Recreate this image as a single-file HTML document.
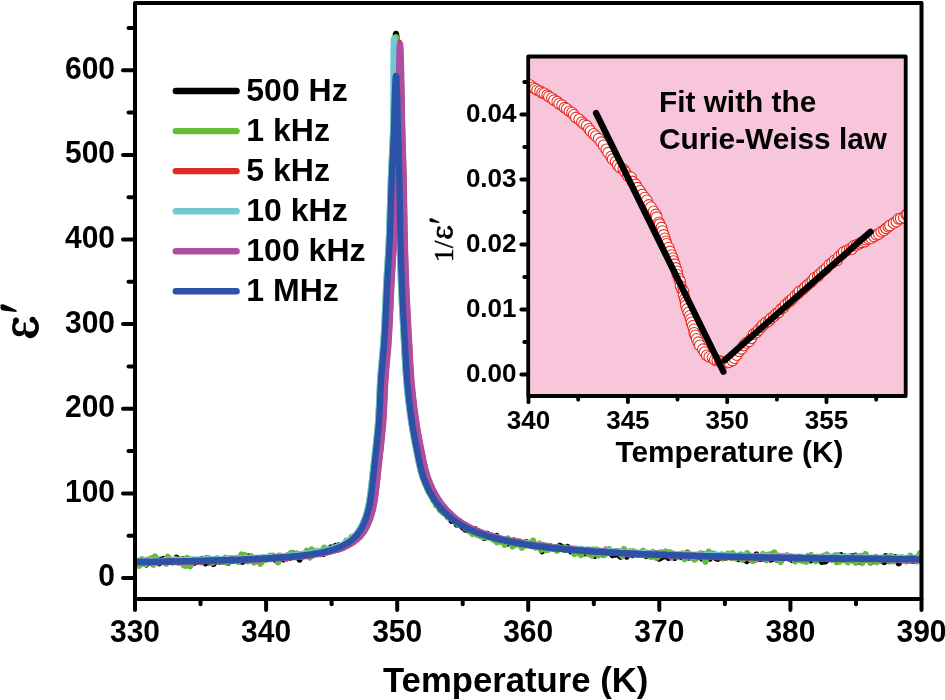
<!DOCTYPE html><html><head><meta charset="utf-8"><style>html,body{margin:0;padding:0;background:#fff;overflow:hidden;width:945px;height:700px}svg{display:block}text{font-family:"Liberation Sans",sans-serif;font-weight:bold}svg{will-change:transform}</style></head><body>
<svg width="945" height="700" viewBox="0 0 945 700">
<rect width="945" height="700" fill="#fff"/>
<g fill="none" stroke-linejoin="round" stroke-linecap="round" stroke-width="6.3" clip-path="url(#mainclip)">
<defs><clipPath id="mainclip"><rect x="135.0" y="3.0" width="786.5" height="596.0"/></clipPath></defs>
<path d="M135.0 562.3 L136.6 562.8 L138.2 561.9 L139.8 560.9 L141.4 561.6 L143.0 560.7 L144.6 562.3 L146.2 564.3 L147.8 561.4 L149.4 561.2 L151.0 562.9 L152.6 562.6 L154.2 562.2 L155.8 560.6 L157.4 562.0 L159.0 563.1 L160.6 559.9 L162.2 561.2 L163.8 559.0 L165.4 559.9 L167.0 559.0 L168.6 561.5 L170.2 559.8 L171.8 562.2 L173.4 562.0 L175.0 561.4 L176.6 557.8 L178.2 560.8 L179.8 561.5 L181.4 561.8 L183.0 559.2 L184.6 560.8 L186.2 560.0 L187.8 560.2 L189.4 563.1 L191.0 560.1 L192.6 561.3 L194.2 562.7 L195.8 560.4 L197.4 561.1 L199.0 561.4 L200.6 561.3 L202.2 559.2 L203.8 561.2 L205.4 563.2 L207.0 558.6 L208.6 562.3 L210.2 561.1 L211.8 559.9 L213.4 563.9 L215.0 562.0 L216.6 558.9 L218.2 560.8 L219.8 561.6 L221.4 560.3 L223.0 561.6 L224.6 560.4 L226.2 561.5 L227.8 562.6 L229.4 559.3 L231.0 560.6 L232.6 559.5 L234.2 560.4 L235.8 558.3 L237.4 559.2 L239.0 559.7 L240.6 561.3 L242.2 561.7 L243.8 557.8 L245.4 558.5 L247.0 560.7 L248.6 556.5 L250.2 558.8 L251.8 559.3 L253.4 561.4 L255.0 560.4 L256.6 558.8 L258.2 558.6 L259.8 558.7 L261.3 561.4 L262.9 558.3 L264.5 558.4 L266.1 559.3 L267.7 558.5 L269.3 558.3 L270.9 556.7 L272.5 558.3 L274.1 557.6 L275.7 560.0 L277.3 559.1 L278.9 557.9 L280.5 558.9 L282.1 557.2 L283.7 559.2 L285.3 557.4 L286.9 558.2 L288.5 555.2 L290.1 557.6 L291.7 554.3 L293.3 553.6 L294.9 556.1 L296.4 555.0 L298.0 556.5 L299.6 559.5 L301.2 554.6 L302.8 554.8 L304.4 555.8 L306.0 556.1 L307.6 554.8 L309.2 554.6 L310.7 555.7 L312.3 555.2 L313.9 552.6 L315.5 553.8 L317.1 553.7 L318.6 551.7 L320.2 553.4 L321.8 551.4 L323.3 553.8 L324.9 552.3 L326.5 551.8 L328.0 550.4 L329.5 550.7 L331.1 547.5 L332.6 548.3 L334.1 550.0 L335.7 545.9 L337.2 549.6 L338.7 545.4 L340.1 548.3 L341.6 545.4 L343.0 546.9 L344.5 545.3 L345.9 542.5 L347.2 545.1 L348.6 544.4 L349.9 541.7 L351.2 540.5 L352.4 539.7 L353.6 537.8 L354.8 538.6 L355.9 536.0 L356.9 535.2 L357.9 533.5 L358.9 532.3 L359.8 530.7 L360.7 530.7 L361.5 528.6 L362.2 527.7 L363.0 525.9 L363.6 524.2 L364.3 522.9 L364.9 521.4 L365.5 520.0 L366.0 518.4 L366.5 516.9 L367.0 515.4 L367.5 513.9 L367.9 512.4 L368.3 510.8 L368.7 509.2 L369.0 507.7 L369.3 506.1 L369.6 504.6 L369.9 503.0 L370.2 501.4 L370.4 499.8 L370.7 498.2 L370.9 496.7 L371.1 495.1 L371.4 493.5 L371.6 491.9 L371.8 490.3 L372.0 488.7 L372.1 487.1 L372.3 485.5 L372.5 483.9 L372.7 482.4 L372.8 480.8 L373.0 479.2 L373.2 477.6 L373.4 476.0 L373.6 474.4 L373.7 472.8 L373.9 471.2 L374.1 469.6 L374.2 468.0 L374.4 466.5 L374.6 464.9 L374.8 463.3 L374.9 461.7 L375.1 460.1 L375.3 458.5 L375.5 456.9 L375.6 455.3 L375.8 453.7 L376.0 452.1 L376.2 450.5 L376.4 449.0 L376.5 447.4 L376.7 445.8 L376.9 444.2 L377.1 442.6 L377.2 441.0 L377.4 439.4 L377.5 437.8 L377.7 436.2 L377.9 434.6 L378.0 433.0 L378.2 431.5 L378.3 429.9 L378.5 428.3 L378.6 426.7 L378.7 425.1 L378.9 423.5 L379.0 421.9 L379.1 420.3 L379.2 418.7 L379.3 417.1 L379.4 415.5 L379.5 413.9 L379.6 412.3 L379.6 410.7 L379.7 409.1 L379.8 407.5 L379.9 405.9 L379.9 404.3 L380.0 402.7 L380.1 401.1 L380.2 399.5 L380.2 397.9 L380.3 396.3 L380.4 394.7 L380.4 393.1 L380.5 391.5 L380.6 389.9 L380.7 388.3 L380.7 386.7 L380.8 385.1 L380.9 383.5 L381.0 381.9 L381.1 380.3 L381.2 378.7 L381.3 377.1 L381.4 375.6 L381.5 374.0 L381.7 372.4 L381.8 370.8 L381.9 369.2 L382.1 367.6 L382.2 366.0 L382.4 364.4 L382.5 362.8 L382.7 361.2 L382.8 359.6 L383.0 358.0 L383.1 356.4 L383.2 354.8 L383.4 353.2 L383.5 351.6 L383.7 350.0 L383.8 348.5 L383.9 346.9 L384.1 345.3 L384.2 343.7 L384.3 342.1 L384.4 340.5 L384.5 338.9 L384.6 337.3 L384.7 335.7 L384.8 334.1 L384.9 332.5 L385.0 330.9 L385.0 329.3 L385.1 327.7 L385.2 326.1 L385.3 324.5 L385.4 322.9 L385.5 321.3 L385.5 319.7 L385.6 318.1 L385.7 316.5 L385.8 314.9 L385.8 313.3 L385.9 311.7 L386.0 310.1 L386.1 308.5 L386.1 306.9 L386.2 305.3 L386.3 303.7 L386.3 302.1 L386.4 300.5 L386.5 298.9 L386.6 297.3 L386.6 295.7 L386.7 294.1 L386.8 292.5 L386.9 290.9 L386.9 289.3 L387.0 287.7 L387.1 286.1 L387.2 284.5 L387.3 282.9 L387.3 281.4 L387.4 279.8 L387.5 278.2 L387.6 276.6 L387.7 275.0 L387.8 273.4 L387.9 271.8 L388.0 270.2 L388.1 268.6 L388.2 267.0 L388.3 265.4 L388.4 263.8 L388.5 262.2 L388.6 260.6 L388.7 259.0 L388.8 257.4 L388.9 255.8 L389.0 254.2 L389.1 252.6 L389.2 251.0 L389.2 249.4 L389.3 247.8 L389.4 246.2 L389.5 244.6 L389.6 243.0 L389.7 241.4 L389.7 239.8 L389.8 238.2 L389.9 236.6 L389.9 235.0 L390.0 233.4 L390.0 231.8 L390.1 230.2 L390.2 228.6 L390.2 227.0 L390.3 225.4 L390.3 223.8 L390.4 222.2 L390.4 220.6 L390.5 219.0 L390.5 217.4 L390.6 215.8 L390.6 214.2 L390.7 212.6 L390.7 211.0 L390.8 209.4 L390.8 207.8 L390.9 206.2 L390.9 204.6 L391.0 203.0 L391.0 201.4 L391.1 199.8 L391.1 198.2 L391.2 196.6 L391.2 195.0 L391.3 193.4 L391.3 191.8 L391.4 190.2 L391.4 188.6 L391.5 187.0 L391.5 185.4 L391.6 183.8 L391.6 182.2 L391.7 180.7 L391.7 179.1 L391.8 177.5 L391.9 175.9 L391.9 174.3 L392.0 172.7 L392.1 171.1 L392.2 169.5 L392.2 167.9 L392.3 166.3 L392.4 164.7 L392.5 163.1 L392.6 161.5 L392.6 159.9 L392.7 158.3 L392.8 156.7 L392.9 155.1 L393.0 153.5 L393.1 151.9 L393.1 150.3 L393.2 148.7 L393.3 147.1 L393.4 145.5 L393.4 143.9 L393.5 142.3 L393.6 140.7 L393.7 139.1 L393.7 137.5 L393.8 135.9 L393.9 134.3 L393.9 132.7 L394.0 131.1 L394.0 129.5 L394.1 127.9 L394.1 126.3 L394.2 124.7 L394.2 123.1 L394.2 121.5 L394.3 119.9 L394.3 118.3 L394.3 116.7 L394.3 115.1 L394.3 113.5 L394.4 111.9 L394.4 110.3 L394.4 108.7 L394.4 107.1 L394.4 105.5 L394.4 103.9 L394.4 102.3 L394.5 100.7 L394.5 99.1 L394.5 97.5 L394.5 95.9 L394.5 94.3 L394.6 92.7 L394.6 91.1 L394.6 89.5 L394.6 87.9 L394.6 86.3 L394.7 84.7 L394.7 83.1 L394.7 81.5 L394.7 79.9 L394.7 78.3 L394.8 76.7 L394.8 75.1 L394.8 73.5 L394.8 71.9 L394.9 70.3 L394.9 68.7 L394.9 67.1 L394.9 65.5 L395.0 63.9 L395.0 62.3 L395.0 60.7 L395.1 59.1 L395.1 57.5 L395.1 55.9 L395.1 54.3 L395.2 52.7 L395.2 51.1 L395.3 49.5 L395.3 47.9 L395.3 46.3 L395.4 44.7 L395.4 43.1 L395.5 41.5 L395.5 39.9 L395.6 38.3 L395.7 36.7 L395.8 35.0 L396.0 33.9 L396.3 35.6 L396.4 37.2 L396.4 38.8 L396.5 40.4 L396.5 42.0 L396.6 43.6 L396.6 45.2 L396.7 46.8 L396.7 48.4 L396.8 50.0 L396.8 51.6 L396.8 53.2 L396.9 54.8 L396.9 56.4 L396.9 58.0 L397.0 59.6 L397.0 61.2 L397.0 62.8 L397.0 64.4 L397.1 66.0 L397.1 67.6 L397.1 69.2 L397.1 70.8 L397.2 72.4 L397.2 74.0 L397.2 75.6 L397.2 77.2 L397.3 78.8 L397.3 80.4 L397.3 82.0 L397.3 83.6 L397.3 85.2 L397.4 86.8 L397.4 88.4 L397.4 90.0 L397.4 91.6 L397.5 93.2 L397.5 94.8 L397.5 96.4 L397.5 98.0 L397.5 99.6 L397.5 101.2 L397.6 102.8 L397.6 104.4 L397.6 106.0 L397.6 107.6 L397.6 109.2 L397.6 110.8 L397.7 112.4 L397.7 114.0 L397.7 115.6 L397.7 117.2 L397.7 118.8 L397.8 120.4 L397.8 122.0 L397.8 123.6 L397.8 125.2 L397.9 126.8 L397.9 128.4 L397.9 130.0 L398.0 131.6 L398.0 133.2 L398.1 134.8 L398.1 136.4 L398.1 138.0 L398.2 139.6 L398.2 141.2 L398.3 142.8 L398.3 144.4 L398.4 146.0 L398.4 147.6 L398.5 149.2 L398.5 150.8 L398.6 152.4 L398.6 154.0 L398.7 155.6 L398.7 157.2 L398.8 158.8 L398.8 160.4 L398.9 162.0 L398.9 163.6 L399.0 165.2 L399.0 166.8 L399.1 168.4 L399.1 170.0 L399.2 171.6 L399.2 173.2 L399.3 174.8 L399.3 176.4 L399.3 178.0 L399.4 179.6 L399.4 181.2 L399.5 182.8 L399.5 184.4 L399.5 186.0 L399.6 187.6 L399.6 189.2 L399.6 190.8 L399.6 192.4 L399.7 194.0 L399.7 195.6 L399.7 197.2 L399.8 198.8 L399.8 200.4 L399.8 202.0 L399.8 203.6 L399.9 205.2 L399.9 206.8 L399.9 208.4 L399.9 210.0 L400.0 211.6 L400.0 213.2 L400.0 214.8 L400.0 216.4 L400.1 218.0 L400.1 219.6 L400.1 221.2 L400.2 222.8 L400.2 224.4 L400.2 226.0 L400.2 227.6 L400.3 229.2 L400.3 230.8 L400.3 232.4 L400.4 234.0 L400.4 235.6 L400.4 237.2 L400.5 238.8 L400.5 240.4 L400.5 242.0 L400.6 243.6 L400.6 245.2 L400.7 246.8 L400.7 248.4 L400.7 250.0 L400.8 251.6 L400.8 253.2 L400.9 254.8 L400.9 256.4 L401.0 258.0 L401.0 259.6 L401.1 261.2 L401.1 262.8 L401.2 264.4 L401.2 266.0 L401.3 267.6 L401.3 269.2 L401.4 270.8 L401.4 272.4 L401.5 274.0 L401.5 275.6 L401.6 277.2 L401.6 278.8 L401.7 280.4 L401.8 282.0 L401.8 283.6 L401.9 285.2 L402.0 286.8 L402.0 288.4 L402.1 290.0 L402.2 291.6 L402.2 293.2 L402.3 294.8 L402.4 296.4 L402.4 298.0 L402.5 299.6 L402.6 301.2 L402.7 302.8 L402.8 304.4 L402.8 305.9 L402.9 307.5 L403.0 309.1 L403.1 310.7 L403.2 312.3 L403.3 313.9 L403.3 315.5 L403.4 317.1 L403.5 318.7 L403.6 320.3 L403.7 321.9 L403.8 323.5 L403.9 325.1 L404.0 326.7 L404.0 328.3 L404.1 329.9 L404.2 331.5 L404.3 333.1 L404.4 334.7 L404.5 336.3 L404.6 337.9 L404.7 339.5 L404.7 341.1 L404.8 342.7 L404.9 344.3 L405.0 345.9 L405.1 347.5 L405.2 349.1 L405.3 350.7 L405.3 352.3 L405.4 353.9 L405.5 355.5 L405.6 357.1 L405.7 358.7 L405.8 360.3 L405.9 361.9 L406.0 363.5 L406.1 365.1 L406.2 366.7 L406.3 368.3 L406.4 369.9 L406.5 371.5 L406.6 373.1 L406.7 374.6 L406.8 376.2 L406.9 377.8 L407.0 379.4 L407.2 381.0 L407.3 382.6 L407.4 384.2 L407.6 385.8 L407.7 387.4 L407.9 389.0 L408.0 390.6 L408.2 392.2 L408.4 393.8 L408.5 395.4 L408.7 397.0 L408.9 398.5 L409.1 400.1 L409.3 401.7 L409.5 403.3 L409.6 404.9 L409.8 406.5 L410.0 408.1 L410.3 409.7 L410.5 411.3 L410.7 412.8 L410.9 414.4 L411.1 416.0 L411.3 417.6 L411.5 419.2 L411.8 420.8 L412.0 422.3 L412.2 423.9 L412.5 425.5 L412.7 427.1 L413.0 428.7 L413.2 430.2 L413.5 431.8 L413.8 433.4 L414.1 435.0 L414.4 436.5 L414.6 438.1 L414.9 439.7 L415.2 441.3 L415.5 442.8 L415.8 444.4 L416.1 446.0 L416.5 447.6 L416.8 449.1 L417.1 450.7 L417.4 452.3 L417.7 453.8 L418.0 455.4 L418.3 457.0 L418.7 458.6 L419.0 460.1 L419.3 461.7 L419.6 463.3 L420.0 464.8 L420.3 466.4 L420.7 468.0 L421.1 469.5 L421.5 471.1 L421.9 472.6 L422.3 474.1 L422.8 475.7 L423.2 477.2 L423.8 478.7 L424.3 480.1 L424.9 481.7 L425.6 483.0 L426.2 484.5 L426.8 485.6 L427.5 487.5 L428.2 489.6 L428.9 491.1 L429.6 492.4 L430.3 493.6 L431.1 494.4 L431.9 496.7 L432.7 497.4 L433.6 498.8 L434.4 500.0 L435.3 501.5 L436.2 502.5 L437.2 504.0 L438.1 504.6 L439.1 506.3 L440.1 509.6 L441.2 509.0 L442.2 510.1 L443.3 511.9 L444.5 513.2 L445.6 512.7 L446.8 514.6 L447.9 516.8 L449.2 517.2 L450.4 518.1 L451.6 520.6 L452.9 519.2 L454.2 521.0 L455.5 521.2 L456.8 524.5 L458.2 521.2 L459.5 523.6 L460.9 524.6 L462.3 526.9 L463.7 527.6 L465.1 529.4 L466.5 526.2 L468.0 530.0 L469.4 529.3 L470.9 529.4 L472.3 531.7 L473.8 530.3 L475.3 529.3 L476.8 532.3 L478.3 531.2 L479.8 533.0 L481.3 535.0 L482.8 535.4 L484.3 537.8 L485.8 535.7 L487.4 534.2 L488.9 535.8 L490.4 536.0 L492.0 536.0 L493.5 538.9 L495.1 537.7 L496.6 536.1 L498.2 540.5 L499.7 539.6 L501.3 540.7 L502.8 540.7 L504.4 541.8 L505.9 541.3 L507.5 543.4 L509.1 542.5 L510.6 542.8 L512.2 543.1 L513.8 540.6 L515.4 542.8 L516.9 543.0 L518.5 544.0 L520.1 541.9 L521.7 546.7 L523.2 544.6 L524.8 542.9 L526.4 542.3 L528.0 544.8 L529.6 545.3 L531.2 544.6 L532.7 546.0 L534.3 545.1 L535.9 547.2 L537.5 545.4 L539.1 546.7 L540.7 548.4 L542.3 551.1 L543.8 545.8 L545.4 546.8 L547.0 546.4 L548.6 549.1 L550.2 546.3 L551.8 547.5 L553.4 548.4 L555.0 547.1 L556.6 547.3 L558.2 548.2 L559.8 545.8 L561.3 547.0 L562.9 548.7 L564.5 549.7 L566.1 549.4 L567.7 547.1 L569.3 549.2 L570.9 551.3 L572.5 551.1 L574.1 550.2 L575.7 549.1 L577.3 551.6 L578.9 549.8 L580.5 549.0 L582.1 549.7 L583.7 553.3 L585.3 551.5 L586.9 553.1 L588.5 550.7 L590.1 553.0 L591.6 550.7 L593.2 551.5 L594.8 555.7 L596.4 553.2 L598.0 551.3 L599.6 552.1 L601.2 552.8 L602.8 554.3 L604.4 551.7 L606.0 549.9 L607.6 552.2 L609.2 552.8 L610.8 553.0 L612.4 555.0 L614.0 553.5 L615.6 554.4 L617.2 551.5 L618.8 554.6 L620.4 556.6 L622.0 554.7 L623.6 553.9 L625.2 553.9 L626.8 556.5 L628.4 552.3 L630.0 553.7 L631.6 554.6 L633.2 555.1 L634.8 553.4 L636.4 554.6 L638.0 553.8 L639.6 554.5 L641.2 554.1 L642.8 552.7 L644.4 554.5 L646.0 555.9 L647.6 553.1 L649.2 554.3 L650.8 555.8 L652.4 553.2 L654.0 555.2 L655.6 553.3 L657.2 556.8 L658.8 558.6 L660.4 558.2 L662.0 554.8 L663.6 556.4 L665.2 555.5 L666.8 555.5 L668.4 557.8 L670.0 553.4 L671.6 557.1 L673.1 555.5 L674.7 557.8 L676.3 556.0 L677.9 554.7 L679.5 556.2 L681.1 557.0 L682.7 555.9 L684.3 556.7 L685.9 555.2 L687.5 552.7 L689.1 557.5 L690.7 557.2 L692.3 556.4 L693.9 556.3 L695.5 557.8 L697.1 555.6 L698.7 555.2 L700.3 556.1 L701.9 558.3 L703.5 554.3 L705.1 558.3 L706.7 555.6 L708.3 554.9 L709.9 558.6 L711.5 556.5 L713.1 554.7 L714.7 556.2 L716.3 558.2 L717.9 558.7 L719.5 556.2 L721.1 557.5 L722.7 558.0 L724.3 556.0 L725.9 557.6 L727.5 557.0 L729.1 556.2 L730.7 556.4 L732.3 557.3 L733.9 557.2 L735.5 556.3 L737.1 556.6 L738.7 559.0 L740.3 557.7 L741.9 558.7 L743.5 559.2 L745.1 558.3 L746.7 561.0 L748.3 556.2 L749.9 558.8 L751.5 557.0 L753.1 560.4 L754.7 560.2 L756.3 554.6 L757.9 556.2 L759.5 558.7 L761.1 558.9 L762.7 558.9 L764.3 557.7 L765.9 558.5 L767.5 558.8 L769.1 557.7 L770.7 559.5 L772.3 554.4 L773.9 558.9 L775.5 556.4 L777.1 559.5 L778.7 557.7 L780.3 556.7 L781.9 558.7 L783.5 556.7 L785.1 556.7 L786.7 555.7 L788.3 558.1 L789.9 559.0 L791.5 559.8 L793.1 558.0 L794.7 559.9 L796.3 558.3 L797.9 558.2 L799.5 559.2 L801.1 560.0 L802.7 557.9 L804.3 558.0 L805.9 558.2 L807.5 558.6 L809.1 557.1 L810.7 560.1 L812.3 557.9 L813.9 559.2 L815.5 557.3 L817.1 559.1 L818.7 559.2 L820.3 558.0 L821.9 561.8 L823.5 559.2 L825.1 561.4 L826.7 560.2 L828.3 557.7 L829.9 558.1 L831.5 559.4 L833.1 558.9 L834.7 558.9 L836.3 558.4 L837.9 556.0 L839.5 558.5 L841.1 555.4 L842.7 559.5 L844.3 557.8 L845.9 557.8 L847.5 558.6 L849.1 559.4 L850.7 556.7 L852.3 556.3 L853.9 557.3 L855.5 555.9 L857.1 557.5 L858.7 561.5 L860.3 557.4 L861.9 560.1 L863.5 557.0 L865.1 559.6 L866.7 558.6 L868.3 559.1 L869.9 560.0 L871.5 561.9 L873.1 559.5 L874.7 559.4 L876.3 557.7 L877.9 560.1 L879.5 558.9 L881.1 560.6 L882.7 559.2 L884.3 562.0 L885.9 556.2 L887.5 558.9 L889.1 560.7 L890.7 558.8 L892.3 558.1 L893.9 559.0 L895.5 557.3 L897.1 559.6 L898.7 563.2 L900.3 561.2 L901.9 557.7 L903.5 558.1 L905.1 558.8 L906.7 561.0 L908.3 558.2 L909.9 558.4 L911.5 560.9 L913.1 560.9 L914.7 559.0 L916.3 557.8 L917.9 557.2 L919.5 558.5 L921.1 556.1" stroke="#000000"/>
<path d="M134.2 563.4 L135.8 560.5 L137.4 562.8 L139.0 565.7 L140.6 564.2 L142.2 559.3 L143.8 563.5 L145.4 564.1 L147.0 560.1 L148.6 559.6 L150.2 561.4 L151.8 558.2 L153.4 564.7 L155.0 556.5 L156.6 559.2 L158.2 560.9 L159.8 561.0 L161.4 561.8 L163.0 562.0 L164.6 560.9 L166.2 563.7 L167.8 556.8 L169.4 561.3 L171.0 559.8 L172.6 561.5 L174.2 561.7 L175.8 559.3 L177.4 559.8 L179.0 562.8 L180.6 561.8 L182.2 559.6 L183.8 565.3 L185.4 565.8 L187.0 557.9 L188.6 561.6 L190.2 566.2 L191.8 562.5 L193.4 561.3 L195.0 560.3 L196.6 559.6 L198.2 560.3 L199.8 559.5 L201.4 562.2 L203.0 559.8 L204.6 559.6 L206.2 558.0 L207.8 560.4 L209.4 558.6 L211.0 560.0 L212.6 562.5 L214.2 561.1 L215.8 561.3 L217.4 561.0 L219.0 560.3 L220.6 559.8 L222.2 559.4 L223.8 561.6 L225.4 557.7 L227.0 562.7 L228.6 559.9 L230.2 558.2 L231.8 558.7 L233.4 558.3 L235.0 560.0 L236.6 558.1 L238.2 561.9 L239.8 557.8 L241.4 554.6 L243.0 557.8 L244.6 555.0 L246.2 559.1 L247.8 561.3 L249.4 560.4 L251.0 556.2 L252.6 557.3 L254.2 562.6 L255.8 559.4 L257.4 558.7 L259.0 560.8 L260.5 563.7 L262.1 561.1 L263.7 558.6 L265.3 559.0 L266.9 559.5 L268.5 556.8 L270.1 555.8 L271.7 558.0 L273.3 555.8 L274.9 557.5 L276.5 557.7 L278.1 562.3 L279.7 555.5 L281.3 556.9 L282.9 556.7 L284.5 557.9 L286.1 559.0 L287.7 555.7 L289.3 554.8 L290.9 553.0 L292.5 554.3 L294.1 557.2 L295.6 556.0 L297.2 553.6 L298.8 554.8 L300.4 555.5 L302.0 556.3 L303.6 553.8 L305.2 554.3 L306.8 550.8 L308.4 552.0 L309.9 557.5 L311.5 549.4 L313.1 553.0 L314.7 553.8 L316.3 552.4 L317.8 551.2 L319.4 552.4 L321.0 552.2 L322.5 551.7 L324.1 547.7 L325.7 550.9 L327.2 549.1 L328.7 549.3 L330.3 550.4 L331.8 550.7 L333.3 550.7 L334.9 547.5 L336.4 549.7 L337.9 549.6 L339.3 548.9 L340.8 548.6 L342.2 545.1 L343.7 544.4 L345.1 545.3 L346.4 540.8 L347.8 542.5 L349.1 540.5 L350.4 539.8 L351.6 536.9 L352.8 537.1 L354.0 537.1 L355.1 537.0 L356.1 535.8 L357.1 533.5 L358.1 532.1 L359.0 530.3 L359.9 529.9 L360.7 528.1 L361.4 527.1 L362.2 526.1 L362.8 523.9 L363.5 522.0 L364.1 520.8 L364.7 519.2 L365.2 517.9 L365.7 516.5 L366.2 514.9 L366.7 513.4 L367.1 511.9 L367.5 510.3 L367.9 508.7 L368.2 507.2 L368.5 505.6 L368.8 504.1 L369.1 502.5 L369.4 500.9 L369.6 499.3 L369.9 497.7 L370.1 496.2 L370.3 494.6 L370.6 493.0 L370.8 491.4 L371.0 489.8 L371.2 488.2 L371.3 486.6 L371.5 485.0 L371.7 483.4 L371.9 481.9 L372.0 480.3 L372.2 478.7 L372.4 477.1 L372.6 475.5 L372.8 473.9 L372.9 472.3 L373.1 470.7 L373.3 469.1 L373.4 467.5 L373.6 466.0 L373.8 464.4 L374.0 462.8 L374.1 461.2 L374.3 459.6 L374.5 458.0 L374.7 456.4 L374.8 454.8 L375.0 453.2 L375.2 451.6 L375.4 450.0 L375.6 448.5 L375.7 446.9 L375.9 445.3 L376.1 443.7 L376.3 442.1 L376.4 440.5 L376.6 438.9 L376.7 437.3 L376.9 435.7 L377.1 434.1 L377.2 432.5 L377.4 431.0 L377.5 429.4 L377.7 427.8 L377.8 426.2 L377.9 424.6 L378.1 423.0 L378.2 421.4 L378.3 419.8 L378.4 418.2 L378.5 416.6 L378.6 415.0 L378.7 413.4 L378.8 411.8 L378.8 410.2 L378.9 408.6 L379.0 407.0 L379.1 405.4 L379.1 403.8 L379.2 402.2 L379.3 400.6 L379.4 399.0 L379.4 397.4 L379.5 395.8 L379.6 394.2 L379.6 392.6 L379.7 391.0 L379.8 389.4 L379.9 387.8 L379.9 386.2 L380.0 384.6 L380.1 383.0 L380.2 381.4 L380.3 379.8 L380.4 378.2 L380.5 376.6 L380.6 375.1 L380.7 373.5 L380.9 371.9 L381.0 370.3 L381.1 368.7 L381.3 367.1 L381.4 365.5 L381.6 363.9 L381.7 362.3 L381.9 360.7 L382.0 359.1 L382.2 357.5 L382.3 355.9 L382.4 354.3 L382.6 352.7 L382.7 351.1 L382.9 349.5 L383.0 348.0 L383.1 346.4 L383.3 344.8 L383.4 343.2 L383.5 341.6 L383.6 340.0 L383.7 338.4 L383.8 336.8 L383.9 335.2 L384.0 333.6 L384.1 332.0 L384.2 330.4 L384.2 328.8 L384.3 327.2 L384.4 325.6 L384.5 324.0 L384.6 322.4 L384.7 320.8 L384.7 319.2 L384.8 317.6 L384.9 316.0 L385.0 314.4 L385.0 312.8 L385.1 311.2 L385.2 309.6 L385.3 308.0 L385.3 306.4 L385.4 304.8 L385.5 303.2 L385.5 301.6 L385.6 300.0 L385.7 298.4 L385.8 296.8 L385.8 295.2 L385.9 293.6 L386.0 292.0 L386.1 290.4 L386.1 288.8 L386.2 287.2 L386.3 285.6 L386.4 284.0 L386.5 282.4 L386.5 280.9 L386.6 279.3 L386.7 277.7 L386.8 276.1 L386.9 274.5 L387.0 272.9 L387.1 271.3 L387.2 269.7 L387.3 268.1 L387.4 266.5 L387.5 264.9 L387.6 263.3 L387.7 261.7 L387.8 260.1 L387.9 258.5 L388.0 256.9 L388.1 255.3 L388.2 253.7 L388.3 252.1 L388.4 250.5 L388.4 248.9 L388.5 247.3 L388.6 245.7 L388.7 244.1 L388.8 242.5 L388.9 240.9 L388.9 239.3 L389.0 237.7 L389.1 236.1 L389.1 234.5 L389.2 232.9 L389.2 231.3 L389.3 229.7 L389.4 228.1 L389.4 226.5 L389.5 224.9 L389.5 223.3 L389.6 221.7 L389.6 220.1 L389.7 218.5 L389.7 216.9 L389.8 215.3 L389.8 213.7 L389.9 212.1 L389.9 210.5 L390.0 208.9 L390.0 207.3 L390.1 205.7 L390.1 204.1 L390.2 202.5 L390.2 200.9 L390.3 199.3 L390.3 197.7 L390.4 196.1 L390.4 194.5 L390.5 192.9 L390.5 191.3 L390.6 189.7 L390.6 188.1 L390.7 186.5 L390.7 184.9 L390.8 183.3 L390.8 181.7 L390.9 180.2 L390.9 178.6 L391.0 177.0 L391.1 175.4 L391.1 173.8 L391.2 172.2 L391.3 170.6 L391.3 169.0 L391.4 167.4 L391.5 165.8 L391.6 164.2 L391.6 162.6 L391.7 161.0 L391.8 159.4 L391.9 157.8 L391.9 156.2 L392.0 154.6 L392.1 153.0 L392.2 151.4 L392.3 149.8 L392.3 148.2 L392.4 146.6 L392.5 145.0 L392.6 143.4 L392.6 141.8 L392.7 140.2 L392.8 138.6 L392.8 137.0 L392.9 135.4 L393.0 133.8 L393.0 132.2 L393.1 130.6 L393.2 129.0 L393.2 127.4 L393.3 125.8 L393.3 124.2 L393.4 122.6 L393.4 121.0 L393.5 119.4 L393.5 117.8 L393.5 116.2 L393.6 114.6 L393.6 113.0 L393.6 111.4 L393.7 109.8 L393.7 108.2 L393.7 106.6 L393.8 105.0 L393.8 103.4 L393.8 101.8 L393.9 100.2 L393.9 98.6 L393.9 97.0 L394.0 95.4 L394.0 93.8 L394.0 92.2 L394.1 90.6 L394.1 89.0 L394.1 87.4 L394.2 85.8 L394.2 84.2 L394.3 82.6 L394.3 81.0 L394.3 79.4 L394.4 77.8 L394.4 76.2 L394.4 74.6 L394.5 73.0 L394.5 71.4 L394.6 69.8 L394.6 68.2 L394.7 66.6 L394.7 65.0 L394.7 63.4 L394.8 61.8 L394.8 60.2 L394.9 58.6 L394.9 57.0 L395.0 55.4 L395.0 53.8 L395.1 52.2 L395.1 50.6 L395.2 49.0 L395.3 47.4 L395.3 45.8 L395.4 44.2 L395.5 42.6 L395.5 41.0 L395.6 39.4 L395.8 37.8 L396.0 37.1 L396.2 37.9 L396.3 39.5 L396.4 41.1 L396.4 42.7 L396.5 44.3 L396.5 45.9 L396.5 47.5 L396.6 49.1 L396.6 50.7 L396.6 52.3 L396.6 53.9 L396.7 55.5 L396.7 57.1 L396.7 58.7 L396.7 60.3 L396.7 61.9 L396.7 63.5 L396.8 65.1 L396.8 66.7 L396.8 68.3 L396.8 69.9 L396.8 71.5 L396.8 73.1 L396.8 74.7 L396.8 76.3 L396.8 77.9 L396.8 79.5 L396.9 81.1 L396.9 82.7 L396.9 84.3 L396.9 85.9 L396.9 87.5 L396.9 89.1 L396.9 90.7 L396.9 92.3 L396.9 93.9 L396.9 95.5 L396.9 97.1 L396.9 98.7 L396.9 100.3 L396.9 101.9 L396.9 103.5 L396.9 105.1 L396.9 106.7 L396.9 108.3 L396.9 109.9 L396.9 111.5 L396.9 113.1 L396.9 114.7 L396.9 116.3 L396.9 117.9 L396.9 119.5 L397.0 121.1 L397.0 122.7 L397.0 124.3 L397.0 125.9 L397.0 127.5 L397.0 129.1 L397.1 130.7 L397.1 132.3 L397.1 133.9 L397.2 135.5 L397.2 137.1 L397.3 138.7 L397.3 140.3 L397.4 141.9 L397.4 143.5 L397.5 145.1 L397.5 146.7 L397.6 148.3 L397.6 149.9 L397.7 151.5 L397.7 153.1 L397.8 154.7 L397.9 156.3 L397.9 157.9 L398.0 159.5 L398.0 161.1 L398.1 162.7 L398.1 164.3 L398.2 165.9 L398.3 167.5 L398.3 169.1 L398.4 170.7 L398.4 172.3 L398.5 173.9 L398.5 175.5 L398.5 177.1 L398.6 178.7 L398.6 180.3 L398.6 181.9 L398.7 183.5 L398.7 185.1 L398.7 186.7 L398.8 188.3 L398.8 189.9 L398.8 191.5 L398.9 193.1 L398.9 194.7 L398.9 196.3 L398.9 197.9 L399.0 199.5 L399.0 201.1 L399.0 202.7 L399.1 204.3 L399.1 205.9 L399.1 207.5 L399.1 209.1 L399.2 210.7 L399.2 212.3 L399.2 213.9 L399.2 215.5 L399.3 217.1 L399.3 218.7 L399.3 220.3 L399.3 221.9 L399.4 223.5 L399.4 225.1 L399.4 226.7 L399.5 228.3 L399.5 229.9 L399.5 231.5 L399.6 233.1 L399.6 234.7 L399.6 236.3 L399.7 237.9 L399.7 239.5 L399.7 241.1 L399.8 242.7 L399.8 244.3 L399.8 245.9 L399.9 247.5 L399.9 249.1 L400.0 250.7 L400.0 252.3 L400.1 253.9 L400.1 255.5 L400.2 257.1 L400.2 258.7 L400.2 260.3 L400.3 261.9 L400.3 263.5 L400.4 265.1 L400.4 266.7 L400.5 268.3 L400.6 269.9 L400.6 271.5 L400.7 273.1 L400.7 274.7 L400.8 276.3 L400.8 277.9 L400.9 279.5 L400.9 281.1 L401.0 282.7 L401.1 284.3 L401.1 285.9 L401.2 287.5 L401.3 289.1 L401.3 290.7 L401.4 292.3 L401.5 293.9 L401.6 295.4 L401.6 297.0 L401.7 298.6 L401.8 300.2 L401.9 301.8 L401.9 303.4 L402.0 305.0 L402.1 306.6 L402.2 308.2 L402.3 309.8 L402.4 311.4 L402.4 313.0 L402.5 314.6 L402.6 316.2 L402.7 317.8 L402.8 319.4 L402.9 321.0 L403.0 322.6 L403.0 324.2 L403.1 325.8 L403.2 327.4 L403.3 329.0 L403.4 330.6 L403.5 332.2 L403.6 333.8 L403.7 335.4 L403.7 337.0 L403.8 338.6 L403.9 340.2 L404.0 341.8 L404.1 343.4 L404.2 345.0 L404.3 346.6 L404.3 348.2 L404.4 349.8 L404.5 351.4 L404.6 353.0 L404.7 354.6 L404.8 356.2 L404.9 357.8 L405.0 359.4 L405.0 361.0 L405.1 362.6 L405.2 364.2 L405.3 365.8 L405.4 367.4 L405.5 369.0 L405.6 370.5 L405.7 372.1 L405.9 373.7 L406.0 375.3 L406.1 376.9 L406.2 378.5 L406.3 380.1 L406.5 381.7 L406.6 383.3 L406.7 384.9 L406.9 386.5 L407.0 388.1 L407.2 389.7 L407.3 391.3 L407.5 392.9 L407.7 394.5 L407.9 396.0 L408.0 397.6 L408.2 399.2 L408.4 400.8 L408.6 402.4 L408.8 404.0 L409.0 405.6 L409.2 407.2 L409.4 408.8 L409.6 410.3 L409.8 411.9 L410.0 413.5 L410.2 415.1 L410.5 416.7 L410.7 418.3 L410.9 419.9 L411.1 421.4 L411.4 423.0 L411.6 424.6 L411.9 426.2 L412.1 427.8 L412.4 429.3 L412.6 430.9 L412.9 432.5 L413.2 434.1 L413.5 435.6 L413.8 437.2 L414.1 438.8 L414.4 440.4 L414.7 441.9 L415.0 443.5 L415.3 445.1 L415.6 446.7 L415.9 448.2 L416.2 449.8 L416.5 451.4 L416.8 452.9 L417.1 454.5 L417.5 456.1 L417.8 457.6 L418.1 459.2 L418.4 460.8 L418.8 462.4 L419.1 463.9 L419.5 465.5 L419.8 467.1 L420.2 468.6 L420.6 470.2 L421.0 471.7 L421.4 473.2 L421.8 474.8 L422.3 476.2 L422.8 477.6 L423.4 479.5 L424.0 480.8 L424.6 481.8 L425.2 484.3 L425.9 484.9 L426.5 486.8 L427.2 488.2 L427.9 490.2 L428.6 490.8 L429.3 493.0 L430.1 493.4 L430.9 495.9 L431.7 496.1 L432.5 497.7 L433.4 500.7 L434.3 500.9 L435.2 502.1 L436.1 505.3 L437.1 504.9 L438.1 505.0 L439.1 507.8 L440.1 507.0 L441.2 510.7 L442.3 512.1 L443.4 511.1 L444.5 512.1 L445.7 514.3 L446.8 515.1 L448.0 514.8 L449.3 518.0 L450.5 515.2 L451.8 518.5 L453.1 519.5 L454.4 520.6 L455.7 522.4 L457.0 520.8 L458.4 524.7 L459.8 524.2 L461.1 524.2 L462.5 523.7 L463.9 524.8 L465.4 528.2 L466.8 526.6 L468.2 529.1 L469.7 531.6 L471.2 532.2 L472.6 533.9 L474.1 531.0 L475.6 530.1 L477.1 534.7 L478.6 533.9 L480.1 536.0 L481.6 534.4 L483.1 537.2 L484.6 537.0 L486.2 537.2 L487.7 537.3 L489.2 537.5 L490.8 537.7 L492.3 538.1 L493.9 540.0 L495.4 537.4 L497.0 542.3 L498.5 539.0 L500.1 541.6 L501.6 539.8 L503.2 539.8 L504.7 544.8 L506.3 540.3 L507.9 538.7 L509.4 540.2 L511.0 541.3 L512.6 546.6 L514.2 542.9 L515.7 544.7 L517.3 541.0 L518.9 544.1 L520.5 545.0 L522.0 547.6 L523.6 542.7 L525.2 545.6 L526.8 545.3 L528.4 542.7 L530.0 545.1 L531.5 544.8 L533.1 540.7 L534.7 547.0 L536.3 547.1 L537.9 545.3 L539.5 543.6 L541.1 549.7 L542.6 547.3 L544.2 549.1 L545.8 550.1 L547.4 546.2 L549.0 549.2 L550.6 547.2 L552.2 547.7 L553.8 547.8 L555.4 548.2 L557.0 550.7 L558.5 548.8 L560.1 548.3 L561.7 548.2 L563.3 549.7 L564.9 547.2 L566.5 548.2 L568.1 549.3 L569.7 548.4 L571.3 549.4 L572.9 548.5 L574.5 554.1 L576.1 552.8 L577.7 551.1 L579.3 550.2 L580.9 555.0 L582.5 551.2 L584.1 550.5 L585.6 551.4 L587.2 551.6 L588.8 554.0 L590.4 551.1 L592.0 555.6 L593.6 549.5 L595.2 552.9 L596.8 549.5 L598.4 555.5 L600.0 551.1 L601.6 551.7 L603.2 553.9 L604.8 554.7 L606.4 549.8 L608.0 551.5 L609.6 549.4 L611.2 552.7 L612.8 552.3 L614.4 551.9 L616.0 551.2 L617.6 552.0 L619.2 551.3 L620.8 554.0 L622.4 556.2 L624.0 549.0 L625.6 552.9 L627.2 552.4 L628.8 554.4 L630.4 551.4 L632.0 553.2 L633.6 551.4 L635.2 555.1 L636.8 553.9 L638.4 553.4 L640.0 554.6 L641.6 553.4 L643.2 550.7 L644.8 555.3 L646.4 554.7 L648.0 553.8 L649.6 556.3 L651.2 556.9 L652.8 552.1 L654.4 552.8 L655.9 557.7 L657.5 557.5 L659.1 553.0 L660.7 552.2 L662.3 553.4 L663.9 553.7 L665.5 551.5 L667.1 554.9 L668.7 552.3 L670.3 552.5 L671.9 557.0 L673.5 553.7 L675.1 555.0 L676.7 556.5 L678.3 557.0 L679.9 554.6 L681.5 555.4 L683.1 553.7 L684.7 559.1 L686.3 556.9 L687.9 553.2 L689.5 555.6 L691.1 557.1 L692.7 556.7 L694.3 559.6 L695.9 558.7 L697.5 554.7 L699.1 555.7 L700.7 553.2 L702.3 556.5 L703.9 556.3 L705.5 561.7 L707.1 556.3 L708.7 551.7 L710.3 554.7 L711.9 556.4 L713.5 553.6 L715.1 554.5 L716.7 555.5 L718.3 557.1 L719.9 556.0 L721.5 554.6 L723.1 558.1 L724.7 555.4 L726.3 555.5 L727.9 553.7 L729.5 555.0 L731.1 558.0 L732.7 553.3 L734.3 556.6 L735.9 558.3 L737.5 556.0 L739.1 557.3 L740.7 554.5 L742.3 559.6 L743.9 559.2 L745.5 557.4 L747.1 553.3 L748.7 554.8 L750.3 559.1 L751.9 560.7 L753.5 557.7 L755.1 559.7 L756.7 555.9 L758.3 556.8 L759.9 557.2 L761.5 558.1 L763.1 554.1 L764.7 559.3 L766.3 560.1 L767.9 554.9 L769.5 554.5 L771.1 558.1 L772.7 556.1 L774.3 552.5 L775.9 559.2 L777.5 557.8 L779.1 556.5 L780.7 562.0 L782.3 557.9 L783.9 556.0 L785.5 557.9 L787.1 555.5 L788.7 556.1 L790.3 558.5 L791.9 556.6 L793.5 556.8 L795.1 561.3 L796.7 559.6 L798.3 559.5 L799.9 559.0 L801.5 558.9 L803.1 561.0 L804.7 557.9 L806.3 561.8 L807.9 556.0 L809.5 557.4 L811.1 555.1 L812.7 557.3 L814.3 559.1 L815.9 561.1 L817.5 556.7 L819.1 558.1 L820.7 557.4 L822.3 556.6 L823.9 555.7 L825.5 558.3 L827.1 554.6 L828.7 558.5 L830.3 558.3 L831.9 556.9 L833.5 556.2 L835.1 555.4 L836.7 562.3 L838.3 555.5 L839.9 561.6 L841.5 559.6 L843.1 557.6 L844.7 556.0 L846.3 560.6 L847.9 562.1 L849.5 556.5 L851.1 557.9 L852.7 560.7 L854.3 559.2 L855.9 562.7 L857.5 557.3 L859.1 559.7 L860.7 556.0 L862.3 563.0 L863.9 557.1 L865.5 554.0 L867.1 558.4 L868.7 558.4 L870.3 562.7 L871.9 558.0 L873.5 558.7 L875.1 560.0 L876.7 562.1 L878.3 558.6 L879.9 560.9 L881.5 559.9 L883.1 558.2 L884.7 559.0 L886.3 558.9 L887.9 556.9 L889.5 561.4 L891.1 555.9 L892.7 561.3 L894.3 560.9 L895.9 558.7 L897.5 557.3 L899.1 558.5 L900.7 559.9 L902.3 560.5 L903.9 559.6 L905.5 561.1 L907.1 557.8 L908.7 559.5 L910.3 555.7 L911.9 560.6 L913.5 559.4 L915.1 558.2 L916.7 561.5 L918.3 560.5 L919.9 553.2" stroke="#66bb3a"/>
<path d="M139.0 562.0 L140.0 562.0 L141.0 562.0 L142.0 562.0 L143.0 562.0 L144.0 562.0 L145.0 562.0 L146.0 561.9 L147.0 561.9 L148.0 561.9 L149.0 561.9 L150.0 561.9 L151.0 561.9 L152.0 561.9 L153.0 561.8 L154.0 561.8 L155.0 561.8 L156.0 561.8 L157.0 561.8 L158.0 561.8 L159.0 561.8 L160.0 561.7 L161.0 561.7 L162.0 561.7 L163.0 561.7 L164.0 561.7 L165.0 561.7 L166.0 561.6 L167.0 561.6 L168.0 561.6 L169.0 561.6 L170.0 561.6 L171.0 561.6 L172.0 561.5 L173.0 561.5 L174.0 561.5 L175.0 561.5 L176.0 561.5 L177.0 561.4 L178.0 561.4 L179.0 561.4 L180.0 561.4 L181.0 561.4 L182.0 561.4 L183.0 561.3 L184.0 561.3 L185.0 561.3 L186.0 561.3 L187.0 561.3 L188.0 561.2 L189.0 561.2 L190.0 561.2 L191.0 561.2 L192.0 561.2 L193.0 561.1 L194.0 561.1 L195.0 561.1 L196.0 561.1 L197.0 561.0 L198.0 561.0 L199.0 561.0 L200.0 561.0 L201.0 561.0 L202.0 560.9 L203.0 560.9 L204.0 560.9 L205.0 560.9 L206.0 560.8 L207.0 560.8 L208.0 560.8 L209.0 560.8 L210.0 560.7 L211.0 560.7 L212.0 560.7 L213.0 560.7 L214.0 560.6 L215.0 560.6 L216.0 560.6 L217.0 560.6 L218.0 560.5 L219.0 560.5 L220.0 560.5 L221.0 560.4 L222.0 560.4 L223.0 560.4 L224.0 560.4 L225.0 560.3 L226.0 560.3 L227.0 560.3 L228.0 560.2 L229.0 560.2 L230.0 560.2 L231.0 560.1 L232.0 560.1 L233.0 560.1 L234.0 560.0 L235.0 560.0 L236.0 560.0 L237.0 559.9 L238.0 559.9 L239.0 559.9 L240.0 559.8 L241.0 559.8 L242.0 559.8 L243.0 559.7 L244.0 559.7 L245.0 559.6 L246.0 559.6 L247.0 559.6 L248.0 559.5 L249.0 559.5 L250.0 559.4 L251.0 559.4 L252.0 559.4 L253.0 559.3 L254.0 559.3 L255.0 559.2 L256.0 559.2 L257.0 559.1 L258.0 559.1 L259.0 559.0 L260.0 559.0 L261.0 558.9 L262.0 558.9 L263.0 558.8 L264.0 558.8 L264.9 558.7 L265.9 558.7 L266.9 558.6 L267.9 558.6 L268.9 558.5 L269.9 558.5 L270.9 558.4 L271.9 558.3 L272.9 558.3 L273.9 558.2 L274.9 558.2 L275.9 558.1 L276.9 558.0 L277.9 558.0 L278.9 557.9 L279.9 557.8 L280.9 557.8 L281.9 557.7 L282.9 557.6 L283.9 557.6 L284.9 557.5 L285.9 557.4 L286.9 557.3 L287.9 557.3 L288.9 557.2 L289.9 557.1 L290.9 557.0 L291.9 556.9 L292.9 556.8 L293.9 556.8 L294.9 556.7 L295.9 556.6 L296.9 556.5 L297.9 556.4 L298.9 556.3 L299.9 556.2 L300.8 556.1 L301.8 556.0 L302.8 555.9 L303.8 555.8 L304.8 555.6 L305.8 555.5 L306.8 555.4 L307.8 555.3 L308.8 555.2 L309.8 555.0 L310.8 554.9 L311.8 554.8 L312.8 554.6 L313.7 554.5 L314.7 554.3 L315.7 554.2 L316.7 554.0 L317.7 553.9 L318.7 553.7 L319.7 553.6 L320.7 553.4 L321.6 553.2 L322.6 553.0 L323.6 552.8 L324.6 552.7 L325.6 552.5 L326.6 552.2 L327.5 552.0 L328.5 551.8 L329.5 551.6 L330.5 551.4 L331.4 551.1 L332.4 550.9 L333.4 550.6 L334.3 550.3 L335.3 550.1 L336.2 549.8 L337.2 549.5 L338.1 549.2 L339.1 548.9 L340.0 548.5 L341.0 548.2 L341.9 547.8 L342.8 547.5 L343.8 547.1 L344.7 546.7 L345.6 546.3 L346.5 545.9 L347.4 545.4 L348.3 545.0 L349.2 544.5 L350.0 544.0 L350.9 543.5 L351.8 543.0 L352.6 542.4 L353.4 541.8 L354.2 541.3 L355.0 540.7 L355.8 540.0 L356.6 539.4 L357.3 538.7 L358.1 538.0 L358.8 537.3 L359.5 536.6 L360.1 535.9 L360.8 535.1 L361.4 534.4 L362.1 533.6 L362.7 532.8 L363.2 532.0 L363.8 531.1 L364.3 530.3 L364.9 529.4 L365.4 528.6 L365.9 527.7 L366.3 526.8 L366.8 525.9 L367.2 525.0 L367.6 524.1 L368.0 523.2 L368.4 522.3 L368.8 521.4 L369.2 520.4 L369.5 519.5 L369.9 518.5 L370.2 517.6 L370.5 516.7 L370.8 515.7 L371.1 514.7 L371.4 513.8 L371.7 512.8 L371.9 511.9 L372.2 510.9 L372.5 509.9 L372.7 508.9 L372.9 508.0 L373.1 507.0 L373.3 506.0 L373.5 505.0 L373.7 504.1 L373.9 503.1 L374.0 502.1 L374.2 501.1 L374.4 500.1 L374.5 499.1 L374.7 498.1 L374.8 497.1 L374.9 496.2 L375.1 495.2 L375.2 494.2 L375.4 493.2 L375.5 492.2 L375.6 491.2 L375.7 490.2 L375.9 489.2 L376.0 488.2 L376.1 487.2 L376.2 486.2 L376.3 485.2 L376.4 484.2 L376.5 483.2 L376.6 482.3 L376.8 481.3 L376.9 480.3 L377.0 479.3 L377.1 478.3 L377.2 477.3 L377.3 476.3 L377.4 475.3 L377.5 474.3 L377.6 473.3 L377.7 472.3 L377.9 471.3 L378.0 470.3 L378.1 469.3 L378.2 468.3 L378.3 467.3 L378.4 466.4 L378.5 465.4 L378.6 464.4 L378.7 463.4 L378.8 462.4 L378.9 461.4 L379.0 460.4 L379.1 459.4 L379.3 458.4 L379.4 457.4 L379.5 456.4 L379.6 455.4 L379.7 454.4 L379.8 453.4 L379.9 452.4 L380.0 451.4 L380.2 450.4 L380.3 449.5 L380.4 448.5 L380.5 447.5 L380.6 446.5 L380.7 445.5 L380.8 444.5 L380.9 443.5 L381.0 442.5 L381.1 441.5 L381.2 440.5 L381.3 439.5 L381.4 438.5 L381.5 437.5 L381.6 436.5 L381.7 435.5 L381.8 434.5 L381.9 433.5 L382.0 432.5 L382.1 431.5 L382.2 430.6 L382.3 429.6 L382.4 428.6 L382.5 427.6 L382.6 426.6 L382.7 425.6 L382.8 424.6 L382.8 423.6 L382.9 422.6 L383.0 421.6 L383.1 420.6 L383.1 419.6 L383.2 418.6 L383.3 417.6 L383.3 416.6 L383.4 415.6 L383.4 414.6 L383.5 413.6 L383.5 412.6 L383.6 411.6 L383.6 410.6 L383.7 409.6 L383.7 408.6 L383.8 407.6 L383.8 406.6 L383.9 405.6 L383.9 404.6 L384.0 403.6 L384.0 402.6 L384.1 401.6 L384.1 400.6 L384.1 399.6 L384.2 398.6 L384.2 397.6 L384.3 396.6 L384.3 395.6 L384.4 394.6 L384.4 393.6 L384.4 392.6 L384.5 391.6 L384.5 390.6 L384.6 389.6 L384.6 388.6 L384.7 387.6 L384.7 386.6 L384.8 385.6 L384.8 384.6 L384.9 383.6 L384.9 382.6 L385.0 381.6 L385.1 380.6 L385.1 379.6 L385.2 378.6 L385.3 377.6 L385.3 376.6 L385.4 375.7 L385.5 374.7 L385.5 373.7 L385.6 372.7 L385.7 371.7 L385.8 370.7 L385.9 369.7 L386.0 368.7 L386.0 367.7 L386.1 366.7 L386.2 365.7 L386.3 364.7 L386.4 363.7 L386.5 362.7 L386.6 361.7 L386.7 360.7 L386.8 359.7 L386.9 358.7 L387.0 357.7 L387.0 356.7 L387.1 355.7 L387.2 354.7 L387.3 353.7 L387.4 352.7 L387.5 351.7 L387.6 350.7 L387.7 349.7 L387.8 348.8 L387.8 347.8 L387.9 346.8 L388.0 345.8 L388.1 344.8 L388.1 343.8 L388.2 342.8 L388.3 341.8 L388.4 340.8 L388.4 339.8 L388.5 338.8 L388.5 337.8 L388.6 336.8 L388.7 335.8 L388.7 334.8 L388.8 333.8 L388.8 332.8 L388.9 331.8 L388.9 330.8 L389.0 329.8 L389.1 328.8 L389.1 327.8 L389.2 326.8 L389.2 325.8 L389.3 324.8 L389.3 323.8 L389.4 322.8 L389.4 321.8 L389.5 320.8 L389.5 319.8 L389.6 318.8 L389.6 317.8 L389.7 316.8 L389.7 315.8 L389.7 314.8 L389.8 313.8 L389.8 312.8 L389.9 311.8 L389.9 310.8 L390.0 309.8 L390.0 308.8 L390.1 307.8 L390.1 306.8 L390.2 305.8 L390.2 304.8 L390.3 303.8 L390.3 302.8 L390.3 301.8 L390.4 300.8 L390.4 299.8 L390.5 298.8 L390.5 297.8 L390.6 296.8 L390.6 295.8 L390.7 294.8 L390.7 293.8 L390.8 292.8 L390.8 291.8 L390.9 290.8 L390.9 289.8 L390.9 288.8 L391.0 287.8 L391.0 286.8 L391.1 285.8 L391.1 284.8 L391.2 283.8 L391.2 282.8 L391.3 281.8 L391.4 280.9 L391.4 279.9 L391.5 278.9 L391.5 277.9 L391.6 276.9 L391.6 275.9 L391.7 274.9 L391.7 273.9 L391.8 272.9 L391.9 271.9 L391.9 270.9 L392.0 269.9 L392.1 268.9 L392.1 267.9 L392.2 266.9 L392.2 265.9 L392.3 264.9 L392.4 263.9 L392.4 262.9 L392.5 261.9 L392.5 260.9 L392.6 259.9 L392.7 258.9 L392.7 257.9 L392.8 256.9 L392.9 255.9 L392.9 254.9 L393.0 253.9 L393.0 252.9 L393.1 251.9 L393.1 250.9 L393.2 249.9 L393.3 248.9 L393.3 247.9 L393.4 246.9 L393.4 245.9 L393.5 244.9 L393.5 243.9 L393.6 242.9 L393.6 241.9 L393.7 240.9 L393.7 239.9 L393.7 238.9 L393.8 237.9 L393.8 236.9 L393.9 235.9 L393.9 234.9 L393.9 233.9 L394.0 232.9 L394.0 231.9 L394.1 230.9 L394.1 229.9 L394.1 228.9 L394.2 227.9 L394.2 226.9 L394.2 225.9 L394.3 224.9 L394.3 223.9 L394.3 222.9 L394.4 221.9 L394.4 220.9 L394.4 219.9 L394.5 218.9 L394.5 217.9 L394.5 216.9 L394.6 215.9 L394.6 214.9 L394.6 213.9 L394.7 212.9 L394.7 211.9 L394.7 210.9 L394.7 209.9 L394.8 208.9 L394.8 207.9 L394.8 206.9 L394.9 205.9 L394.9 204.9 L394.9 203.9 L395.0 202.9 L395.0 201.9 L395.0 200.9 L395.0 199.9 L395.1 198.9 L395.1 197.9 L395.1 196.9 L395.2 195.9 L395.2 194.9 L395.2 193.9 L395.3 192.9 L395.3 191.9 L395.3 190.9 L395.4 189.9 L395.4 188.9 L395.4 187.9 L395.5 186.9 L395.5 185.9 L395.5 184.9 L395.6 183.9 L395.6 182.9 L395.6 181.9 L395.7 181.0 L395.7 180.0 L395.7 179.0 L395.8 178.0 L395.8 177.0 L395.9 176.0 L395.9 175.0 L396.0 174.0 L396.0 173.0 L396.0 172.0 L396.1 171.0 L396.1 170.0 L396.2 169.0 L396.2 168.0 L396.3 167.0 L396.3 166.0 L396.4 165.0 L396.5 164.0 L396.5 163.0 L396.6 162.0 L396.6 161.0 L396.7 160.0 L396.7 159.0 L396.8 158.0 L396.8 157.0 L396.9 156.0 L396.9 155.0 L397.0 154.0 L397.1 153.0 L397.1 152.0 L397.2 151.0 L397.2 150.0 L397.3 149.0 L397.3 148.0 L397.4 147.0 L397.4 146.0 L397.5 145.0 L397.5 144.0 L397.6 143.0 L397.6 142.0 L397.7 141.0 L397.7 140.0 L397.8 139.0 L397.8 138.0 L397.8 137.0 L397.9 136.0 L397.9 135.0 L398.0 134.0 L398.0 133.0 L398.0 132.0 L398.0 131.0 L398.1 130.0 L398.1 129.0 L398.1 128.0 L398.2 127.0 L398.2 126.0 L398.2 125.0 L398.2 124.0 L398.2 123.0 L398.2 122.0 L398.2 121.0 L398.2 120.0 L398.3 119.0 L398.3 118.0 L398.3 117.0 L398.3 116.0 L398.3 115.0 L398.3 114.0 L398.3 113.0 L398.3 112.0 L398.3 111.0 L398.3 110.0 L398.3 109.0 L398.3 108.0 L398.3 107.0 L398.3 106.0 L398.3 105.0 L398.3 104.0 L398.3 103.0 L398.3 102.0 L398.3 101.0 L398.3 100.0 L398.3 99.0 L398.3 98.0 L398.3 97.0 L398.3 96.0 L398.3 95.0 L398.3 94.0 L398.3 93.0 L398.3 92.0 L398.4 91.0 L398.4 90.0 L398.4 89.0 L398.4 88.0 L398.4 87.0 L398.4 86.0 L398.4 85.0 L398.4 84.0 L398.4 83.0 L398.4 82.0 L398.4 81.0 L398.4 80.0 L398.4 79.0 L398.4 78.0 L398.4 77.0 L398.5 76.0 L398.5 75.0 L398.5 74.0 L398.5 73.0 L398.5 72.0 L398.5 71.0 L398.5 70.0 L398.5 69.0 L398.5 68.0 L398.5 67.0 L398.5 66.0 L398.6 65.0 L398.6 64.0 L398.6 63.0 L398.6 62.0 L398.6 61.0 L398.6 60.0 L398.6 59.0 L398.7 58.0 L398.7 57.0 L398.7 56.0 L398.7 55.0 L398.7 54.0 L398.7 53.0 L398.8 52.0 L398.8 51.0 L398.8 50.0 L398.9 49.0 L398.9 48.0 L398.9 47.0 L399.0 46.0 L399.0 45.0 L399.1 44.0 L399.2 42.8 L399.4 42.7 L399.5 43.9 L399.6 44.9 L399.7 45.9 L399.8 46.9 L399.8 47.9 L399.9 48.9 L399.9 49.9 L400.0 50.9 L400.0 51.9 L400.0 52.9 L400.1 53.9 L400.1 54.9 L400.1 55.9 L400.2 56.9 L400.2 57.9 L400.3 58.9 L400.3 59.9 L400.3 60.9 L400.4 61.9 L400.4 62.9 L400.4 63.9 L400.4 64.9 L400.5 65.9 L400.5 66.9 L400.5 67.9 L400.6 68.9 L400.6 69.9 L400.6 70.9 L400.6 71.9 L400.7 72.9 L400.7 73.9 L400.7 74.9 L400.8 75.9 L400.8 76.9 L400.8 77.9 L400.8 78.9 L400.9 79.9 L400.9 80.9 L400.9 81.9 L400.9 82.9 L401.0 83.9 L401.0 84.9 L401.0 85.9 L401.0 86.9 L401.1 87.9 L401.1 88.9 L401.1 89.9 L401.1 90.9 L401.1 91.9 L401.2 92.9 L401.2 93.9 L401.2 94.9 L401.2 95.9 L401.3 96.9 L401.3 97.9 L401.3 98.9 L401.3 99.9 L401.3 100.9 L401.4 101.9 L401.4 102.9 L401.4 103.9 L401.4 104.9 L401.5 105.9 L401.5 106.9 L401.5 107.9 L401.5 108.9 L401.5 109.9 L401.6 110.9 L401.6 111.9 L401.6 112.9 L401.6 113.9 L401.6 114.9 L401.7 115.9 L401.7 116.9 L401.7 117.9 L401.7 118.9 L401.7 119.9 L401.8 120.9 L401.8 121.9 L401.8 122.9 L401.8 123.9 L401.9 124.9 L401.9 125.9 L401.9 126.9 L401.9 127.9 L402.0 128.9 L402.0 129.9 L402.0 130.9 L402.1 131.9 L402.1 132.9 L402.1 133.9 L402.1 134.9 L402.2 135.9 L402.2 136.9 L402.2 137.9 L402.3 138.9 L402.3 139.9 L402.3 140.9 L402.3 141.9 L402.4 142.9 L402.4 143.9 L402.4 144.9 L402.5 145.9 L402.5 146.9 L402.5 147.9 L402.6 148.9 L402.6 149.9 L402.6 150.9 L402.6 151.9 L402.7 152.9 L402.7 153.9 L402.7 154.9 L402.8 155.9 L402.8 156.9 L402.8 157.9 L402.8 158.9 L402.9 159.9 L402.9 160.9 L402.9 161.9 L403.0 162.9 L403.0 163.9 L403.0 164.9 L403.0 165.9 L403.1 166.9 L403.1 167.9 L403.1 168.9 L403.2 169.9 L403.2 170.9 L403.2 171.9 L403.2 172.9 L403.3 173.9 L403.3 174.9 L403.3 175.9 L403.3 176.9 L403.4 177.9 L403.4 178.9 L403.4 179.9 L403.4 180.9 L403.4 181.9 L403.5 182.9 L403.5 183.9 L403.5 184.9 L403.5 185.9 L403.5 186.9 L403.6 187.9 L403.6 188.9 L403.6 189.9 L403.6 190.9 L403.6 191.9 L403.7 192.9 L403.7 193.9 L403.7 194.9 L403.7 195.9 L403.7 196.9 L403.7 197.9 L403.8 198.9 L403.8 199.9 L403.8 200.9 L403.8 201.9 L403.8 202.9 L403.8 203.9 L403.9 204.9 L403.9 205.9 L403.9 206.9 L403.9 207.9 L403.9 208.9 L403.9 209.9 L404.0 210.9 L404.0 211.9 L404.0 212.9 L404.0 213.9 L404.0 214.9 L404.0 215.9 L404.1 216.9 L404.1 217.9 L404.1 218.9 L404.1 219.9 L404.1 220.9 L404.1 221.9 L404.2 222.9 L404.2 223.9 L404.2 224.9 L404.2 225.9 L404.2 226.9 L404.2 227.9 L404.3 228.9 L404.3 229.9 L404.3 230.9 L404.3 231.9 L404.3 232.9 L404.4 233.9 L404.4 234.9 L404.4 235.9 L404.4 236.9 L404.5 237.9 L404.5 238.9 L404.5 239.9 L404.5 240.9 L404.5 241.9 L404.6 242.9 L404.6 243.9 L404.6 244.9 L404.6 245.9 L404.7 246.9 L404.7 247.9 L404.7 248.9 L404.7 249.9 L404.8 250.9 L404.8 251.9 L404.8 252.9 L404.9 253.9 L404.9 254.9 L404.9 255.9 L404.9 256.9 L405.0 257.9 L405.0 258.9 L405.0 259.9 L405.1 260.9 L405.1 261.9 L405.1 262.9 L405.1 263.9 L405.2 264.9 L405.2 265.9 L405.2 266.9 L405.3 267.9 L405.3 268.9 L405.3 269.9 L405.4 270.9 L405.4 271.9 L405.4 272.9 L405.5 273.9 L405.5 274.9 L405.6 275.9 L405.6 276.9 L405.6 277.9 L405.7 278.9 L405.7 279.9 L405.7 280.9 L405.8 281.9 L405.8 282.9 L405.8 283.9 L405.9 284.9 L405.9 285.9 L406.0 286.9 L406.0 287.9 L406.1 288.9 L406.1 289.9 L406.1 290.9 L406.2 291.8 L406.2 292.8 L406.3 293.8 L406.3 294.8 L406.4 295.8 L406.4 296.8 L406.5 297.8 L406.5 298.8 L406.6 299.8 L406.6 300.8 L406.7 301.8 L406.7 302.8 L406.8 303.8 L406.8 304.8 L406.9 305.8 L406.9 306.8 L407.0 307.8 L407.0 308.8 L407.1 309.8 L407.1 310.8 L407.2 311.8 L407.2 312.8 L407.3 313.8 L407.3 314.8 L407.4 315.8 L407.4 316.8 L407.5 317.8 L407.5 318.8 L407.6 319.8 L407.6 320.8 L407.7 321.8 L407.8 322.8 L407.8 323.8 L407.9 324.8 L407.9 325.8 L408.0 326.8 L408.0 327.8 L408.1 328.8 L408.1 329.8 L408.2 330.8 L408.2 331.8 L408.3 332.8 L408.4 333.8 L408.4 334.8 L408.5 335.8 L408.5 336.8 L408.6 337.8 L408.6 338.8 L408.7 339.8 L408.7 340.8 L408.8 341.8 L408.9 342.8 L408.9 343.8 L409.0 344.8 L409.0 345.8 L409.1 346.8 L409.1 347.8 L409.2 348.8 L409.2 349.8 L409.3 350.8 L409.3 351.8 L409.4 352.8 L409.4 353.8 L409.5 354.8 L409.5 355.8 L409.6 356.8 L409.7 357.8 L409.7 358.8 L409.8 359.8 L409.8 360.8 L409.9 361.8 L409.9 362.8 L410.0 363.8 L410.1 364.8 L410.1 365.8 L410.2 366.8 L410.2 367.8 L410.3 368.7 L410.4 369.7 L410.4 370.7 L410.5 371.7 L410.6 372.7 L410.6 373.7 L410.7 374.7 L410.8 375.7 L410.9 376.7 L410.9 377.7 L411.0 378.7 L411.1 379.7 L411.2 380.7 L411.2 381.7 L411.3 382.7 L411.4 383.7 L411.5 384.7 L411.6 385.7 L411.7 386.7 L411.8 387.7 L411.9 388.7 L412.0 389.7 L412.1 390.7 L412.2 391.7 L412.3 392.7 L412.4 393.7 L412.5 394.6 L412.6 395.6 L412.7 396.6 L412.8 397.6 L412.9 398.6 L413.0 399.6 L413.2 400.6 L413.3 401.6 L413.4 402.6 L413.5 403.6 L413.6 404.6 L413.8 405.6 L413.9 406.6 L414.0 407.6 L414.1 408.6 L414.3 409.6 L414.4 410.5 L414.5 411.5 L414.7 412.5 L414.8 413.5 L414.9 414.5 L415.1 415.5 L415.2 416.5 L415.3 417.5 L415.5 418.5 L415.6 419.5 L415.8 420.4 L415.9 421.4 L416.1 422.4 L416.2 423.4 L416.3 424.4 L416.5 425.4 L416.7 426.4 L416.8 427.4 L417.0 428.3 L417.1 429.3 L417.3 430.3 L417.5 431.3 L417.6 432.3 L417.8 433.3 L418.0 434.3 L418.2 435.2 L418.4 436.2 L418.5 437.2 L418.7 438.2 L418.9 439.2 L419.1 440.2 L419.3 441.2 L419.5 442.1 L419.6 443.1 L419.8 444.1 L420.0 445.1 L420.2 446.1 L420.4 447.0 L420.6 448.0 L420.8 449.0 L421.0 450.0 L421.2 451.0 L421.4 451.9 L421.6 452.9 L421.8 453.9 L422.0 454.9 L422.2 455.9 L422.4 456.9 L422.6 457.8 L422.8 458.8 L423.0 459.8 L423.2 460.8 L423.4 461.8 L423.6 462.8 L423.8 463.7 L424.0 464.7 L424.3 465.7 L424.5 466.7 L424.7 467.6 L424.9 468.6 L425.2 469.6 L425.4 470.6 L425.7 471.5 L425.9 472.5 L426.2 473.4 L426.5 474.4 L426.8 475.3 L427.0 476.3 L427.3 477.2 L427.7 478.2 L428.0 479.1 L428.4 480.1 L428.8 481.0 L429.2 481.9 L429.6 482.8 L429.9 483.8 L430.3 484.7 L430.7 485.6 L431.1 486.5 L431.6 487.4 L432.0 488.3 L432.4 489.2 L432.9 490.1 L433.3 491.0 L433.8 491.9 L434.2 492.8 L434.7 493.7 L435.2 494.5 L435.7 495.4 L436.2 496.3 L436.7 497.1 L437.2 498.0 L437.8 498.8 L438.3 499.7 L438.9 500.5 L439.4 501.3 L440.0 502.2 L440.6 503.0 L441.2 503.8 L441.8 504.6 L442.4 505.4 L443.0 506.2 L443.6 506.9 L444.3 507.7 L444.9 508.5 L445.6 509.2 L446.2 510.0 L446.9 510.7 L447.6 511.4 L448.3 512.1 L449.0 512.8 L449.7 513.5 L450.5 514.2 L451.2 514.9 L451.9 515.6 L452.7 516.2 L453.5 516.9 L454.2 517.5 L455.0 518.1 L455.8 518.8 L456.6 519.4 L457.4 520.0 L458.2 520.6 L459.0 521.1 L459.8 521.7 L460.7 522.3 L461.5 522.8 L462.3 523.4 L463.2 523.9 L464.0 524.4 L464.9 524.9 L465.8 525.4 L466.6 525.9 L467.5 526.4 L468.4 526.9 L469.3 527.3 L470.2 527.8 L471.1 528.2 L472.0 528.7 L472.9 529.1 L473.8 529.5 L474.7 529.9 L475.6 530.3 L476.5 530.7 L477.4 531.1 L478.3 531.5 L479.3 531.9 L480.2 532.3 L481.1 532.6 L482.1 533.0 L483.0 533.3 L483.9 533.7 L484.9 534.0 L485.8 534.3 L486.8 534.7 L487.7 535.0 L488.7 535.3 L489.6 535.6 L490.6 535.9 L491.5 536.2 L492.5 536.5 L493.5 536.8 L494.4 537.1 L495.4 537.3 L496.3 537.6 L497.3 537.9 L498.3 538.1 L499.2 538.4 L500.2 538.6 L501.2 538.9 L502.1 539.1 L503.1 539.4 L504.1 539.6 L505.1 539.8 L506.0 540.1 L507.0 540.3 L508.0 540.5 L509.0 540.7 L509.9 540.9 L510.9 541.1 L511.9 541.3 L512.9 541.5 L513.9 541.7 L514.8 541.9 L515.8 542.1 L516.8 542.3 L517.8 542.5 L518.8 542.7 L519.7 542.9 L520.7 543.0 L521.7 543.2 L522.7 543.4 L523.7 543.6 L524.7 543.7 L525.7 543.9 L526.6 544.1 L527.6 544.2 L528.6 544.4 L529.6 544.5 L530.6 544.7 L531.6 544.8 L532.6 545.0 L533.6 545.1 L534.5 545.3 L535.5 545.4 L536.5 545.5 L537.5 545.7 L538.5 545.8 L539.5 546.0 L540.5 546.1 L541.5 546.2 L542.5 546.3 L543.5 546.5 L544.5 546.6 L545.5 546.7 L546.4 546.8 L547.4 547.0 L548.4 547.1 L549.4 547.2 L550.4 547.3 L551.4 547.4 L552.4 547.6 L553.4 547.7 L554.4 547.8 L555.4 547.9 L556.4 548.0 L557.4 548.1 L558.4 548.2 L559.4 548.3 L560.4 548.4 L561.4 548.5 L562.3 548.6 L563.3 548.7 L564.3 548.8 L565.3 548.9 L566.3 549.0 L567.3 549.1 L568.3 549.2 L569.3 549.3 L570.3 549.4 L571.3 549.5 L572.3 549.5 L573.3 549.6 L574.3 549.7 L575.3 549.8 L576.3 549.9 L577.3 550.0 L578.3 550.1 L579.3 550.1 L580.3 550.2 L581.3 550.3 L582.3 550.4 L583.3 550.5 L584.3 550.5 L585.3 550.6 L586.3 550.7 L587.3 550.8 L588.3 550.8 L589.2 550.9 L590.2 551.0 L591.2 551.1 L592.2 551.1 L593.2 551.2 L594.2 551.3 L595.2 551.3 L596.2 551.4 L597.2 551.5 L598.2 551.5 L599.2 551.6 L600.2 551.7 L601.2 551.7 L602.2 551.8 L603.2 551.9 L604.2 551.9 L605.2 552.0 L606.2 552.0 L607.2 552.1 L608.2 552.2 L609.2 552.2 L610.2 552.3 L611.2 552.3 L612.2 552.4 L613.2 552.5 L614.2 552.5 L615.2 552.6 L616.2 552.6 L617.2 552.7 L618.2 552.7 L619.2 552.8 L620.2 552.9 L621.2 552.9 L622.2 553.0 L623.2 553.0 L624.2 553.1 L625.2 553.1 L626.2 553.2 L627.2 553.2 L628.2 553.3 L629.2 553.3 L630.2 553.4 L631.2 553.4 L632.2 553.5 L633.2 553.5 L634.2 553.6 L635.2 553.6 L636.2 553.6 L637.2 553.7 L638.2 553.7 L639.2 553.8 L640.2 553.8 L641.2 553.9 L642.2 553.9 L643.2 554.0 L644.2 554.0 L645.2 554.1 L646.2 554.1 L647.2 554.1 L648.2 554.2 L649.2 554.2 L650.2 554.3 L651.2 554.3 L652.2 554.3 L653.2 554.4 L654.2 554.4 L655.1 554.5 L656.1 554.5 L657.1 554.5 L658.1 554.6 L659.1 554.6 L660.1 554.7 L661.1 554.7 L662.1 554.7 L663.1 554.8 L664.1 554.8 L665.1 554.8 L666.1 554.9 L667.1 554.9 L668.1 555.0 L669.1 555.0 L670.1 555.0 L671.1 555.1 L672.1 555.1 L673.1 555.1 L674.1 555.2 L675.1 555.2 L676.1 555.2 L677.1 555.3 L678.1 555.3 L679.1 555.3 L680.1 555.4 L681.1 555.4 L682.1 555.4 L683.1 555.5 L684.1 555.5 L685.1 555.5 L686.1 555.5 L687.1 555.6 L688.1 555.6 L689.1 555.6 L690.1 555.7 L691.1 555.7 L692.1 555.7 L693.1 555.8 L694.1 555.8 L695.1 555.8 L696.1 555.8 L697.1 555.9 L698.1 555.9 L699.1 555.9 L700.1 556.0 L701.1 556.0 L702.1 556.0 L703.1 556.0 L704.1 556.1 L705.1 556.1 L706.1 556.1 L707.1 556.1 L708.1 556.2 L709.1 556.2 L710.1 556.2 L711.1 556.3 L712.1 556.3 L713.1 556.3 L714.1 556.3 L715.1 556.4 L716.1 556.4 L717.1 556.4 L718.1 556.4 L719.1 556.5 L720.1 556.5 L721.1 556.5 L722.1 556.5 L723.1 556.6 L724.1 556.6 L725.1 556.6 L726.1 556.6 L727.1 556.6 L728.1 556.7 L729.1 556.7 L730.1 556.7 L731.1 556.7 L732.1 556.8 L733.1 556.8 L734.1 556.8 L735.1 556.8 L736.1 556.8 L737.1 556.9 L738.1 556.9 L739.1 556.9 L740.1 556.9 L741.1 557.0 L742.1 557.0 L743.1 557.0 L744.1 557.0 L745.1 557.0 L746.1 557.1 L747.1 557.1 L748.1 557.1 L749.1 557.1 L750.1 557.1 L751.1 557.2 L752.1 557.2 L753.1 557.2 L754.1 557.2 L755.1 557.2 L756.1 557.3 L757.1 557.3 L758.1 557.3 L759.1 557.3 L760.1 557.3 L761.1 557.3 L762.1 557.4 L763.1 557.4 L764.1 557.4 L765.1 557.4 L766.1 557.4 L767.1 557.5 L768.1 557.5 L769.1 557.5 L770.1 557.5 L771.1 557.5 L772.1 557.5 L773.1 557.6 L774.1 557.6 L775.1 557.6 L776.1 557.6 L777.1 557.6 L778.1 557.6 L779.1 557.7 L780.1 557.7 L781.1 557.7 L782.1 557.7 L783.1 557.7 L784.1 557.7 L785.1 557.8 L786.1 557.8 L787.1 557.8 L788.1 557.8 L789.1 557.8 L790.1 557.8 L791.1 557.9 L792.1 557.9 L793.1 557.9 L794.1 557.9 L795.1 557.9 L796.1 557.9 L797.1 557.9 L798.1 558.0 L799.1 558.0 L800.1 558.0 L801.1 558.0 L802.1 558.0 L803.1 558.0 L804.1 558.0 L805.1 558.1 L806.1 558.1 L807.1 558.1 L808.1 558.1 L809.1 558.1 L810.1 558.1 L811.1 558.1 L812.1 558.2 L813.1 558.2 L814.1 558.2 L815.1 558.2 L816.1 558.2 L817.1 558.2 L818.1 558.2 L819.1 558.2 L820.1 558.3 L821.1 558.3 L822.1 558.3 L823.1 558.3 L824.1 558.3 L825.1 558.3 L826.1 558.3 L827.1 558.4 L828.1 558.4 L829.1 558.4 L830.1 558.4 L831.1 558.4 L832.1 558.4 L833.1 558.4 L834.1 558.4 L835.1 558.4 L836.1 558.5 L837.1 558.5 L838.1 558.5 L839.1 558.5 L840.1 558.5 L841.1 558.5 L842.1 558.5 L843.1 558.5 L844.1 558.6 L845.1 558.6 L846.1 558.6 L847.1 558.6 L848.1 558.6 L849.1 558.6 L850.1 558.6 L851.1 558.6 L852.1 558.6 L853.1 558.7 L854.1 558.7 L855.1 558.7 L856.1 558.7 L857.1 558.7 L858.1 558.7 L859.1 558.7 L860.1 558.7 L861.1 558.7 L862.1 558.7 L863.1 558.8 L864.1 558.8 L865.1 558.8 L866.1 558.8 L867.1 558.8 L868.1 558.8 L869.1 558.8 L870.1 558.8 L871.1 558.8 L872.1 558.8 L873.1 558.9 L874.1 558.9 L875.1 558.9 L876.1 558.9 L877.1 558.9 L878.1 558.9 L879.1 558.9 L880.1 558.9 L881.1 558.9 L882.1 558.9 L883.1 558.9 L884.1 559.0 L885.1 559.0 L886.1 559.0 L887.1 559.0 L888.1 559.0 L889.1 559.0 L890.1 559.0 L891.1 559.0 L892.1 559.0 L893.1 559.0 L894.1 559.0 L895.1 559.1 L896.1 559.1 L897.1 559.1 L898.1 559.1 L899.1 559.1 L900.1 559.1 L901.1 559.1 L902.1 559.1 L903.1 559.1 L904.1 559.1 L905.1 559.1 L906.1 559.1 L907.1 559.2 L908.1 559.2 L909.1 559.2 L910.1 559.2 L911.1 559.2 L912.1 559.2 L913.1 559.2 L914.1 559.2 L915.1 559.2 L916.1 559.2 L917.1 559.2 L918.1 559.2 L919.1 559.2 L920.1 559.3 L921.1 559.3 L922.1 559.3 L923.1 559.3 L924.1 559.3 L925.1 559.3" stroke="#dd2a22"/>
<path d="M134.2 561.1 L135.2 560.5 L136.2 561.4 L137.2 562.0 L138.2 560.8 L139.2 561.0 L140.2 560.9 L141.2 561.1 L142.2 561.2 L143.2 561.4 L144.2 560.5 L145.2 561.5 L146.2 560.5 L147.2 561.0 L148.2 561.3 L149.2 561.1 L150.2 560.4 L151.2 560.5 L152.2 560.6 L153.2 560.8 L154.2 561.2 L155.2 560.2 L156.2 560.9 L157.2 561.0 L158.2 560.9 L159.2 560.9 L160.2 561.3 L161.2 560.8 L162.2 561.0 L163.2 560.8 L164.2 561.3 L165.2 559.8 L166.2 561.1 L167.2 560.4 L168.2 560.4 L169.2 560.1 L170.2 559.7 L171.2 560.3 L172.2 560.2 L173.2 560.6 L174.2 559.8 L175.2 561.0 L176.2 560.5 L177.2 560.3 L178.2 560.1 L179.2 560.0 L180.2 559.8 L181.2 560.1 L182.2 560.3 L183.2 560.2 L184.2 559.7 L185.2 560.1 L186.2 559.8 L187.2 560.2 L188.2 560.9 L189.2 560.4 L190.2 560.0 L191.2 559.4 L192.2 559.5 L193.2 559.3 L194.2 560.3 L195.2 559.7 L196.2 560.0 L197.2 559.7 L198.2 559.9 L199.2 560.4 L200.2 559.6 L201.2 559.7 L202.2 559.5 L203.2 560.1 L204.2 559.4 L205.2 559.3 L206.2 559.2 L207.2 559.1 L208.2 559.8 L209.2 560.7 L210.2 559.2 L211.2 560.0 L212.2 559.7 L213.2 559.1 L214.2 559.4 L215.2 559.4 L216.2 559.2 L217.2 560.2 L218.2 558.6 L219.2 559.5 L220.2 559.5 L221.2 559.1 L222.2 559.3 L223.2 559.6 L224.2 559.3 L225.2 559.3 L226.2 559.4 L227.2 558.3 L228.2 559.7 L229.2 559.9 L230.2 559.4 L231.2 559.4 L232.2 558.4 L233.2 558.9 L234.2 558.5 L235.2 558.6 L236.2 559.2 L237.2 558.4 L238.2 558.7 L239.2 557.9 L240.2 558.6 L241.2 558.6 L242.2 558.3 L243.2 558.2 L244.2 559.2 L245.2 558.0 L246.2 558.0 L247.2 558.0 L248.2 558.8 L249.2 559.1 L250.2 558.4 L251.2 557.9 L252.2 558.0 L253.2 558.5 L254.2 557.7 L255.2 558.6 L256.2 558.5 L257.2 557.9 L258.2 558.1 L259.2 558.1 L260.1 558.4 L261.1 557.3 L262.1 558.1 L263.1 557.4 L264.1 557.2 L265.1 557.5 L266.1 557.3 L267.1 557.0 L268.1 556.7 L269.1 556.9 L270.1 557.7 L271.1 557.9 L272.1 557.3 L273.1 557.5 L274.1 556.7 L275.1 556.8 L276.1 556.9 L277.1 556.3 L278.1 556.2 L279.1 556.6 L280.1 556.4 L281.1 556.0 L282.1 556.5 L283.1 556.2 L284.1 556.6 L285.1 556.1 L286.1 555.9 L287.1 556.0 L288.1 555.8 L289.1 555.5 L290.1 555.5 L291.1 555.9 L292.1 555.7 L293.1 555.9 L294.1 554.6 L295.1 555.0 L296.0 554.9 L297.0 555.0 L298.0 554.7 L299.0 554.6 L300.0 555.0 L301.0 554.6 L302.0 554.0 L303.0 554.8 L304.0 554.6 L305.0 553.8 L306.0 554.2 L307.0 553.5 L308.0 554.1 L308.9 553.4 L309.9 553.0 L310.9 553.1 L311.9 552.7 L312.9 553.0 L313.9 552.8 L314.9 552.6 L315.9 552.2 L316.8 550.8 L317.8 552.1 L318.8 551.1 L319.8 551.7 L320.8 551.9 L321.8 551.4 L322.7 550.9 L323.7 550.7 L324.7 550.5 L325.7 550.1 L326.6 549.9 L327.6 549.5 L328.6 550.1 L329.5 549.3 L330.5 549.4 L331.4 548.7 L332.4 548.5 L333.3 548.1 L334.3 548.0 L335.2 547.8 L336.2 547.3 L337.1 546.6 L338.0 546.2 L339.0 546.7 L339.9 545.6 L340.8 545.2 L341.7 545.4 L342.6 544.8 L343.5 544.1 L344.4 543.4 L345.2 543.8 L346.1 542.6 L347.0 542.1 L347.8 541.4 L348.6 540.4 L349.4 539.9 L350.2 539.8 L351.0 539.1 L351.8 538.3 L352.5 537.4 L353.3 536.7 L354.0 536.3 L354.7 535.3 L355.3 535.1 L356.0 534.4 L356.6 533.9 L357.3 532.7 L357.9 531.7 L358.4 530.8 L359.0 529.6 L359.5 529.2 L360.1 528.4 L360.6 527.7 L361.1 526.8 L361.5 525.9 L362.0 524.9 L362.4 524.1 L362.8 523.2 L363.2 522.1 L363.6 521.3 L364.0 520.3 L364.4 519.5 L364.7 518.5 L365.1 517.6 L365.4 516.6 L365.7 515.7 L366.0 514.7 L366.3 513.7 L366.6 512.8 L366.9 511.8 L367.1 510.9 L367.4 509.9 L367.7 508.9 L367.9 507.9 L368.1 507.0 L368.3 506.0 L368.5 505.0 L368.7 504.0 L368.9 503.1 L369.1 502.1 L369.2 501.1 L369.4 500.1 L369.6 499.1 L369.7 498.1 L369.9 497.1 L370.0 496.1 L370.1 495.2 L370.3 494.2 L370.4 493.2 L370.6 492.2 L370.7 491.2 L370.8 490.2 L370.9 489.2 L371.1 488.2 L371.2 487.2 L371.3 486.2 L371.4 485.2 L371.5 484.2 L371.6 483.2 L371.7 482.2 L371.8 481.3 L372.0 480.3 L372.1 479.3 L372.2 478.3 L372.3 477.3 L372.4 476.3 L372.5 475.3 L372.6 474.3 L372.7 473.3 L372.8 472.3 L372.9 471.3 L373.1 470.3 L373.2 469.3 L373.3 468.3 L373.4 467.3 L373.5 466.3 L373.6 465.4 L373.7 464.4 L373.8 463.4 L373.9 462.4 L374.0 461.4 L374.1 460.4 L374.2 459.4 L374.3 458.4 L374.5 457.4 L374.6 456.4 L374.7 455.4 L374.8 454.4 L374.9 453.4 L375.0 452.4 L375.1 451.4 L375.2 450.4 L375.4 449.4 L375.5 448.5 L375.6 447.5 L375.7 446.5 L375.8 445.5 L375.9 444.5 L376.0 443.5 L376.1 442.5 L376.2 441.5 L376.3 440.5 L376.4 439.5 L376.5 438.5 L376.6 437.5 L376.7 436.5 L376.8 435.5 L376.9 434.5 L377.0 433.5 L377.1 432.5 L377.2 431.5 L377.3 430.5 L377.4 429.6 L377.5 428.6 L377.6 427.6 L377.7 426.6 L377.8 425.6 L377.9 424.6 L378.0 423.6 L378.0 422.6 L378.1 421.6 L378.2 420.6 L378.3 419.6 L378.3 418.6 L378.4 417.6 L378.5 416.6 L378.5 415.6 L378.6 414.6 L378.6 413.6 L378.7 412.6 L378.7 411.6 L378.8 410.6 L378.8 409.6 L378.9 408.6 L378.9 407.6 L379.0 406.6 L379.0 405.6 L379.1 404.6 L379.1 403.6 L379.2 402.6 L379.2 401.6 L379.3 400.6 L379.3 399.6 L379.3 398.6 L379.4 397.6 L379.4 396.6 L379.5 395.6 L379.5 394.6 L379.6 393.6 L379.6 392.6 L379.6 391.6 L379.7 390.6 L379.7 389.6 L379.8 388.6 L379.8 387.6 L379.9 386.6 L379.9 385.6 L380.0 384.6 L380.0 383.6 L380.1 382.6 L380.1 381.6 L380.2 380.6 L380.3 379.6 L380.3 378.6 L380.4 377.6 L380.5 376.6 L380.5 375.6 L380.6 374.7 L380.7 373.7 L380.7 372.7 L380.8 371.7 L380.9 370.7 L381.0 369.7 L381.1 368.7 L381.2 367.7 L381.2 366.7 L381.3 365.7 L381.4 364.7 L381.5 363.7 L381.6 362.7 L381.7 361.7 L381.8 360.7 L381.9 359.7 L382.0 358.7 L382.1 357.7 L382.2 356.7 L382.2 355.7 L382.3 354.7 L382.4 353.7 L382.5 352.7 L382.6 351.7 L382.7 350.7 L382.8 349.7 L382.9 348.7 L383.0 347.8 L383.0 346.8 L383.1 345.8 L383.2 344.8 L383.3 343.8 L383.3 342.8 L383.4 341.8 L383.5 340.8 L383.6 339.8 L383.6 338.8 L383.7 337.8 L383.7 336.8 L383.8 335.8 L383.9 334.8 L383.9 333.8 L384.0 332.8 L384.0 331.8 L384.1 330.8 L384.1 329.8 L384.2 328.8 L384.3 327.8 L384.3 326.8 L384.4 325.8 L384.4 324.8 L384.5 323.8 L384.5 322.8 L384.6 321.8 L384.6 320.8 L384.7 319.8 L384.7 318.8 L384.8 317.8 L384.8 316.8 L384.9 315.8 L384.9 314.8 L384.9 313.8 L385.0 312.8 L385.0 311.8 L385.1 310.8 L385.1 309.8 L385.2 308.8 L385.2 307.8 L385.3 306.8 L385.3 305.8 L385.4 304.8 L385.4 303.8 L385.5 302.8 L385.5 301.8 L385.5 300.8 L385.6 299.8 L385.6 298.8 L385.7 297.8 L385.7 296.8 L385.8 295.8 L385.8 294.8 L385.9 293.8 L385.9 292.8 L386.0 291.8 L386.0 290.8 L386.1 289.8 L386.1 288.8 L386.1 287.8 L386.2 286.8 L386.2 285.8 L386.3 284.8 L386.3 283.8 L386.4 282.8 L386.4 281.8 L386.5 280.8 L386.6 279.9 L386.6 278.9 L386.7 277.9 L386.7 276.9 L386.8 275.9 L386.8 274.9 L386.9 273.9 L386.9 272.9 L387.0 271.9 L387.1 270.9 L387.1 269.9 L387.2 268.9 L387.3 267.9 L387.3 266.9 L387.4 265.9 L387.4 264.9 L387.5 263.9 L387.6 262.9 L387.6 261.9 L387.7 260.9 L387.7 259.9 L387.8 258.9 L387.9 257.9 L387.9 256.9 L388.0 255.9 L388.1 254.9 L388.1 253.9 L388.2 252.9 L388.2 251.9 L388.3 250.9 L388.3 249.9 L388.4 248.9 L388.5 247.9 L388.5 246.9 L388.6 245.9 L388.6 244.9 L388.7 243.9 L388.7 242.9 L388.8 241.9 L388.8 240.9 L388.9 239.9 L388.9 238.9 L388.9 237.9 L389.0 236.9 L389.0 235.9 L389.1 234.9 L389.1 233.9 L389.1 232.9 L389.2 231.9 L389.2 230.9 L389.3 229.9 L389.3 228.9 L389.3 227.9 L389.4 226.9 L389.4 225.9 L389.4 224.9 L389.5 223.9 L389.5 222.9 L389.5 221.9 L389.6 220.9 L389.6 219.9 L389.6 218.9 L389.7 217.9 L389.7 216.9 L389.7 215.9 L389.8 214.9 L389.8 213.9 L389.8 212.9 L389.9 211.9 L389.9 210.9 L389.9 209.9 L389.9 208.9 L390.0 207.9 L390.0 206.9 L390.0 205.9 L390.1 204.9 L390.1 203.9 L390.1 202.9 L390.2 201.9 L390.2 200.9 L390.2 199.9 L390.2 198.9 L390.3 197.9 L390.3 196.9 L390.3 195.9 L390.4 194.9 L390.4 193.9 L390.4 192.9 L390.5 191.9 L390.5 190.9 L390.5 189.9 L390.6 188.9 L390.6 187.9 L390.6 186.9 L390.7 185.9 L390.7 184.9 L390.7 183.9 L390.8 182.9 L390.8 181.9 L390.8 180.9 L390.9 180.0 L390.9 179.0 L390.9 178.0 L391.0 177.0 L391.0 176.0 L391.1 175.0 L391.1 174.0 L391.2 173.0 L391.2 172.0 L391.3 171.0 L391.3 170.0 L391.4 169.0 L391.4 168.0 L391.5 167.0 L391.5 166.0 L391.6 165.0 L391.6 164.0 L391.7 163.0 L391.7 162.0 L391.8 161.0 L391.8 160.0 L391.9 159.0 L392.0 158.0 L392.0 157.0 L392.1 156.0 L392.1 155.0 L392.2 154.0 L392.2 153.0 L392.3 152.0 L392.3 151.0 L392.4 150.0 L392.5 149.0 L392.5 148.0 L392.6 147.0 L392.6 146.0 L392.7 145.0 L392.7 144.0 L392.8 143.0 L392.8 142.0 L392.9 141.0 L392.9 140.0 L393.0 139.0 L393.0 138.0 L393.0 137.0 L393.1 136.0 L393.1 135.0 L393.2 134.0 L393.2 133.0 L393.2 132.0 L393.3 131.0 L393.3 130.0 L393.3 129.0 L393.3 128.0 L393.4 127.0 L393.4 126.0 L393.4 125.0 L393.4 124.0 L393.4 123.0 L393.4 122.0 L393.4 121.0 L393.4 120.0 L393.4 119.0 L393.4 118.0 L393.4 117.0 L393.4 116.0 L393.4 115.0 L393.4 114.0 L393.4 113.0 L393.4 112.0 L393.4 111.0 L393.4 110.0 L393.4 109.0 L393.4 108.0 L393.4 107.0 L393.4 106.0 L393.4 105.0 L393.4 104.0 L393.4 103.0 L393.4 102.0 L393.4 101.0 L393.4 100.0 L393.4 99.0 L393.4 98.0 L393.4 97.0 L393.4 96.0 L393.4 95.0 L393.4 94.0 L393.4 93.0 L393.4 92.0 L393.4 91.0 L393.4 90.0 L393.4 89.0 L393.4 88.0 L393.4 87.0 L393.4 86.0 L393.4 85.0 L393.4 84.0 L393.4 83.0 L393.4 82.0 L393.4 81.0 L393.4 80.0 L393.4 79.0 L393.4 78.0 L393.4 77.0 L393.4 76.0 L393.4 75.0 L393.4 74.0 L393.4 73.0 L393.4 72.0 L393.4 71.0 L393.4 70.0 L393.4 69.0 L393.4 68.0 L393.4 67.0 L393.5 66.0 L393.5 65.0 L393.5 64.0 L393.5 63.0 L393.5 62.0 L393.5 61.0 L393.5 60.0 L393.5 59.0 L393.5 58.0 L393.5 57.0 L393.5 56.0 L393.5 55.0 L393.5 54.0 L393.6 53.0 L393.6 52.0 L393.6 51.0 L393.6 50.0 L393.6 49.0 L393.6 48.0 L393.6 47.0 L393.7 46.0 L393.7 45.0 L393.7 44.0 L393.7 43.0 L393.8 42.0 L393.8 41.0 L393.9 40.0 L394.0 38.8 L394.1 38.4 L394.3 39.5 L394.4 40.5 L394.5 41.5 L394.6 42.5 L394.6 43.5 L394.7 44.5 L394.7 45.5 L394.8 46.5 L394.8 47.5 L394.9 48.5 L394.9 49.5 L394.9 50.5 L395.0 51.5 L395.0 52.5 L395.1 53.5 L395.1 54.5 L395.1 55.5 L395.2 56.5 L395.2 57.5 L395.3 58.5 L395.3 59.5 L395.3 60.5 L395.4 61.5 L395.4 62.5 L395.4 63.5 L395.5 64.5 L395.5 65.5 L395.5 66.5 L395.6 67.5 L395.6 68.5 L395.6 69.5 L395.6 70.5 L395.7 71.5 L395.7 72.5 L395.7 73.5 L395.8 74.5 L395.8 75.5 L395.8 76.5 L395.9 77.5 L395.9 78.5 L395.9 79.5 L395.9 80.5 L396.0 81.5 L396.0 82.5 L396.0 83.5 L396.1 84.5 L396.1 85.5 L396.1 86.5 L396.1 87.5 L396.2 88.5 L396.2 89.5 L396.2 90.5 L396.2 91.5 L396.3 92.5 L396.3 93.5 L396.3 94.5 L396.4 95.5 L396.4 96.5 L396.4 97.5 L396.4 98.5 L396.5 99.5 L396.5 100.5 L396.5 101.5 L396.5 102.5 L396.6 103.5 L396.6 104.5 L396.6 105.5 L396.6 106.5 L396.7 107.5 L396.7 108.5 L396.7 109.5 L396.7 110.5 L396.8 111.5 L396.8 112.5 L396.8 113.5 L396.8 114.5 L396.9 115.5 L396.9 116.5 L396.9 117.5 L396.9 118.5 L397.0 119.5 L397.0 120.5 L397.0 121.5 L397.0 122.5 L397.1 123.5 L397.1 124.5 L397.1 125.5 L397.2 126.5 L397.2 127.5 L397.2 128.5 L397.2 129.5 L397.3 130.5 L397.3 131.5 L397.3 132.5 L397.4 133.5 L397.4 134.5 L397.4 135.5 L397.4 136.5 L397.5 137.5 L397.5 138.5 L397.5 139.5 L397.6 140.5 L397.6 141.5 L397.6 142.5 L397.6 143.5 L397.7 144.5 L397.7 145.5 L397.7 146.5 L397.8 147.5 L397.8 148.5 L397.8 149.5 L397.8 150.5 L397.9 151.5 L397.9 152.5 L397.9 153.5 L398.0 154.5 L398.0 155.5 L398.0 156.5 L398.1 157.5 L398.1 158.5 L398.1 159.5 L398.1 160.5 L398.2 161.5 L398.2 162.5 L398.2 163.5 L398.2 164.5 L398.3 165.5 L398.3 166.5 L398.3 167.5 L398.3 168.5 L398.4 169.5 L398.4 170.5 L398.4 171.5 L398.4 172.5 L398.5 173.5 L398.5 174.5 L398.5 175.5 L398.5 176.5 L398.6 177.5 L398.6 178.5 L398.6 179.5 L398.6 180.5 L398.7 181.5 L398.7 182.5 L398.7 183.5 L398.7 184.5 L398.7 185.5 L398.8 186.5 L398.8 187.5 L398.8 188.5 L398.8 189.5 L398.8 190.5 L398.8 191.5 L398.9 192.5 L398.9 193.5 L398.9 194.5 L398.9 195.5 L398.9 196.5 L399.0 197.5 L399.0 198.5 L399.0 199.5 L399.0 200.5 L399.0 201.5 L399.0 202.5 L399.1 203.5 L399.1 204.5 L399.1 205.5 L399.1 206.5 L399.1 207.5 L399.1 208.5 L399.1 209.5 L399.2 210.5 L399.2 211.5 L399.2 212.5 L399.2 213.5 L399.2 214.5 L399.2 215.5 L399.3 216.5 L399.3 217.5 L399.3 218.5 L399.3 219.5 L399.3 220.5 L399.3 221.5 L399.4 222.5 L399.4 223.5 L399.4 224.5 L399.4 225.5 L399.4 226.5 L399.5 227.5 L399.5 228.5 L399.5 229.5 L399.5 230.5 L399.5 231.5 L399.6 232.5 L399.6 233.5 L399.6 234.5 L399.6 235.5 L399.6 236.5 L399.7 237.5 L399.7 238.5 L399.7 239.5 L399.7 240.5 L399.8 241.5 L399.8 242.5 L399.8 243.5 L399.8 244.5 L399.9 245.5 L399.9 246.5 L399.9 247.5 L399.9 248.5 L400.0 249.5 L400.0 250.5 L400.0 251.5 L400.0 252.5 L400.1 253.5 L400.1 254.5 L400.1 255.5 L400.2 256.5 L400.2 257.5 L400.2 258.5 L400.2 259.5 L400.3 260.5 L400.3 261.5 L400.3 262.5 L400.4 263.5 L400.4 264.5 L400.4 265.5 L400.5 266.5 L400.5 267.5 L400.5 268.5 L400.6 269.5 L400.6 270.5 L400.6 271.5 L400.7 272.5 L400.7 273.5 L400.7 274.5 L400.8 275.5 L400.8 276.5 L400.8 277.5 L400.9 278.5 L400.9 279.5 L401.0 280.5 L401.0 281.5 L401.0 282.5 L401.1 283.5 L401.1 284.5 L401.2 285.4 L401.2 286.4 L401.2 287.4 L401.3 288.4 L401.3 289.4 L401.4 290.4 L401.4 291.4 L401.5 292.4 L401.5 293.4 L401.5 294.4 L401.6 295.4 L401.6 296.4 L401.7 297.4 L401.7 298.4 L401.8 299.4 L401.8 300.4 L401.9 301.4 L401.9 302.4 L402.0 303.4 L402.0 304.4 L402.1 305.4 L402.1 306.4 L402.2 307.4 L402.2 308.4 L402.3 309.4 L402.3 310.4 L402.4 311.4 L402.4 312.4 L402.5 313.4 L402.6 314.4 L402.6 315.4 L402.7 316.4 L402.7 317.4 L402.8 318.4 L402.8 319.4 L402.9 320.4 L402.9 321.4 L403.0 322.4 L403.0 323.4 L403.1 324.4 L403.1 325.4 L403.2 326.4 L403.3 327.4 L403.3 328.4 L403.4 329.4 L403.4 330.4 L403.5 331.4 L403.5 332.4 L403.6 333.4 L403.6 334.4 L403.7 335.4 L403.8 336.4 L403.8 337.4 L403.9 338.4 L403.9 339.4 L404.0 340.4 L404.0 341.4 L404.1 342.4 L404.1 343.4 L404.2 344.4 L404.2 345.4 L404.3 346.4 L404.3 347.4 L404.4 348.4 L404.5 349.4 L404.5 350.4 L404.6 351.4 L404.6 352.4 L404.7 353.4 L404.7 354.4 L404.8 355.4 L404.8 356.4 L404.9 357.4 L404.9 358.4 L405.0 359.4 L405.1 360.4 L405.1 361.4 L405.2 362.4 L405.2 363.4 L405.3 364.3 L405.4 365.3 L405.4 366.3 L405.5 367.3 L405.5 368.3 L405.6 369.3 L405.7 370.3 L405.7 371.3 L405.8 372.3 L405.9 373.3 L405.9 374.3 L406.0 375.3 L406.1 376.3 L406.2 377.3 L406.2 378.3 L406.3 379.3 L406.4 380.3 L406.5 381.3 L406.6 382.3 L406.7 383.3 L406.7 384.3 L406.8 385.3 L406.9 386.3 L407.0 387.3 L407.1 388.3 L407.2 389.3 L407.3 390.3 L407.4 391.3 L407.5 392.2 L407.6 393.2 L407.7 394.2 L407.9 395.2 L408.0 396.2 L408.1 397.2 L408.2 398.2 L408.3 399.2 L408.4 400.2 L408.6 401.2 L408.7 402.2 L408.8 403.2 L408.9 404.2 L409.0 405.2 L409.2 406.2 L409.3 407.2 L409.4 408.1 L409.6 409.1 L409.7 410.1 L409.8 411.1 L410.0 412.1 L410.1 413.1 L410.2 414.1 L410.4 415.1 L410.5 416.1 L410.6 417.1 L410.8 418.1 L410.9 419.0 L411.0 420.0 L411.2 421.0 L411.3 422.0 L411.5 423.0 L411.6 424.0 L411.8 425.0 L412.0 426.0 L412.1 426.9 L412.3 427.9 L412.4 428.9 L412.6 429.9 L412.8 430.9 L413.0 431.9 L413.1 432.9 L413.3 433.9 L413.5 434.8 L413.7 435.8 L413.8 436.8 L414.0 437.8 L414.2 438.8 L414.4 439.8 L414.6 440.7 L414.8 441.7 L415.0 442.7 L415.1 443.7 L415.3 444.7 L415.5 445.6 L415.7 446.6 L415.9 447.6 L416.1 448.6 L416.3 449.6 L416.5 450.5 L416.7 451.5 L416.9 452.5 L417.1 453.5 L417.3 454.5 L417.5 455.5 L417.7 456.4 L417.9 457.4 L418.1 458.4 L418.3 459.4 L418.5 460.4 L418.7 461.4 L418.9 462.3 L419.1 463.3 L419.4 464.3 L419.6 465.3 L419.8 466.2 L420.0 467.2 L420.3 468.2 L420.5 469.2 L420.8 470.1 L421.0 471.1 L421.3 472.0 L421.6 473.0 L421.8 474.0 L422.1 474.9 L422.4 475.9 L422.7 476.8 L423.1 477.8 L423.4 478.7 L423.8 479.5 L424.2 480.5 L424.6 481.4 L425.0 482.4 L425.4 483.3 L425.8 484.2 L426.2 485.1 L426.6 486.2 L427.0 486.9 L427.4 487.8 L427.9 488.7 L428.3 489.6 L428.8 490.5 L429.3 491.5 L429.7 492.5 L430.2 493.0 L430.7 494.1 L431.2 494.9 L431.7 495.8 L432.2 496.6 L432.7 497.4 L433.3 498.5 L433.8 499.1 L434.4 500.0 L435.0 500.8 L435.5 501.7 L436.1 502.4 L436.7 503.4 L437.3 504.0 L437.9 504.9 L438.6 505.6 L439.2 506.2 L439.8 507.0 L440.5 507.7 L441.2 508.7 L441.8 509.2 L442.5 509.9 L443.2 510.9 L443.9 511.7 L444.6 511.8 L445.4 513.4 L446.1 513.6 L446.8 514.3 L447.6 515.2 L448.3 515.6 L449.1 516.1 L449.9 517.5 L450.7 517.2 L451.5 518.1 L452.3 519.0 L453.1 519.0 L453.9 519.9 L454.7 520.6 L455.5 521.8 L456.4 521.3 L457.2 522.1 L458.0 522.9 L458.9 523.2 L459.7 523.3 L460.6 524.3 L461.5 524.7 L462.4 525.3 L463.2 526.0 L464.1 526.5 L465.0 526.7 L465.9 527.2 L466.8 527.1 L467.7 527.9 L468.6 528.4 L469.5 528.6 L470.4 529.2 L471.3 529.3 L472.2 530.5 L473.2 531.1 L474.1 530.6 L475.0 531.3 L476.0 531.4 L476.9 532.3 L477.8 532.4 L478.8 532.6 L479.7 532.8 L480.6 533.3 L481.6 533.2 L482.5 534.1 L483.5 533.9 L484.4 534.7 L485.4 534.8 L486.3 535.5 L487.3 535.4 L488.3 536.0 L489.2 535.6 L490.2 536.5 L491.1 536.4 L492.1 536.8 L493.1 537.0 L494.0 537.6 L495.0 536.8 L496.0 537.9 L496.9 537.5 L497.9 538.7 L498.9 537.7 L499.9 538.3 L500.8 538.3 L501.8 539.8 L502.8 538.9 L503.8 539.7 L504.7 539.6 L505.7 539.3 L506.7 540.1 L507.7 540.7 L508.7 540.6 L509.6 541.2 L510.6 540.9 L511.6 541.2 L512.6 541.3 L513.6 541.7 L514.5 542.5 L515.5 542.1 L516.5 542.2 L517.5 542.1 L518.5 542.2 L519.5 543.2 L520.5 542.4 L521.4 542.6 L522.4 543.1 L523.4 543.1 L524.4 544.2 L525.4 542.7 L526.4 543.9 L527.4 544.2 L528.4 543.6 L529.3 544.0 L530.3 544.5 L531.3 545.1 L532.3 544.3 L533.3 544.1 L534.3 545.3 L535.3 545.6 L536.3 545.0 L537.3 544.4 L538.3 546.0 L539.3 545.5 L540.2 546.1 L541.2 545.8 L542.2 545.8 L543.2 545.9 L544.2 546.7 L545.2 546.8 L546.2 545.5 L547.2 546.1 L548.2 547.3 L549.2 546.6 L550.2 546.3 L551.2 546.9 L552.2 547.0 L553.2 547.1 L554.2 547.1 L555.2 547.2 L556.1 547.3 L557.1 547.7 L558.1 547.3 L559.1 547.6 L560.1 547.8 L561.1 548.5 L562.1 548.2 L563.1 548.1 L564.1 548.4 L565.1 548.5 L566.1 548.9 L567.1 548.7 L568.1 549.3 L569.1 549.2 L570.1 548.8 L571.1 548.7 L572.1 549.3 L573.1 549.2 L574.1 549.1 L575.1 548.6 L576.1 548.5 L577.1 549.5 L578.1 549.7 L579.1 549.8 L580.1 549.1 L581.1 550.1 L582.0 549.5 L583.0 550.0 L584.0 550.0 L585.0 549.6 L586.0 549.8 L587.0 549.3 L588.0 549.8 L589.0 549.5 L590.0 550.5 L591.0 550.4 L592.0 550.8 L593.0 550.7 L594.0 550.3 L595.0 550.8 L596.0 550.6 L597.0 551.0 L598.0 551.0 L599.0 550.5 L600.0 551.0 L601.0 551.0 L602.0 551.0 L603.0 551.5 L604.0 551.9 L605.0 551.1 L606.0 551.2 L607.0 550.5 L608.0 551.4 L609.0 551.3 L610.0 550.7 L611.0 551.7 L612.0 551.9 L613.0 551.4 L614.0 551.6 L615.0 551.4 L616.0 552.2 L617.0 551.3 L618.0 551.9 L619.0 552.8 L620.0 552.1 L621.0 552.3 L622.0 552.1 L623.0 551.8 L624.0 552.3 L625.0 552.5 L626.0 552.0 L627.0 552.6 L628.0 553.0 L629.0 553.0 L630.0 552.0 L631.0 552.2 L632.0 552.0 L633.0 553.2 L634.0 553.0 L635.0 553.1 L636.0 552.5 L637.0 552.4 L638.0 553.0 L639.0 553.0 L640.0 552.7 L641.0 553.1 L642.0 553.4 L643.0 553.3 L643.9 552.8 L644.9 552.4 L645.9 553.2 L646.9 553.4 L647.9 553.3 L648.9 553.2 L649.9 553.2 L650.9 553.8 L651.9 553.5 L652.9 553.6 L653.9 553.2 L654.9 553.4 L655.9 553.7 L656.9 553.3 L657.9 553.3 L658.9 553.7 L659.9 554.3 L660.9 553.9 L661.9 554.5 L662.9 553.9 L663.9 553.8 L664.9 553.5 L665.9 553.8 L666.9 554.6 L667.9 554.2 L668.9 554.4 L669.9 554.5 L670.9 554.2 L671.9 554.2 L672.9 554.3 L673.9 554.6 L674.9 554.5 L675.9 554.6 L676.9 554.5 L677.9 554.1 L678.9 554.4 L679.9 554.1 L680.9 554.9 L681.9 553.7 L682.9 554.5 L683.9 555.6 L684.9 554.5 L685.9 554.2 L686.9 554.7 L687.9 555.3 L688.9 554.7 L689.9 555.1 L690.9 554.9 L691.9 554.7 L692.9 556.2 L693.9 554.9 L694.9 554.7 L695.9 554.8 L696.9 555.2 L697.9 555.2 L698.9 555.4 L699.9 555.1 L700.9 554.5 L701.9 555.4 L702.9 555.0 L703.9 555.1 L704.9 554.6 L705.9 555.0 L706.9 555.0 L707.9 555.3 L708.9 554.7 L709.9 555.4 L710.9 555.4 L711.9 554.9 L712.9 555.2 L713.9 555.1 L714.9 555.8 L715.9 554.5 L716.9 555.4 L717.9 554.9 L718.9 555.4 L719.9 555.9 L720.9 555.4 L721.9 555.7 L722.9 555.3 L723.9 556.5 L724.9 556.1 L725.9 556.2 L726.9 555.2 L727.9 555.3 L728.9 556.2 L729.9 555.7 L730.9 555.7 L731.9 556.0 L732.9 555.4 L733.9 556.2 L734.9 555.9 L735.9 556.1 L736.9 555.7 L737.9 556.2 L738.9 555.7 L739.9 556.4 L740.9 556.5 L741.9 556.4 L742.9 556.3 L743.9 556.4 L744.9 555.0 L745.9 556.5 L746.9 556.1 L747.9 556.2 L748.9 556.1 L749.9 555.7 L750.9 556.0 L751.9 556.5 L752.9 556.9 L753.9 556.1 L754.9 556.0 L755.9 556.9 L756.9 556.0 L757.9 557.2 L758.9 556.4 L759.9 556.1 L760.9 556.8 L761.9 557.1 L762.9 555.9 L763.9 557.1 L764.9 556.4 L765.9 557.1 L766.9 556.4 L767.9 555.9 L768.9 556.8 L769.9 557.0 L770.9 557.4 L771.9 557.3 L772.9 556.9 L773.9 556.6 L774.9 556.5 L775.9 556.6 L776.9 556.4 L777.9 556.6 L778.9 555.7 L779.9 556.8 L780.9 556.8 L781.9 557.8 L782.9 557.1 L783.9 556.6 L784.9 557.1 L785.9 556.4 L786.9 556.6 L787.9 556.1 L788.9 557.5 L789.9 557.1 L790.9 556.5 L791.9 556.9 L792.9 557.3 L793.9 557.2 L794.9 557.1 L795.9 556.7 L796.9 556.8 L797.9 557.1 L798.9 557.4 L799.9 556.7 L800.9 556.6 L801.9 557.5 L802.9 556.7 L803.9 557.5 L804.9 557.2 L805.9 557.5 L806.9 557.8 L807.9 557.4 L808.9 557.5 L809.9 556.8 L810.9 556.9 L811.9 557.5 L812.9 557.8 L813.9 557.8 L814.9 558.2 L815.9 557.4 L816.9 557.4 L817.9 557.7 L818.9 557.3 L819.9 557.3 L820.9 556.9 L821.9 557.7 L822.9 556.9 L823.9 557.6 L824.9 556.8 L825.9 557.8 L826.9 557.0 L827.9 557.8 L828.9 556.8 L829.9 557.3 L830.9 557.9 L831.9 557.1 L832.9 557.5 L833.9 557.3 L834.9 556.6 L835.9 557.6 L836.9 557.7 L837.9 557.1 L838.9 557.8 L839.9 557.2 L840.9 557.2 L841.9 557.6 L842.9 557.3 L843.9 558.5 L844.9 557.0 L845.9 557.9 L846.9 558.0 L847.9 556.9 L848.9 557.0 L849.9 557.9 L850.9 557.5 L851.9 557.8 L852.9 558.2 L853.9 557.6 L854.9 557.3 L855.9 556.6 L856.9 557.8 L857.9 557.4 L858.9 557.9 L859.9 557.9 L860.9 557.2 L861.9 558.5 L862.9 558.2 L863.9 558.1 L864.9 557.3 L865.9 557.7 L866.9 557.6 L867.9 557.7 L868.9 557.4 L869.9 558.0 L870.9 558.0 L871.9 558.0 L872.9 557.7 L873.9 558.4 L874.9 558.0 L875.9 556.8 L876.9 557.7 L877.9 557.9 L878.9 558.3 L879.9 557.8 L880.9 557.9 L881.9 557.7 L882.9 558.3 L883.9 557.8 L884.9 557.8 L885.9 557.7 L886.9 558.2 L887.9 557.8 L888.9 557.4 L889.9 558.3 L890.9 557.8 L891.9 558.2 L892.9 558.2 L893.9 558.6 L894.9 558.5 L895.9 557.9 L896.9 558.0 L897.9 557.6 L898.9 558.8 L899.9 558.3 L900.9 558.7 L901.9 558.0 L902.9 557.3 L903.9 558.8 L904.9 558.2 L905.9 558.2 L906.9 558.2 L907.9 558.5 L908.9 558.4 L909.9 557.6 L910.9 558.7 L911.9 558.0 L912.9 558.0 L913.9 558.9 L914.9 558.6 L915.9 558.1 L916.9 557.5 L917.9 558.3 L918.9 558.5 L919.9 558.3" stroke="#70c8d4"/>
<path d="M139.3 561.5 L140.3 561.7 L141.3 561.5 L142.3 562.1 L143.3 562.3 L144.3 562.4 L145.3 561.7 L146.3 562.0 L147.3 562.2 L148.3 561.7 L149.3 561.8 L150.3 562.7 L151.3 562.0 L152.3 562.2 L153.3 561.7 L154.3 561.8 L155.3 561.1 L156.3 561.8 L157.3 562.3 L158.3 562.6 L159.3 562.2 L160.3 562.0 L161.3 561.7 L162.3 561.5 L163.3 561.6 L164.3 561.9 L165.3 561.3 L166.3 562.0 L167.3 561.2 L168.3 560.9 L169.3 561.2 L170.3 560.9 L171.3 561.0 L172.3 562.0 L173.3 561.4 L174.3 561.6 L175.3 561.9 L176.3 562.0 L177.3 561.2 L178.3 562.0 L179.3 561.6 L180.3 561.4 L181.3 561.6 L182.3 560.8 L183.3 561.0 L184.3 561.3 L185.3 561.5 L186.3 561.1 L187.3 561.2 L188.3 561.6 L189.3 561.8 L190.3 561.5 L191.3 561.7 L192.3 561.0 L193.3 561.0 L194.3 561.2 L195.3 561.0 L196.3 560.9 L197.3 561.7 L198.3 560.9 L199.3 560.6 L200.3 561.2 L201.3 561.7 L202.3 561.0 L203.3 561.4 L204.3 560.7 L205.3 560.7 L206.3 560.6 L207.3 560.8 L208.3 561.5 L209.3 560.3 L210.3 561.4 L211.3 560.3 L212.3 560.6 L213.3 561.0 L214.3 560.9 L215.3 560.7 L216.3 559.9 L217.3 560.7 L218.3 560.1 L219.3 561.5 L220.3 560.4 L221.3 560.5 L222.3 560.0 L223.3 560.2 L224.3 559.8 L225.3 560.7 L226.3 560.2 L227.3 560.5 L228.3 560.0 L229.3 560.0 L230.3 560.7 L231.3 559.7 L232.3 559.4 L233.3 560.2 L234.3 559.6 L235.3 559.8 L236.3 560.3 L237.3 559.6 L238.3 560.2 L239.3 559.6 L240.3 560.4 L241.3 560.3 L242.3 559.6 L243.3 559.6 L244.3 559.3 L245.3 559.7 L246.3 560.1 L247.3 559.0 L248.3 559.9 L249.3 558.9 L250.3 559.1 L251.3 558.7 L252.3 560.2 L253.3 559.3 L254.3 559.4 L255.3 559.0 L256.3 559.6 L257.3 558.3 L258.3 559.1 L259.3 559.9 L260.3 558.8 L261.3 558.9 L262.3 559.2 L263.3 558.5 L264.3 558.8 L265.2 559.1 L266.2 558.8 L267.2 558.8 L268.2 558.4 L269.2 558.6 L270.2 558.5 L271.2 559.0 L272.2 558.6 L273.2 558.2 L274.2 557.3 L275.2 558.5 L276.2 558.4 L277.2 557.7 L278.2 557.2 L279.2 557.5 L280.2 558.2 L281.2 557.4 L282.2 557.5 L283.2 557.7 L284.2 558.1 L285.2 557.5 L286.2 557.4 L287.2 557.1 L288.2 557.9 L289.2 557.6 L290.2 557.1 L291.2 556.5 L292.2 556.6 L293.2 557.1 L294.2 556.5 L295.2 557.0 L296.2 556.7 L297.2 556.6 L298.2 556.6 L299.2 556.5 L300.2 555.8 L301.1 556.0 L302.1 556.9 L303.1 555.4 L304.1 555.6 L305.1 556.1 L306.1 555.5 L307.1 555.1 L308.1 554.8 L309.1 555.4 L310.1 555.4 L311.1 555.5 L312.1 554.8 L313.1 555.0 L314.0 554.1 L315.0 554.4 L316.0 553.9 L317.0 554.1 L318.0 554.2 L319.0 554.1 L320.0 553.2 L321.0 553.9 L321.9 553.0 L322.9 552.6 L323.9 552.8 L324.9 552.1 L325.9 552.5 L326.9 552.4 L327.8 552.0 L328.8 552.0 L329.8 551.5 L330.8 551.4 L331.7 550.6 L332.7 550.9 L333.7 550.3 L334.6 550.2 L335.6 550.0 L336.5 549.9 L337.5 548.9 L338.4 548.6 L339.4 548.8 L340.3 548.7 L341.3 548.3 L342.2 548.2 L343.1 547.9 L344.1 547.3 L345.0 546.7 L345.9 545.9 L346.8 545.5 L347.7 545.3 L348.6 545.1 L349.5 544.6 L350.3 544.0 L351.2 543.4 L352.1 543.2 L352.9 542.5 L353.7 541.9 L354.5 541.3 L355.3 540.5 L356.1 539.8 L356.9 539.5 L357.6 538.8 L358.4 538.0 L359.1 537.2 L359.8 537.1 L360.4 535.7 L361.1 535.1 L361.7 534.4 L362.4 533.4 L363.0 532.8 L363.5 532.3 L364.1 531.3 L364.6 530.4 L365.2 529.5 L365.7 528.6 L366.2 527.8 L366.6 526.8 L367.1 525.9 L367.5 525.0 L367.9 524.2 L368.3 523.2 L368.7 522.3 L369.1 521.3 L369.5 520.5 L369.8 519.6 L370.2 518.6 L370.5 517.6 L370.8 516.6 L371.1 515.7 L371.4 514.7 L371.7 513.8 L372.0 512.8 L372.2 511.9 L372.5 510.9 L372.8 509.9 L373.0 508.9 L373.2 508.0 L373.4 507.0 L373.6 506.0 L373.8 505.0 L374.0 504.1 L374.2 503.1 L374.3 502.1 L374.5 501.1 L374.7 500.1 L374.8 499.1 L375.0 498.1 L375.1 497.1 L375.2 496.2 L375.4 495.2 L375.5 494.2 L375.7 493.2 L375.8 492.2 L375.9 491.2 L376.0 490.2 L376.2 489.2 L376.3 488.2 L376.4 487.2 L376.5 486.2 L376.6 485.2 L376.7 484.2 L376.8 483.2 L376.9 482.3 L377.1 481.3 L377.2 480.3 L377.3 479.3 L377.4 478.3 L377.5 477.3 L377.6 476.3 L377.7 475.3 L377.8 474.3 L377.9 473.3 L378.0 472.3 L378.2 471.3 L378.3 470.3 L378.4 469.3 L378.5 468.3 L378.6 467.3 L378.7 466.4 L378.8 465.4 L378.9 464.4 L379.0 463.4 L379.1 462.4 L379.2 461.4 L379.3 460.4 L379.4 459.4 L379.6 458.4 L379.7 457.4 L379.8 456.4 L379.9 455.4 L380.0 454.4 L380.1 453.4 L380.2 452.4 L380.3 451.4 L380.5 450.4 L380.6 449.5 L380.7 448.5 L380.8 447.5 L380.9 446.5 L381.0 445.5 L381.1 444.5 L381.2 443.5 L381.3 442.5 L381.4 441.5 L381.5 440.5 L381.6 439.5 L381.7 438.5 L381.8 437.5 L381.9 436.5 L382.0 435.5 L382.1 434.5 L382.2 433.5 L382.3 432.5 L382.4 431.5 L382.5 430.6 L382.6 429.6 L382.7 428.6 L382.8 427.6 L382.9 426.6 L383.0 425.6 L383.1 424.6 L383.1 423.6 L383.2 422.6 L383.3 421.6 L383.4 420.6 L383.4 419.6 L383.5 418.6 L383.6 417.6 L383.6 416.6 L383.7 415.6 L383.7 414.6 L383.8 413.6 L383.8 412.6 L383.9 411.6 L383.9 410.6 L384.0 409.6 L384.0 408.6 L384.1 407.6 L384.1 406.6 L384.2 405.6 L384.2 404.6 L384.3 403.6 L384.3 402.6 L384.4 401.6 L384.4 400.6 L384.4 399.6 L384.5 398.6 L384.5 397.6 L384.6 396.6 L384.6 395.6 L384.7 394.6 L384.7 393.6 L384.7 392.6 L384.8 391.6 L384.8 390.6 L384.9 389.6 L384.9 388.6 L385.0 387.6 L385.0 386.6 L385.1 385.6 L385.1 384.6 L385.2 383.6 L385.2 382.6 L385.3 381.6 L385.4 380.6 L385.4 379.6 L385.5 378.6 L385.6 377.6 L385.6 376.6 L385.7 375.7 L385.8 374.7 L385.8 373.7 L385.9 372.7 L386.0 371.7 L386.1 370.7 L386.2 369.7 L386.3 368.7 L386.3 367.7 L386.4 366.7 L386.5 365.7 L386.6 364.7 L386.7 363.7 L386.8 362.7 L386.9 361.7 L387.0 360.7 L387.1 359.7 L387.2 358.7 L387.3 357.7 L387.3 356.7 L387.4 355.7 L387.5 354.7 L387.6 353.7 L387.7 352.7 L387.8 351.7 L387.9 350.7 L388.0 349.7 L388.1 348.8 L388.1 347.8 L388.2 346.8 L388.3 345.8 L388.4 344.8 L388.4 343.8 L388.5 342.8 L388.6 341.8 L388.7 340.8 L388.7 339.8 L388.8 338.8 L388.8 337.8 L388.9 336.8 L389.0 335.8 L389.0 334.8 L389.1 333.8 L389.1 332.8 L389.2 331.8 L389.2 330.8 L389.3 329.8 L389.4 328.8 L389.4 327.8 L389.5 326.8 L389.5 325.8 L389.6 324.8 L389.6 323.8 L389.7 322.8 L389.7 321.8 L389.8 320.8 L389.8 319.8 L389.9 318.8 L389.9 317.8 L390.0 316.8 L390.0 315.8 L390.0 314.8 L390.1 313.8 L390.1 312.8 L390.2 311.8 L390.2 310.8 L390.3 309.8 L390.3 308.8 L390.4 307.8 L390.4 306.8 L390.5 305.8 L390.5 304.8 L390.6 303.8 L390.6 302.8 L390.6 301.8 L390.7 300.8 L390.7 299.8 L390.8 298.8 L390.8 297.8 L390.9 296.8 L390.9 295.8 L391.0 294.8 L391.0 293.8 L391.1 292.8 L391.1 291.8 L391.2 290.8 L391.2 289.8 L391.2 288.8 L391.3 287.8 L391.3 286.8 L391.4 285.8 L391.4 284.8 L391.5 283.8 L391.5 282.8 L391.6 281.8 L391.7 280.9 L391.7 279.9 L391.8 278.9 L391.8 277.9 L391.9 276.9 L391.9 275.9 L392.0 274.9 L392.0 273.9 L392.1 272.9 L392.2 271.9 L392.2 270.9 L392.3 269.9 L392.4 268.9 L392.4 267.9 L392.5 266.9 L392.5 265.9 L392.6 264.9 L392.7 263.9 L392.7 262.9 L392.8 261.9 L392.8 260.9 L392.9 259.9 L393.0 258.9 L393.0 257.9 L393.1 256.9 L393.2 255.9 L393.2 254.9 L393.3 253.9 L393.3 252.9 L393.4 251.9 L393.4 250.9 L393.5 249.9 L393.6 248.9 L393.6 247.9 L393.7 246.9 L393.7 245.9 L393.8 244.9 L393.8 243.9 L393.9 242.9 L393.9 241.9 L394.0 240.9 L394.0 239.9 L394.0 238.9 L394.1 237.9 L394.1 236.9 L394.2 235.9 L394.2 234.9 L394.2 233.9 L394.3 232.9 L394.3 231.9 L394.4 230.9 L394.4 229.9 L394.4 228.9 L394.5 227.9 L394.5 226.9 L394.5 225.9 L394.6 224.9 L394.6 223.9 L394.6 222.9 L394.7 221.9 L394.7 220.9 L394.7 219.9 L394.8 218.9 L394.8 217.9 L394.8 216.9 L394.9 215.9 L394.9 214.9 L394.9 213.9 L395.0 212.9 L395.0 211.9 L395.0 210.9 L395.0 209.9 L395.1 208.9 L395.1 207.9 L395.1 206.9 L395.2 205.9 L395.2 204.9 L395.2 203.9 L395.3 202.9 L395.3 201.9 L395.3 200.9 L395.3 199.9 L395.4 198.9 L395.4 197.9 L395.4 196.9 L395.5 195.9 L395.5 194.9 L395.5 193.9 L395.6 192.9 L395.6 191.9 L395.6 190.9 L395.7 189.9 L395.7 188.9 L395.7 187.9 L395.8 186.9 L395.8 185.9 L395.8 184.9 L395.9 183.9 L395.9 182.9 L395.9 181.9 L396.0 181.0 L396.0 180.0 L396.0 179.0 L396.1 178.0 L396.1 177.0 L396.2 176.0 L396.2 175.0 L396.2 174.0 L396.3 173.0 L396.3 172.0 L396.4 171.0 L396.4 170.0 L396.5 169.0 L396.5 168.0 L396.6 167.0 L396.6 166.0 L396.7 165.0 L396.7 164.0 L396.8 163.0 L396.8 162.0 L396.9 161.0 L396.9 160.0 L397.0 159.0 L397.0 158.0 L397.1 157.0 L397.1 156.0 L397.2 155.0 L397.3 154.0 L397.3 153.0 L397.4 152.0 L397.4 151.0 L397.5 150.0 L397.5 149.0 L397.6 148.0 L397.6 147.0 L397.7 146.0 L397.7 145.0 L397.8 144.0 L397.8 143.0 L397.9 142.0 L397.9 141.0 L397.9 140.0 L398.0 139.0 L398.0 138.0 L398.1 137.0 L398.1 136.0 L398.1 135.0 L398.2 134.0 L398.2 133.0 L398.3 132.0 L398.3 131.0 L398.3 130.0 L398.4 129.0 L398.4 128.0 L398.4 127.0 L398.4 126.0 L398.5 125.0 L398.5 124.0 L398.5 123.0 L398.5 122.0 L398.5 121.0 L398.5 120.0 L398.6 119.0 L398.6 118.0 L398.6 117.0 L398.6 116.0 L398.6 115.0 L398.6 114.0 L398.6 113.0 L398.6 112.0 L398.6 111.0 L398.6 110.0 L398.6 109.0 L398.7 108.0 L398.7 107.0 L398.7 106.0 L398.7 105.0 L398.7 104.0 L398.7 103.0 L398.7 102.0 L398.7 101.0 L398.7 100.0 L398.7 99.0 L398.7 98.0 L398.7 97.0 L398.8 96.0 L398.8 95.0 L398.8 94.0 L398.8 93.0 L398.8 92.0 L398.8 91.0 L398.8 90.0 L398.8 89.0 L398.8 88.0 L398.9 87.0 L398.9 86.0 L398.9 85.0 L398.9 84.0 L398.9 83.0 L398.9 82.0 L398.9 81.0 L398.9 80.0 L399.0 79.0 L399.0 78.0 L399.0 77.0 L399.0 76.0 L399.0 75.0 L399.0 74.0 L399.0 73.0 L399.0 72.0 L399.1 71.0 L399.1 70.0 L399.1 69.0 L399.1 68.0 L399.1 67.0 L399.1 66.0 L399.2 65.0 L399.2 64.0 L399.2 63.0 L399.2 62.0 L399.2 61.0 L399.3 60.0 L399.3 59.0 L399.3 58.0 L399.3 57.0 L399.4 56.0 L399.4 55.0 L399.4 54.0 L399.4 53.0 L399.5 52.0 L399.5 51.0 L399.5 50.0 L399.6 49.0 L399.6 48.0 L399.7 47.0 L399.7 46.0 L399.8 44.9 L400.0 44.1 L400.2 44.8 L400.3 45.9 L400.4 46.9 L400.4 47.9 L400.5 48.9 L400.5 49.9 L400.6 50.9 L400.6 51.9 L400.6 52.9 L400.7 53.9 L400.7 54.9 L400.7 55.9 L400.8 56.9 L400.8 57.9 L400.8 58.9 L400.9 59.9 L400.9 60.9 L400.9 61.9 L400.9 62.9 L401.0 63.9 L401.0 64.9 L401.0 65.9 L401.1 66.9 L401.1 67.9 L401.1 68.9 L401.1 69.9 L401.1 70.9 L401.2 71.9 L401.2 72.9 L401.2 73.9 L401.2 74.9 L401.3 75.9 L401.3 76.9 L401.3 77.9 L401.3 78.9 L401.3 79.9 L401.4 80.9 L401.4 81.9 L401.4 82.9 L401.4 83.9 L401.4 84.9 L401.5 85.9 L401.5 86.9 L401.5 87.9 L401.5 88.9 L401.5 89.9 L401.6 90.9 L401.6 91.9 L401.6 92.9 L401.6 93.9 L401.6 94.9 L401.7 95.9 L401.7 96.9 L401.7 97.9 L401.7 98.9 L401.7 99.9 L401.7 100.9 L401.8 101.9 L401.8 102.9 L401.8 103.9 L401.8 104.9 L401.8 105.9 L401.8 106.9 L401.8 107.9 L401.9 108.9 L401.9 109.9 L401.9 110.9 L401.9 111.9 L401.9 112.9 L401.9 113.9 L402.0 114.9 L402.0 115.9 L402.0 116.9 L402.0 117.9 L402.0 118.9 L402.0 119.9 L402.1 120.9 L402.1 121.9 L402.1 122.9 L402.1 123.9 L402.2 124.9 L402.2 125.9 L402.2 126.9 L402.2 127.9 L402.3 128.9 L402.3 129.9 L402.3 130.9 L402.3 131.9 L402.4 132.9 L402.4 133.9 L402.4 134.9 L402.4 135.9 L402.5 136.9 L402.5 137.9 L402.5 138.9 L402.6 139.9 L402.6 140.9 L402.6 141.9 L402.6 142.9 L402.7 143.9 L402.7 144.9 L402.7 145.9 L402.8 146.9 L402.8 147.9 L402.8 148.9 L402.9 149.9 L402.9 150.9 L402.9 151.9 L402.9 152.9 L403.0 153.9 L403.0 154.9 L403.0 155.9 L403.1 156.9 L403.1 157.9 L403.1 158.9 L403.2 159.9 L403.2 160.9 L403.2 161.9 L403.3 162.9 L403.3 163.9 L403.3 164.9 L403.3 165.9 L403.4 166.9 L403.4 167.9 L403.4 168.9 L403.4 169.9 L403.5 170.9 L403.5 171.9 L403.5 172.9 L403.6 173.9 L403.6 174.9 L403.6 175.9 L403.6 176.9 L403.7 177.9 L403.7 178.9 L403.7 179.9 L403.7 180.9 L403.7 181.9 L403.8 182.9 L403.8 183.9 L403.8 184.9 L403.8 185.9 L403.8 186.9 L403.9 187.9 L403.9 188.9 L403.9 189.9 L403.9 190.9 L403.9 191.9 L404.0 192.9 L404.0 193.9 L404.0 194.9 L404.0 195.9 L404.0 196.9 L404.0 197.9 L404.1 198.9 L404.1 199.9 L404.1 200.9 L404.1 201.9 L404.1 202.9 L404.1 203.9 L404.2 204.9 L404.2 205.9 L404.2 206.9 L404.2 207.9 L404.2 208.9 L404.2 209.9 L404.3 210.9 L404.3 211.9 L404.3 212.9 L404.3 213.9 L404.3 214.9 L404.3 215.9 L404.4 216.9 L404.4 217.9 L404.4 218.9 L404.4 219.9 L404.4 220.9 L404.4 221.9 L404.5 222.9 L404.5 223.9 L404.5 224.9 L404.5 225.9 L404.5 226.9 L404.5 227.9 L404.6 228.9 L404.6 229.9 L404.6 230.9 L404.6 231.9 L404.6 232.9 L404.7 233.9 L404.7 234.9 L404.7 235.9 L404.7 236.9 L404.8 237.9 L404.8 238.9 L404.8 239.9 L404.8 240.9 L404.8 241.9 L404.9 242.9 L404.9 243.9 L404.9 244.9 L404.9 245.9 L405.0 246.9 L405.0 247.9 L405.0 248.9 L405.0 249.9 L405.1 250.9 L405.1 251.9 L405.1 252.9 L405.2 253.9 L405.2 254.9 L405.2 255.9 L405.2 256.9 L405.3 257.9 L405.3 258.9 L405.3 259.9 L405.4 260.9 L405.4 261.9 L405.4 262.9 L405.5 263.9 L405.5 264.9 L405.5 265.9 L405.5 266.9 L405.6 267.9 L405.6 268.9 L405.6 269.9 L405.7 270.9 L405.7 271.9 L405.7 272.9 L405.8 273.9 L405.8 274.9 L405.9 275.9 L405.9 276.9 L405.9 277.9 L406.0 278.9 L406.0 279.9 L406.0 280.9 L406.1 281.9 L406.1 282.9 L406.1 283.9 L406.2 284.9 L406.2 285.9 L406.3 286.9 L406.3 287.9 L406.4 288.9 L406.4 289.9 L406.4 290.9 L406.5 291.9 L406.5 292.9 L406.6 293.9 L406.6 294.9 L406.7 295.8 L406.7 296.8 L406.8 297.8 L406.8 298.8 L406.9 299.8 L406.9 300.8 L407.0 301.8 L407.0 302.8 L407.1 303.8 L407.1 304.8 L407.2 305.8 L407.2 306.8 L407.3 307.8 L407.3 308.8 L407.4 309.8 L407.4 310.8 L407.5 311.8 L407.5 312.8 L407.6 313.8 L407.6 314.8 L407.7 315.8 L407.7 316.8 L407.8 317.8 L407.8 318.8 L407.9 319.8 L407.9 320.8 L408.0 321.8 L408.1 322.8 L408.1 323.8 L408.2 324.8 L408.2 325.8 L408.3 326.8 L408.3 327.8 L408.4 328.8 L408.4 329.8 L408.5 330.8 L408.5 331.8 L408.6 332.8 L408.7 333.8 L408.7 334.8 L408.8 335.8 L408.8 336.8 L408.9 337.8 L408.9 338.8 L409.0 339.8 L409.0 340.8 L409.1 341.8 L409.2 342.8 L409.2 343.8 L409.3 344.8 L409.3 345.8 L409.4 346.8 L409.4 347.8 L409.5 348.8 L409.5 349.8 L409.6 350.8 L409.6 351.8 L409.7 352.8 L409.7 353.8 L409.8 354.8 L409.8 355.8 L409.9 356.8 L410.0 357.8 L410.0 358.8 L410.1 359.8 L410.1 360.8 L410.2 361.8 L410.2 362.8 L410.3 363.8 L410.4 364.8 L410.4 365.8 L410.5 366.8 L410.5 367.8 L410.6 368.8 L410.7 369.7 L410.7 370.7 L410.8 371.7 L410.9 372.7 L410.9 373.7 L411.0 374.7 L411.1 375.7 L411.2 376.7 L411.2 377.7 L411.3 378.7 L411.4 379.7 L411.5 380.7 L411.5 381.7 L411.6 382.7 L411.7 383.7 L411.8 384.7 L411.9 385.7 L412.0 386.7 L412.1 387.7 L412.2 388.7 L412.3 389.7 L412.4 390.7 L412.5 391.7 L412.6 392.7 L412.7 393.7 L412.8 394.7 L412.9 395.6 L413.0 396.6 L413.1 397.6 L413.2 398.6 L413.3 399.6 L413.5 400.6 L413.6 401.6 L413.7 402.6 L413.8 403.6 L413.9 404.6 L414.1 405.6 L414.2 406.6 L414.3 407.6 L414.4 408.6 L414.6 409.6 L414.7 410.5 L414.8 411.5 L415.0 412.5 L415.1 413.5 L415.2 414.5 L415.4 415.5 L415.5 416.5 L415.6 417.5 L415.8 418.5 L415.9 419.5 L416.1 420.4 L416.2 421.4 L416.4 422.4 L416.5 423.4 L416.6 424.4 L416.8 425.4 L417.0 426.4 L417.1 427.4 L417.3 428.4 L417.4 429.3 L417.6 430.3 L417.8 431.3 L417.9 432.3 L418.1 433.3 L418.3 434.3 L418.5 435.3 L418.7 436.2 L418.8 437.2 L419.0 438.2 L419.2 439.2 L419.4 440.2 L419.6 441.2 L419.8 442.1 L419.9 443.1 L420.1 444.1 L420.3 445.1 L420.5 446.1 L420.7 447.0 L420.9 448.0 L421.1 449.0 L421.3 450.0 L421.5 451.0 L421.7 452.0 L421.9 452.9 L422.1 453.9 L422.3 454.9 L422.5 455.9 L422.7 456.9 L422.9 457.8 L423.1 458.8 L423.3 459.8 L423.5 460.8 L423.7 461.8 L423.9 462.8 L424.1 463.7 L424.3 464.7 L424.6 465.7 L424.8 466.7 L425.0 467.6 L425.2 468.6 L425.5 469.6 L425.7 470.6 L426.0 471.5 L426.2 472.5 L426.5 473.4 L426.8 474.4 L427.1 475.4 L427.3 476.3 L427.7 477.2 L428.0 478.2 L428.3 479.1 L428.7 480.0 L429.1 481.0 L429.5 481.9 L429.9 482.9 L430.2 483.7 L430.6 484.7 L431.0 485.6 L431.5 486.4 L431.9 487.4 L432.3 488.3 L432.7 489.3 L433.2 490.1 L433.6 491.1 L434.1 492.1 L434.5 492.8 L435.0 493.5 L435.5 494.6 L436.0 495.5 L436.5 496.2 L437.0 497.3 L437.5 498.1 L438.1 498.9 L438.6 499.6 L439.2 500.4 L439.7 501.3 L440.3 502.2 L440.9 503.1 L441.5 503.9 L442.1 504.5 L442.7 505.4 L443.3 506.2 L443.9 506.6 L444.6 507.6 L445.2 508.3 L445.9 509.2 L446.5 509.9 L447.2 510.6 L447.9 511.2 L448.6 512.3 L449.3 512.9 L450.0 513.1 L450.8 514.2 L451.5 514.6 L452.2 516.0 L453.0 516.1 L453.8 516.8 L454.5 517.5 L455.3 518.1 L456.1 518.8 L456.9 519.8 L457.7 520.0 L458.5 520.8 L459.3 521.5 L460.1 521.4 L461.0 522.8 L461.8 523.0 L462.6 523.7 L463.5 523.6 L464.3 524.7 L465.2 525.1 L466.1 525.2 L466.9 526.7 L467.8 526.6 L468.7 526.8 L469.6 527.4 L470.5 528.1 L471.4 528.6 L472.3 528.9 L473.2 529.5 L474.1 530.0 L475.0 529.5 L475.9 530.2 L476.8 530.4 L477.7 531.2 L478.6 532.0 L479.6 532.1 L480.5 531.9 L481.4 532.5 L482.4 533.4 L483.3 533.2 L484.2 533.7 L485.2 534.1 L486.1 533.7 L487.1 535.0 L488.0 535.1 L489.0 535.5 L489.9 535.3 L490.9 535.6 L491.8 536.0 L492.8 536.6 L493.8 536.8 L494.7 537.1 L495.7 538.0 L496.6 538.1 L497.6 537.6 L498.6 537.9 L499.5 539.0 L500.5 538.5 L501.5 539.4 L502.4 539.7 L503.4 539.2 L504.4 539.5 L505.4 539.9 L506.3 539.7 L507.3 539.9 L508.3 540.3 L509.3 541.0 L510.2 540.8 L511.2 541.1 L512.2 541.2 L513.2 541.0 L514.2 542.3 L515.1 541.0 L516.1 541.9 L517.1 542.5 L518.1 542.0 L519.1 542.9 L520.0 543.4 L521.0 542.7 L522.0 543.3 L523.0 543.0 L524.0 543.8 L525.0 543.8 L526.0 544.0 L526.9 544.6 L527.9 544.4 L528.9 544.9 L529.9 544.8 L530.9 544.2 L531.9 544.9 L532.9 545.2 L533.9 544.6 L534.9 545.8 L535.8 545.4 L536.8 545.7 L537.8 545.3 L538.8 545.9 L539.8 546.1 L540.8 546.0 L541.8 546.3 L542.8 545.5 L543.8 547.0 L544.8 546.2 L545.8 545.9 L546.7 546.5 L547.7 546.6 L548.7 547.3 L549.7 546.9 L550.7 547.4 L551.7 547.1 L552.7 548.4 L553.7 547.9 L554.7 548.6 L555.7 547.5 L556.7 548.3 L557.7 547.7 L558.7 548.4 L559.7 548.6 L560.7 547.8 L561.7 548.1 L562.7 548.2 L563.6 548.1 L564.6 548.5 L565.6 548.5 L566.6 548.4 L567.6 549.1 L568.6 549.4 L569.6 548.8 L570.6 549.1 L571.6 549.5 L572.6 549.5 L573.6 549.4 L574.6 550.0 L575.6 550.1 L576.6 550.2 L577.6 549.9 L578.6 550.9 L579.6 550.8 L580.6 550.1 L581.6 550.3 L582.6 550.9 L583.6 550.1 L584.6 550.7 L585.6 550.6 L586.6 550.4 L587.6 550.7 L588.6 550.2 L589.6 550.7 L590.5 550.2 L591.5 552.0 L592.5 551.7 L593.5 551.7 L594.5 551.4 L595.5 551.7 L596.5 551.9 L597.5 551.9 L598.5 551.9 L599.5 551.2 L600.5 551.8 L601.5 551.5 L602.5 551.3 L603.5 551.4 L604.5 552.1 L605.5 552.4 L606.5 551.5 L607.5 552.8 L608.5 552.8 L609.5 552.1 L610.5 552.1 L611.5 552.3 L612.5 552.8 L613.5 552.3 L614.5 552.1 L615.5 552.7 L616.5 551.8 L617.5 552.7 L618.5 553.2 L619.5 552.9 L620.5 553.2 L621.5 553.1 L622.5 553.2 L623.5 553.1 L624.5 552.7 L625.5 553.0 L626.5 553.1 L627.5 553.7 L628.5 553.9 L629.5 553.5 L630.5 553.1 L631.5 553.1 L632.5 553.4 L633.5 554.1 L634.5 553.7 L635.5 553.6 L636.5 553.3 L637.5 554.0 L638.5 553.9 L639.5 553.8 L640.5 553.9 L641.5 554.6 L642.5 553.9 L643.5 554.6 L644.5 554.5 L645.5 554.1 L646.5 554.4 L647.5 554.1 L648.5 553.8 L649.5 554.1 L650.5 553.9 L651.5 554.5 L652.5 554.3 L653.5 554.6 L654.5 554.8 L655.5 553.2 L656.5 554.6 L657.5 553.8 L658.5 554.6 L659.5 554.3 L660.4 554.7 L661.4 555.2 L662.4 554.0 L663.4 554.8 L664.4 554.8 L665.4 554.1 L666.4 555.1 L667.4 554.9 L668.4 554.7 L669.4 554.7 L670.4 556.3 L671.4 554.9 L672.4 554.4 L673.4 554.8 L674.4 555.0 L675.4 555.0 L676.4 555.2 L677.4 554.8 L678.4 555.5 L679.4 555.1 L680.4 554.8 L681.4 555.1 L682.4 555.3 L683.4 555.8 L684.4 555.7 L685.4 555.4 L686.4 555.6 L687.4 555.7 L688.4 556.4 L689.4 555.4 L690.4 555.9 L691.4 556.0 L692.4 555.3 L693.4 555.8 L694.4 555.9 L695.4 555.6 L696.4 556.1 L697.4 556.3 L698.4 556.4 L699.4 555.9 L700.4 556.0 L701.4 556.9 L702.4 555.6 L703.4 556.1 L704.4 556.4 L705.4 556.2 L706.4 556.4 L707.4 556.2 L708.4 556.5 L709.4 556.7 L710.4 556.1 L711.4 556.3 L712.4 556.3 L713.4 556.1 L714.4 556.3 L715.4 555.9 L716.4 556.7 L717.4 557.1 L718.4 557.1 L719.4 557.0 L720.4 556.1 L721.4 557.1 L722.4 556.2 L723.4 556.5 L724.4 557.3 L725.4 556.2 L726.4 557.0 L727.4 556.8 L728.4 556.6 L729.4 556.3 L730.4 556.9 L731.4 556.6 L732.4 557.2 L733.4 557.3 L734.4 556.3 L735.4 556.6 L736.4 556.7 L737.4 556.4 L738.4 556.4 L739.4 556.9 L740.4 556.8 L741.4 556.3 L742.4 556.8 L743.4 557.2 L744.4 556.5 L745.4 556.7 L746.4 557.7 L747.4 557.6 L748.4 556.4 L749.4 556.6 L750.4 557.3 L751.4 556.7 L752.4 557.1 L753.4 557.0 L754.4 557.4 L755.4 556.2 L756.4 556.4 L757.4 556.8 L758.4 557.7 L759.4 557.2 L760.4 556.6 L761.4 557.5 L762.4 557.6 L763.4 557.3 L764.4 557.3 L765.4 557.6 L766.4 557.9 L767.4 557.5 L768.4 557.7 L769.4 557.5 L770.4 557.4 L771.4 557.2 L772.4 557.6 L773.4 557.4 L774.4 557.5 L775.4 558.0 L776.4 557.8 L777.4 558.0 L778.4 557.0 L779.4 557.9 L780.4 557.4 L781.4 557.4 L782.4 557.4 L783.4 558.2 L784.4 558.1 L785.4 557.5 L786.4 557.3 L787.4 557.8 L788.4 557.6 L789.4 558.5 L790.4 557.3 L791.4 557.1 L792.4 557.8 L793.4 557.9 L794.4 558.0 L795.4 558.2 L796.4 558.8 L797.4 557.8 L798.4 557.7 L799.4 557.3 L800.4 558.1 L801.4 558.3 L802.4 557.9 L803.4 558.5 L804.4 558.1 L805.4 558.7 L806.4 558.2 L807.4 557.7 L808.4 557.8 L809.4 557.5 L810.4 557.4 L811.4 558.2 L812.4 558.5 L813.4 559.0 L814.4 558.2 L815.4 558.1 L816.4 557.8 L817.4 558.6 L818.4 558.4 L819.4 558.0 L820.4 558.5 L821.4 558.5 L822.4 557.5 L823.4 558.6 L824.4 558.4 L825.4 558.2 L826.4 558.2 L827.4 559.0 L828.4 559.0 L829.4 559.1 L830.4 557.9 L831.4 558.1 L832.4 558.8 L833.4 557.9 L834.4 558.1 L835.4 557.7 L836.4 559.2 L837.4 558.9 L838.4 558.7 L839.4 558.6 L840.4 558.3 L841.4 558.4 L842.4 558.8 L843.4 558.3 L844.4 559.0 L845.4 558.4 L846.4 558.2 L847.4 559.1 L848.4 558.5 L849.4 558.8 L850.4 558.5 L851.4 557.7 L852.4 558.9 L853.4 558.1 L854.4 559.1 L855.4 558.1 L856.4 557.9 L857.4 558.8 L858.4 558.9 L859.4 558.8 L860.4 558.2 L861.4 559.1 L862.4 558.2 L863.4 558.6 L864.4 558.4 L865.4 558.6 L866.4 559.1 L867.4 558.5 L868.4 559.0 L869.4 559.1 L870.4 558.1 L871.4 558.4 L872.4 558.7 L873.4 558.6 L874.4 559.0 L875.4 558.1 L876.4 559.2 L877.4 559.2 L878.4 558.8 L879.4 558.4 L880.4 558.9 L881.4 558.7 L882.4 559.2 L883.4 558.9 L884.4 559.2 L885.4 558.8 L886.4 559.6 L887.4 558.1 L888.4 558.6 L889.4 559.2 L890.4 558.4 L891.4 559.3 L892.4 558.5 L893.4 559.1 L894.4 558.7 L895.4 558.9 L896.4 559.1 L897.4 559.0 L898.4 558.9 L899.4 559.9 L900.4 559.1 L901.4 558.7 L902.4 559.5 L903.4 559.4 L904.4 559.6 L905.4 559.9 L906.4 558.8 L907.4 559.6 L908.4 559.6 L909.4 559.2 L910.4 559.3 L911.4 558.0 L912.4 559.0 L913.4 559.9 L914.4 558.5 L915.4 559.0 L916.4 559.3 L917.4 559.5 L918.4 559.9 L919.4 558.5 L920.4 559.3 L921.4 559.6 L922.4 558.7 L923.4 559.3 L924.4 560.0 L925.4 559.8" stroke="#ad4f9e"/>
<path d="M135.0 562.0 L136.0 562.0 L137.0 562.0 L138.0 562.0 L139.0 562.0 L140.0 562.0 L141.0 562.0 L142.0 561.9 L143.0 561.9 L144.0 561.9 L145.0 561.9 L146.0 561.9 L147.0 561.9 L148.0 561.9 L149.0 561.8 L150.0 561.8 L151.0 561.8 L152.0 561.8 L153.0 561.8 L154.0 561.8 L155.0 561.8 L156.0 561.7 L157.0 561.7 L158.0 561.7 L159.0 561.7 L160.0 561.7 L161.0 561.7 L162.0 561.6 L163.0 561.6 L164.0 561.6 L165.0 561.6 L166.0 561.6 L167.0 561.6 L168.0 561.5 L169.0 561.5 L170.0 561.5 L171.0 561.5 L172.0 561.5 L173.0 561.4 L174.0 561.4 L175.0 561.4 L176.0 561.4 L177.0 561.4 L178.0 561.4 L179.0 561.3 L180.0 561.3 L181.0 561.3 L182.0 561.3 L183.0 561.3 L184.0 561.2 L185.0 561.2 L186.0 561.2 L187.0 561.2 L188.0 561.2 L189.0 561.1 L190.0 561.1 L191.0 561.1 L192.0 561.1 L193.0 561.0 L194.0 561.0 L195.0 561.0 L196.0 561.0 L197.0 561.0 L198.0 560.9 L199.0 560.9 L200.0 560.9 L201.0 560.9 L202.0 560.8 L203.0 560.8 L204.0 560.8 L205.0 560.8 L206.0 560.7 L207.0 560.7 L208.0 560.7 L209.0 560.7 L210.0 560.6 L211.0 560.6 L212.0 560.6 L213.0 560.6 L214.0 560.5 L215.0 560.5 L216.0 560.5 L217.0 560.4 L218.0 560.4 L219.0 560.4 L220.0 560.4 L221.0 560.3 L222.0 560.3 L223.0 560.3 L224.0 560.2 L225.0 560.2 L226.0 560.2 L227.0 560.1 L228.0 560.1 L229.0 560.1 L230.0 560.0 L231.0 560.0 L232.0 560.0 L233.0 559.9 L234.0 559.9 L235.0 559.9 L236.0 559.8 L237.0 559.8 L238.0 559.8 L239.0 559.7 L240.0 559.7 L241.0 559.6 L242.0 559.6 L243.0 559.6 L244.0 559.5 L245.0 559.5 L246.0 559.4 L247.0 559.4 L248.0 559.4 L249.0 559.3 L250.0 559.3 L251.0 559.2 L252.0 559.2 L253.0 559.1 L254.0 559.1 L255.0 559.0 L256.0 559.0 L257.0 558.9 L258.0 558.9 L259.0 558.8 L260.0 558.8 L260.9 558.7 L261.9 558.7 L262.9 558.6 L263.9 558.6 L264.9 558.5 L265.9 558.5 L266.9 558.4 L267.9 558.3 L268.9 558.3 L269.9 558.2 L270.9 558.2 L271.9 558.1 L272.9 558.0 L273.9 558.0 L274.9 557.9 L275.9 557.8 L276.9 557.8 L277.9 557.7 L278.9 557.6 L279.9 557.6 L280.9 557.5 L281.9 557.4 L282.9 557.3 L283.9 557.3 L284.9 557.2 L285.9 557.1 L286.9 557.0 L287.9 556.9 L288.9 556.8 L289.9 556.8 L290.9 556.7 L291.9 556.6 L292.9 556.5 L293.9 556.4 L294.9 556.3 L295.9 556.2 L296.8 556.1 L297.8 556.0 L298.8 555.9 L299.8 555.8 L300.8 555.6 L301.8 555.5 L302.8 555.4 L303.8 555.3 L304.8 555.2 L305.8 555.0 L306.8 554.9 L307.8 554.8 L308.8 554.6 L309.7 554.5 L310.7 554.3 L311.7 554.2 L312.7 554.0 L313.7 553.9 L314.7 553.7 L315.7 553.6 L316.7 553.4 L317.6 553.2 L318.6 553.0 L319.6 552.8 L320.6 552.7 L321.6 552.5 L322.6 552.2 L323.5 552.0 L324.5 551.8 L325.5 551.6 L326.5 551.4 L327.4 551.1 L328.4 550.9 L329.4 550.6 L330.3 550.3 L331.3 550.1 L332.2 549.8 L333.2 549.5 L334.1 549.2 L335.1 548.9 L336.0 548.5 L337.0 548.2 L337.9 547.8 L338.8 547.5 L339.8 547.1 L340.7 546.7 L341.6 546.3 L342.5 545.9 L343.4 545.4 L344.3 545.0 L345.2 544.5 L346.0 544.0 L346.9 543.5 L347.8 543.0 L348.6 542.4 L349.4 541.8 L350.2 541.3 L351.0 540.7 L351.8 540.0 L352.6 539.4 L353.3 538.7 L354.1 538.0 L354.8 537.3 L355.5 536.6 L356.1 535.9 L356.8 535.1 L357.4 534.4 L358.1 533.6 L358.7 532.8 L359.2 532.0 L359.8 531.1 L360.3 530.3 L360.9 529.4 L361.4 528.6 L361.9 527.7 L362.3 526.8 L362.8 525.9 L363.2 525.0 L363.6 524.1 L364.0 523.2 L364.4 522.3 L364.8 521.4 L365.2 520.4 L365.5 519.5 L365.9 518.5 L366.2 517.6 L366.5 516.7 L366.8 515.7 L367.1 514.7 L367.4 513.8 L367.7 512.8 L367.9 511.9 L368.2 510.9 L368.5 509.9 L368.7 508.9 L368.9 508.0 L369.1 507.0 L369.3 506.0 L369.5 505.0 L369.7 504.1 L369.9 503.1 L370.0 502.1 L370.2 501.1 L370.4 500.1 L370.5 499.1 L370.7 498.1 L370.8 497.1 L370.9 496.2 L371.1 495.2 L371.2 494.2 L371.4 493.2 L371.5 492.2 L371.6 491.2 L371.7 490.2 L371.9 489.2 L372.0 488.2 L372.1 487.2 L372.2 486.2 L372.3 485.2 L372.4 484.2 L372.5 483.2 L372.6 482.3 L372.8 481.3 L372.9 480.3 L373.0 479.3 L373.1 478.3 L373.2 477.3 L373.3 476.3 L373.4 475.3 L373.5 474.3 L373.6 473.3 L373.7 472.3 L373.9 471.3 L374.0 470.3 L374.1 469.3 L374.2 468.3 L374.3 467.3 L374.4 466.4 L374.5 465.4 L374.6 464.4 L374.7 463.4 L374.8 462.4 L374.9 461.4 L375.0 460.4 L375.1 459.4 L375.3 458.4 L375.4 457.4 L375.5 456.4 L375.6 455.4 L375.7 454.4 L375.8 453.4 L375.9 452.4 L376.0 451.4 L376.2 450.4 L376.3 449.5 L376.4 448.5 L376.5 447.5 L376.6 446.5 L376.7 445.5 L376.8 444.5 L376.9 443.5 L377.0 442.5 L377.1 441.5 L377.2 440.5 L377.3 439.5 L377.4 438.5 L377.5 437.5 L377.6 436.5 L377.7 435.5 L377.8 434.5 L377.9 433.5 L378.0 432.5 L378.1 431.5 L378.2 430.6 L378.3 429.6 L378.4 428.6 L378.5 427.6 L378.6 426.6 L378.7 425.6 L378.8 424.6 L378.8 423.6 L378.9 422.6 L379.0 421.6 L379.1 420.6 L379.1 419.6 L379.2 418.6 L379.3 417.6 L379.3 416.6 L379.4 415.6 L379.4 414.6 L379.5 413.6 L379.5 412.6 L379.6 411.6 L379.6 410.6 L379.7 409.6 L379.7 408.6 L379.8 407.6 L379.8 406.6 L379.9 405.6 L379.9 404.6 L380.0 403.6 L380.0 402.6 L380.1 401.6 L380.1 400.6 L380.1 399.6 L380.2 398.6 L380.2 397.6 L380.3 396.6 L380.3 395.6 L380.4 394.6 L380.4 393.6 L380.4 392.6 L380.5 391.6 L380.5 390.6 L380.6 389.6 L380.6 388.6 L380.7 387.6 L380.7 386.6 L380.8 385.6 L380.8 384.6 L380.9 383.6 L380.9 382.6 L381.0 381.6 L381.1 380.6 L381.1 379.6 L381.2 378.6 L381.3 377.6 L381.3 376.6 L381.4 375.7 L381.5 374.7 L381.5 373.7 L381.6 372.7 L381.7 371.7 L381.8 370.7 L381.9 369.7 L382.0 368.7 L382.0 367.7 L382.1 366.7 L382.2 365.7 L382.3 364.7 L382.4 363.7 L382.5 362.7 L382.6 361.7 L382.7 360.7 L382.8 359.7 L382.9 358.7 L383.0 357.7 L383.0 356.7 L383.1 355.7 L383.2 354.7 L383.3 353.7 L383.4 352.7 L383.5 351.7 L383.6 350.7 L383.7 349.7 L383.8 348.8 L383.8 347.8 L383.9 346.8 L384.0 345.8 L384.1 344.8 L384.1 343.8 L384.2 342.8 L384.3 341.8 L384.4 340.8 L384.4 339.8 L384.5 338.8 L384.5 337.8 L384.6 336.8 L384.7 335.8 L384.7 334.8 L384.8 333.8 L384.8 332.8 L384.9 331.8 L384.9 330.8 L385.0 329.8 L385.1 328.8 L385.1 327.8 L385.2 326.8 L385.2 325.8 L385.3 324.8 L385.3 323.8 L385.4 322.8 L385.4 321.8 L385.5 320.8 L385.5 319.8 L385.6 318.8 L385.6 317.8 L385.7 316.8 L385.7 315.8 L385.7 314.8 L385.8 313.8 L385.8 312.8 L385.9 311.8 L385.9 310.8 L386.0 309.8 L386.0 308.8 L386.1 307.8 L386.1 306.8 L386.2 305.8 L386.2 304.8 L386.3 303.8 L386.3 302.8 L386.3 301.8 L386.4 300.8 L386.4 299.8 L386.5 298.8 L386.5 297.8 L386.6 296.8 L386.6 295.8 L386.7 294.8 L386.7 293.8 L386.8 292.8 L386.8 291.8 L386.9 290.8 L386.9 289.8 L386.9 288.8 L387.0 287.8 L387.0 286.8 L387.1 285.8 L387.1 284.8 L387.2 283.8 L387.2 282.8 L387.3 281.8 L387.4 280.9 L387.4 279.9 L387.5 278.9 L387.5 277.9 L387.6 276.9 L387.6 275.9 L387.7 274.9 L387.7 273.9 L387.8 272.9 L387.9 271.9 L387.9 270.9 L388.0 269.9 L388.1 268.9 L388.1 267.9 L388.2 266.9 L388.2 265.9 L388.3 264.9 L388.4 263.9 L388.4 262.9 L388.5 261.9 L388.5 260.9 L388.6 259.9 L388.7 258.9 L388.7 257.9 L388.8 256.9 L388.9 255.9 L388.9 254.9 L389.0 253.9 L389.0 252.9 L389.1 251.9 L389.1 250.9 L389.2 249.9 L389.3 248.9 L389.3 247.9 L389.4 246.9 L389.4 245.9 L389.5 244.9 L389.5 243.9 L389.6 242.9 L389.6 241.9 L389.7 240.9 L389.7 239.9 L389.7 238.9 L389.8 237.9 L389.8 236.9 L389.9 235.9 L389.9 234.9 L389.9 233.9 L390.0 232.9 L390.0 231.9 L390.1 230.9 L390.1 229.9 L390.1 228.9 L390.2 227.9 L390.2 226.9 L390.2 225.9 L390.3 224.9 L390.3 223.9 L390.3 222.9 L390.4 221.9 L390.4 220.9 L390.4 219.9 L390.5 218.9 L390.5 217.9 L390.5 216.9 L390.6 215.9 L390.6 214.9 L390.6 213.9 L390.7 212.9 L390.7 211.9 L390.7 210.9 L390.7 209.9 L390.8 208.9 L390.8 207.9 L390.8 206.9 L390.9 205.9 L390.9 204.9 L390.9 203.9 L391.0 202.9 L391.0 201.9 L391.0 200.9 L391.0 199.9 L391.1 198.9 L391.1 197.9 L391.1 196.9 L391.2 195.9 L391.2 194.9 L391.2 193.9 L391.3 192.9 L391.3 191.9 L391.3 190.9 L391.4 189.9 L391.4 188.9 L391.4 187.9 L391.5 186.9 L391.5 185.9 L391.5 184.9 L391.6 183.9 L391.6 182.9 L391.6 181.9 L391.7 181.0 L391.7 180.0 L391.7 179.0 L391.8 178.0 L391.8 177.0 L391.9 176.0 L391.9 175.0 L391.9 174.0 L392.0 173.0 L392.0 172.0 L392.1 171.0 L392.1 170.0 L392.2 169.0 L392.2 168.0 L392.2 167.0 L392.3 166.0 L392.3 165.0 L392.4 164.0 L392.4 163.0 L392.5 162.0 L392.5 161.0 L392.6 160.0 L392.6 159.0 L392.7 158.0 L392.7 157.0 L392.8 156.0 L392.8 155.0 L392.9 154.0 L392.9 153.0 L393.0 152.0 L393.0 151.0 L393.1 150.0 L393.1 149.0 L393.2 148.0 L393.2 147.0 L393.2 146.0 L393.3 145.0 L393.3 144.0 L393.4 143.0 L393.4 142.0 L393.5 141.0 L393.5 140.0 L393.6 139.0 L393.6 138.0 L393.6 137.0 L393.7 136.0 L393.7 135.0 L393.8 134.0 L393.8 133.0 L393.9 132.0 L393.9 131.0 L393.9 130.0 L394.0 129.0 L394.0 128.0 L394.0 127.0 L394.1 126.0 L394.1 125.0 L394.1 124.0 L394.2 123.0 L394.2 122.0 L394.2 121.0 L394.2 120.0 L394.3 119.0 L394.3 118.0 L394.3 117.0 L394.3 116.0 L394.4 115.0 L394.4 114.0 L394.4 113.0 L394.4 112.0 L394.4 111.0 L394.5 110.0 L394.5 109.0 L394.5 108.0 L394.5 107.0 L394.6 106.0 L394.6 105.0 L394.6 104.0 L394.6 103.0 L394.7 102.0 L394.7 101.0 L394.7 100.0 L394.7 99.0 L394.8 98.0 L394.8 97.0 L394.8 96.0 L394.8 95.0 L394.9 94.0 L394.9 93.0 L394.9 92.0 L395.0 91.0 L395.0 90.0 L395.0 89.0 L395.1 88.0 L395.1 87.0 L395.2 86.0 L395.2 85.0 L395.3 84.0 L395.3 83.0 L395.4 82.0 L395.4 81.0 L395.5 80.0 L395.5 79.0 L395.6 78.0 L395.7 77.0 L396.0 76.0 L396.2 76.9 L396.4 77.9 L396.5 78.9 L396.5 79.9 L396.6 80.9 L396.6 81.9 L396.7 82.9 L396.7 83.9 L396.8 84.9 L396.8 85.9 L396.9 86.9 L396.9 87.9 L396.9 88.9 L397.0 89.9 L397.0 90.9 L397.1 91.9 L397.1 92.9 L397.1 93.9 L397.1 94.9 L397.2 95.9 L397.2 96.9 L397.2 97.9 L397.3 98.9 L397.3 99.9 L397.3 100.9 L397.3 101.9 L397.4 102.9 L397.4 103.9 L397.4 104.9 L397.4 105.9 L397.5 106.9 L397.5 107.9 L397.5 108.9 L397.5 109.9 L397.6 110.9 L397.6 111.9 L397.6 112.9 L397.6 113.9 L397.6 114.9 L397.7 115.9 L397.7 116.9 L397.7 117.9 L397.7 118.9 L397.7 119.9 L397.8 120.9 L397.8 121.9 L397.8 122.9 L397.8 123.9 L397.9 124.9 L397.9 125.9 L397.9 126.9 L397.9 127.9 L398.0 128.9 L398.0 129.9 L398.0 130.9 L398.1 131.9 L398.1 132.9 L398.1 133.9 L398.1 134.9 L398.2 135.9 L398.2 136.9 L398.2 137.9 L398.3 138.9 L398.3 139.9 L398.3 140.9 L398.3 141.9 L398.4 142.9 L398.4 143.9 L398.4 144.9 L398.5 145.9 L398.5 146.8 L398.5 147.8 L398.6 148.8 L398.6 149.8 L398.6 150.8 L398.6 151.8 L398.7 152.8 L398.7 153.8 L398.7 154.8 L398.8 155.8 L398.8 156.8 L398.8 157.8 L398.8 158.8 L398.9 159.8 L398.9 160.8 L398.9 161.8 L399.0 162.8 L399.0 163.8 L399.0 164.8 L399.0 165.8 L399.1 166.8 L399.1 167.8 L399.1 168.8 L399.2 169.8 L399.2 170.8 L399.2 171.8 L399.2 172.8 L399.3 173.8 L399.3 174.8 L399.3 175.8 L399.3 176.8 L399.4 177.8 L399.4 178.8 L399.4 179.8 L399.4 180.8 L399.4 181.8 L399.5 182.8 L399.5 183.8 L399.5 184.8 L399.5 185.8 L399.5 186.8 L399.6 187.8 L399.6 188.8 L399.6 189.8 L399.6 190.8 L399.6 191.8 L399.7 192.8 L399.7 193.8 L399.7 194.8 L399.7 195.8 L399.7 196.8 L399.7 197.8 L399.8 198.8 L399.8 199.8 L399.8 200.8 L399.8 201.8 L399.8 202.8 L399.8 203.8 L399.9 204.8 L399.9 205.8 L399.9 206.8 L399.9 207.8 L399.9 208.8 L399.9 209.8 L400.0 210.8 L400.0 211.8 L400.0 212.8 L400.0 213.8 L400.0 214.8 L400.0 215.8 L400.1 216.8 L400.1 217.8 L400.1 218.8 L400.1 219.8 L400.1 220.8 L400.1 221.8 L400.2 222.8 L400.2 223.8 L400.2 224.8 L400.2 225.8 L400.2 226.8 L400.2 227.8 L400.3 228.8 L400.3 229.8 L400.3 230.8 L400.3 231.8 L400.3 232.8 L400.4 233.8 L400.4 234.8 L400.4 235.8 L400.4 236.8 L400.5 237.8 L400.5 238.8 L400.5 239.8 L400.5 240.8 L400.5 241.8 L400.6 242.8 L400.6 243.8 L400.6 244.8 L400.6 245.8 L400.7 246.8 L400.7 247.8 L400.7 248.8 L400.7 249.8 L400.8 250.8 L400.8 251.8 L400.8 252.8 L400.9 253.8 L400.9 254.8 L400.9 255.8 L400.9 256.8 L401.0 257.8 L401.0 258.8 L401.0 259.8 L401.1 260.8 L401.1 261.8 L401.1 262.8 L401.1 263.8 L401.2 264.8 L401.2 265.8 L401.2 266.8 L401.3 267.8 L401.3 268.8 L401.3 269.8 L401.4 270.8 L401.4 271.8 L401.4 272.8 L401.5 273.8 L401.5 274.8 L401.5 275.8 L401.6 276.8 L401.6 277.8 L401.7 278.8 L401.7 279.8 L401.7 280.8 L401.8 281.8 L401.8 282.8 L401.8 283.8 L401.9 284.8 L401.9 285.8 L402.0 286.8 L402.0 287.8 L402.1 288.8 L402.1 289.8 L402.1 290.8 L402.2 291.8 L402.2 292.8 L402.3 293.8 L402.3 294.8 L402.4 295.8 L402.4 296.8 L402.5 297.8 L402.5 298.8 L402.6 299.8 L402.6 300.8 L402.6 301.8 L402.7 302.8 L402.7 303.8 L402.8 304.8 L402.8 305.8 L402.9 306.8 L403.0 307.8 L403.0 308.8 L403.1 309.8 L403.1 310.8 L403.2 311.8 L403.2 312.8 L403.3 313.8 L403.3 314.8 L403.4 315.8 L403.4 316.8 L403.5 317.8 L403.5 318.8 L403.6 319.8 L403.6 320.8 L403.7 321.8 L403.7 322.8 L403.8 323.8 L403.9 324.8 L403.9 325.8 L404.0 326.8 L404.0 327.8 L404.1 328.8 L404.1 329.7 L404.2 330.7 L404.2 331.7 L404.3 332.7 L404.4 333.7 L404.4 334.7 L404.5 335.7 L404.5 336.7 L404.6 337.7 L404.6 338.7 L404.7 339.7 L404.7 340.7 L404.8 341.7 L404.8 342.7 L404.9 343.7 L405.0 344.7 L405.0 345.7 L405.1 346.7 L405.1 347.7 L405.2 348.7 L405.2 349.7 L405.3 350.7 L405.3 351.7 L405.4 352.7 L405.4 353.7 L405.5 354.7 L405.5 355.7 L405.6 356.7 L405.7 357.7 L405.7 358.7 L405.8 359.7 L405.8 360.7 L405.9 361.7 L405.9 362.7 L406.0 363.7 L406.1 364.7 L406.1 365.7 L406.2 366.7 L406.2 367.7 L406.3 368.7 L406.4 369.7 L406.4 370.7 L406.5 371.7 L406.6 372.7 L406.6 373.7 L406.7 374.7 L406.8 375.7 L406.8 376.7 L406.9 377.7 L407.0 378.7 L407.1 379.7 L407.2 380.7 L407.2 381.7 L407.3 382.7 L407.4 383.6 L407.5 384.6 L407.6 385.6 L407.7 386.6 L407.8 387.6 L407.9 388.6 L408.0 389.6 L408.1 390.6 L408.2 391.6 L408.3 392.6 L408.4 393.6 L408.5 394.6 L408.6 395.6 L408.7 396.6 L408.8 397.6 L408.9 398.6 L409.0 399.6 L409.2 400.6 L409.3 401.6 L409.4 402.5 L409.5 403.5 L409.6 404.5 L409.8 405.5 L409.9 406.5 L410.0 407.5 L410.1 408.5 L410.3 409.5 L410.4 410.5 L410.5 411.5 L410.7 412.5 L410.8 413.5 L410.9 414.5 L411.1 415.4 L411.2 416.4 L411.3 417.4 L411.5 418.4 L411.6 419.4 L411.8 420.4 L411.9 421.4 L412.0 422.4 L412.2 423.4 L412.3 424.3 L412.5 425.3 L412.7 426.3 L412.8 427.3 L413.0 428.3 L413.1 429.3 L413.3 430.3 L413.5 431.3 L413.6 432.2 L413.8 433.2 L414.0 434.2 L414.2 435.2 L414.3 436.2 L414.5 437.2 L414.7 438.2 L414.9 439.1 L415.1 440.1 L415.3 441.1 L415.4 442.1 L415.6 443.1 L415.8 444.1 L416.0 445.0 L416.2 446.0 L416.4 447.0 L416.6 448.0 L416.8 449.0 L417.0 449.9 L417.2 450.9 L417.4 451.9 L417.6 452.9 L417.8 453.9 L418.0 454.8 L418.2 455.8 L418.4 456.8 L418.6 457.8 L418.8 458.8 L419.0 459.8 L419.2 460.7 L419.4 461.7 L419.6 462.7 L419.8 463.7 L420.0 464.7 L420.2 465.6 L420.5 466.6 L420.7 467.6 L420.9 468.6 L421.2 469.5 L421.4 470.5 L421.7 471.5 L421.9 472.4 L422.2 473.4 L422.5 474.3 L422.7 475.3 L423.0 476.2 L423.3 477.2 L423.7 478.1 L424.0 479.1 L424.4 480.0 L424.8 480.9 L425.1 481.9 L425.5 482.8 L425.9 483.7 L426.3 484.6 L426.7 485.5 L427.1 486.5 L427.5 487.4 L428.0 488.3 L428.4 489.2 L428.8 490.1 L429.3 491.0 L429.7 491.9 L430.2 492.7 L430.7 493.6 L431.2 494.5 L431.7 495.4 L432.2 496.2 L432.7 497.1 L433.2 497.9 L433.7 498.8 L434.3 499.6 L434.8 500.5 L435.4 501.3 L436.0 502.1 L436.5 502.9 L437.1 503.7 L437.7 504.5 L438.3 505.3 L439.0 506.1 L439.6 506.9 L440.2 507.7 L440.9 508.4 L441.5 509.2 L442.2 509.9 L442.9 510.7 L443.6 511.4 L444.3 512.1 L445.0 512.8 L445.7 513.5 L446.4 514.2 L447.2 514.9 L447.9 515.5 L448.7 516.2 L449.4 516.8 L450.2 517.5 L451.0 518.1 L451.7 518.7 L452.5 519.3 L453.3 519.9 L454.1 520.5 L455.0 521.1 L455.8 521.7 L456.6 522.2 L457.4 522.8 L458.3 523.3 L459.1 523.9 L460.0 524.4 L460.9 524.9 L461.7 525.4 L462.6 525.9 L463.5 526.4 L464.3 526.8 L465.2 527.3 L466.1 527.8 L467.0 528.2 L467.9 528.6 L468.8 529.1 L469.7 529.5 L470.6 529.9 L471.5 530.3 L472.5 530.7 L473.4 531.1 L474.3 531.5 L475.2 531.9 L476.2 532.3 L477.1 532.6 L478.0 533.0 L479.0 533.3 L479.9 533.7 L480.8 534.0 L481.8 534.3 L482.7 534.7 L483.7 535.0 L484.6 535.3 L485.6 535.6 L486.5 535.9 L487.5 536.2 L488.4 536.5 L489.4 536.8 L490.4 537.0 L491.3 537.3 L492.3 537.6 L493.3 537.9 L494.2 538.1 L495.2 538.4 L496.2 538.6 L497.1 538.9 L498.1 539.1 L499.1 539.3 L500.0 539.6 L501.0 539.8 L502.0 540.0 L503.0 540.3 L503.9 540.5 L504.9 540.7 L505.9 540.9 L506.9 541.1 L507.8 541.3 L508.8 541.5 L509.8 541.7 L510.8 541.9 L511.8 542.1 L512.7 542.3 L513.7 542.5 L514.7 542.7 L515.7 542.9 L516.7 543.0 L517.7 543.2 L518.6 543.4 L519.6 543.5 L520.6 543.7 L521.6 543.9 L522.6 544.0 L523.6 544.2 L524.6 544.4 L525.6 544.5 L526.5 544.7 L527.5 544.8 L528.5 545.0 L529.5 545.1 L530.5 545.3 L531.5 545.4 L532.5 545.5 L533.5 545.7 L534.5 545.8 L535.5 546.0 L536.4 546.1 L537.4 546.2 L538.4 546.3 L539.4 546.5 L540.4 546.6 L541.4 546.7 L542.4 546.8 L543.4 547.0 L544.4 547.1 L545.4 547.2 L546.4 547.3 L547.4 547.4 L548.4 547.5 L549.3 547.7 L550.3 547.8 L551.3 547.9 L552.3 548.0 L553.3 548.1 L554.3 548.2 L555.3 548.3 L556.3 548.4 L557.3 548.5 L558.3 548.6 L559.3 548.7 L560.3 548.8 L561.3 548.9 L562.3 549.0 L563.3 549.1 L564.3 549.2 L565.3 549.3 L566.3 549.4 L567.3 549.4 L568.3 549.5 L569.2 549.6 L570.2 549.7 L571.2 549.8 L572.2 549.9 L573.2 550.0 L574.2 550.1 L575.2 550.1 L576.2 550.2 L577.2 550.3 L578.2 550.4 L579.2 550.5 L580.2 550.5 L581.2 550.6 L582.2 550.7 L583.2 550.8 L584.2 550.8 L585.2 550.9 L586.2 551.0 L587.2 551.0 L588.2 551.1 L589.2 551.2 L590.2 551.3 L591.2 551.3 L592.2 551.4 L593.2 551.5 L594.2 551.5 L595.2 551.6 L596.2 551.7 L597.2 551.7 L598.2 551.8 L599.2 551.9 L600.2 551.9 L601.2 552.0 L602.2 552.0 L603.2 552.1 L604.2 552.2 L605.2 552.2 L606.2 552.3 L607.1 552.3 L608.1 552.4 L609.1 552.5 L610.1 552.5 L611.1 552.6 L612.1 552.6 L613.1 552.7 L614.1 552.7 L615.1 552.8 L616.1 552.8 L617.1 552.9 L618.1 553.0 L619.1 553.0 L620.1 553.1 L621.1 553.1 L622.1 553.2 L623.1 553.2 L624.1 553.3 L625.1 553.3 L626.1 553.4 L627.1 553.4 L628.1 553.5 L629.1 553.5 L630.1 553.6 L631.1 553.6 L632.1 553.6 L633.1 553.7 L634.1 553.7 L635.1 553.8 L636.1 553.8 L637.1 553.9 L638.1 553.9 L639.1 554.0 L640.1 554.0 L641.1 554.0 L642.1 554.1 L643.1 554.1 L644.1 554.2 L645.1 554.2 L646.1 554.3 L647.1 554.3 L648.1 554.3 L649.1 554.4 L650.1 554.4 L651.1 554.5 L652.1 554.5 L653.1 554.5 L654.1 554.6 L655.1 554.6 L656.1 554.7 L657.1 554.7 L658.1 554.7 L659.1 554.8 L660.1 554.8 L661.1 554.8 L662.1 554.9 L663.1 554.9 L664.1 554.9 L665.1 555.0 L666.1 555.0 L667.1 555.1 L668.1 555.1 L669.1 555.1 L670.1 555.2 L671.1 555.2 L672.1 555.2 L673.1 555.3 L674.1 555.3 L675.1 555.3 L676.1 555.4 L677.1 555.4 L678.1 555.4 L679.1 555.5 L680.1 555.5 L681.1 555.5 L682.1 555.5 L683.1 555.6 L684.1 555.6 L685.1 555.6 L686.1 555.7 L687.1 555.7 L688.1 555.7 L689.1 555.8 L690.1 555.8 L691.1 555.8 L692.1 555.8 L693.1 555.9 L694.1 555.9 L695.1 555.9 L696.1 556.0 L697.1 556.0 L698.1 556.0 L699.1 556.0 L700.1 556.1 L701.1 556.1 L702.1 556.1 L703.1 556.1 L704.1 556.2 L705.1 556.2 L706.1 556.2 L707.1 556.3 L708.1 556.3 L709.1 556.3 L710.1 556.3 L711.1 556.4 L712.1 556.4 L713.1 556.4 L714.1 556.4 L715.1 556.5 L716.1 556.5 L717.1 556.5 L718.1 556.5 L719.1 556.5 L720.1 556.6 L721.1 556.6 L722.1 556.6 L723.1 556.6 L724.1 556.7 L725.1 556.7 L726.1 556.7 L727.1 556.7 L728.1 556.8 L729.1 556.8 L730.1 556.8 L731.1 556.8 L732.1 556.8 L733.1 556.9 L734.1 556.9 L735.1 556.9 L736.1 556.9 L737.1 557.0 L738.1 557.0 L739.1 557.0 L740.1 557.0 L741.1 557.0 L742.1 557.1 L743.1 557.1 L744.1 557.1 L745.1 557.1 L746.1 557.1 L747.1 557.2 L748.1 557.2 L749.1 557.2 L750.1 557.2 L751.1 557.2 L752.1 557.3 L753.1 557.3 L754.1 557.3 L755.1 557.3 L756.1 557.3 L757.1 557.3 L758.1 557.4 L759.1 557.4 L760.1 557.4 L761.1 557.4 L762.1 557.4 L763.1 557.5 L764.1 557.5 L765.1 557.5 L766.1 557.5 L767.1 557.5 L768.1 557.5 L769.1 557.6 L770.1 557.6 L771.1 557.6 L772.1 557.6 L773.1 557.6 L774.1 557.6 L775.1 557.7 L776.1 557.7 L777.1 557.7 L778.1 557.7 L779.1 557.7 L780.1 557.7 L781.1 557.8 L782.1 557.8 L783.1 557.8 L784.1 557.8 L785.1 557.8 L786.1 557.8 L787.1 557.9 L788.1 557.9 L789.1 557.9 L790.1 557.9 L791.1 557.9 L792.1 557.9 L793.1 557.9 L794.1 558.0 L795.1 558.0 L796.1 558.0 L797.1 558.0 L798.1 558.0 L799.1 558.0 L800.1 558.0 L801.1 558.1 L802.1 558.1 L803.1 558.1 L804.1 558.1 L805.1 558.1 L806.1 558.1 L807.1 558.1 L808.1 558.2 L809.1 558.2 L810.1 558.2 L811.1 558.2 L812.1 558.2 L813.1 558.2 L814.1 558.2 L815.0 558.2 L816.0 558.3 L817.0 558.3 L818.0 558.3 L819.0 558.3 L820.0 558.3 L821.0 558.3 L822.0 558.3 L823.0 558.3 L824.0 558.4 L825.0 558.4 L826.0 558.4 L827.0 558.4 L828.0 558.4 L829.0 558.4 L830.0 558.4 L831.0 558.4 L832.0 558.5 L833.0 558.5 L834.0 558.5 L835.0 558.5 L836.0 558.5 L837.0 558.5 L838.0 558.5 L839.0 558.5 L840.0 558.6 L841.0 558.6 L842.0 558.6 L843.0 558.6 L844.0 558.6 L845.0 558.6 L846.0 558.6 L847.0 558.6 L848.0 558.6 L849.0 558.6 L850.0 558.7 L851.0 558.7 L852.0 558.7 L853.0 558.7 L854.0 558.7 L855.0 558.7 L856.0 558.7 L857.0 558.7 L858.0 558.7 L859.0 558.8 L860.0 558.8 L861.0 558.8 L862.0 558.8 L863.0 558.8 L864.0 558.8 L865.0 558.8 L866.0 558.8 L867.0 558.8 L868.0 558.8 L869.0 558.9 L870.0 558.9 L871.0 558.9 L872.0 558.9 L873.0 558.9 L874.0 558.9 L875.0 558.9 L876.0 558.9 L877.0 558.9 L878.0 558.9 L879.0 558.9 L880.0 559.0 L881.0 559.0 L882.0 559.0 L883.0 559.0 L884.0 559.0 L885.0 559.0 L886.0 559.0 L887.0 559.0 L888.0 559.0 L889.0 559.0 L890.0 559.0 L891.0 559.1 L892.0 559.1 L893.0 559.1 L894.0 559.1 L895.0 559.1 L896.0 559.1 L897.0 559.1 L898.0 559.1 L899.0 559.1 L900.0 559.1 L901.0 559.1 L902.0 559.1 L903.0 559.2 L904.0 559.2 L905.0 559.2 L906.0 559.2 L907.0 559.2 L908.0 559.2 L909.0 559.2 L910.0 559.2 L911.0 559.2 L912.0 559.2 L913.0 559.2 L914.0 559.2 L915.0 559.2 L916.0 559.3 L917.0 559.3 L918.0 559.3 L919.0 559.3 L920.0 559.3 L921.0 559.3" stroke="#2b52a6"/>
</g>
<g stroke="#000" stroke-width="4" fill="none" stroke-linecap="round">
<rect x="135.0" y="3.0" width="786.5" height="596.0" stroke-linejoin="round"/>
<line x1="135.0" y1="599.0" x2="135.0" y2="610.0"/>
<line x1="200.5" y1="599.0" x2="200.5" y2="604.2"/>
<line x1="266.1" y1="599.0" x2="266.1" y2="610.0"/>
<line x1="331.6" y1="599.0" x2="331.6" y2="604.2"/>
<line x1="397.2" y1="599.0" x2="397.2" y2="610.0"/>
<line x1="462.7" y1="599.0" x2="462.7" y2="604.2"/>
<line x1="528.2" y1="599.0" x2="528.2" y2="610.0"/>
<line x1="593.8" y1="599.0" x2="593.8" y2="604.2"/>
<line x1="659.3" y1="599.0" x2="659.3" y2="610.0"/>
<line x1="724.9" y1="599.0" x2="724.9" y2="604.2"/>
<line x1="790.4" y1="599.0" x2="790.4" y2="610.0"/>
<line x1="856.0" y1="599.0" x2="856.0" y2="604.2"/>
<line x1="921.5" y1="599.0" x2="921.5" y2="610.0"/>
<line x1="135.0" y1="578.0" x2="123.0" y2="578.0"/>
<line x1="135.0" y1="493.4" x2="123.0" y2="493.4"/>
<line x1="135.0" y1="408.8" x2="123.0" y2="408.8"/>
<line x1="135.0" y1="324.1" x2="123.0" y2="324.1"/>
<line x1="135.0" y1="239.5" x2="123.0" y2="239.5"/>
<line x1="135.0" y1="154.9" x2="123.0" y2="154.9"/>
<line x1="135.0" y1="70.3" x2="123.0" y2="70.3"/>
<line x1="135.0" y1="535.7" x2="128.5" y2="535.7"/>
<line x1="135.0" y1="451.1" x2="128.5" y2="451.1"/>
<line x1="135.0" y1="366.4" x2="128.5" y2="366.4"/>
<line x1="135.0" y1="281.8" x2="128.5" y2="281.8"/>
<line x1="135.0" y1="197.2" x2="128.5" y2="197.2"/>
<line x1="135.0" y1="112.6" x2="128.5" y2="112.6"/>
<line x1="135.0" y1="28.0" x2="128.5" y2="28.0"/>
</g>
<g font-size="31" fill="#000">
<text transform="translate(135.0 642) scale(0.968 1)" text-anchor="middle">330</text>
<text transform="translate(266.1 642) scale(0.968 1)" text-anchor="middle">340</text>
<text transform="translate(397.2 642) scale(0.968 1)" text-anchor="middle">350</text>
<text transform="translate(528.2 642) scale(0.968 1)" text-anchor="middle">360</text>
<text transform="translate(659.3 642) scale(0.968 1)" text-anchor="middle">370</text>
<text transform="translate(790.4 642) scale(0.968 1)" text-anchor="middle">380</text>
<text transform="translate(921.5 642) scale(0.968 1)" text-anchor="middle">390</text>
<text transform="translate(115.0 586.4) scale(0.968 1)" text-anchor="end">0</text>
<text transform="translate(115.0 501.8) scale(0.968 1)" text-anchor="end">100</text>
<text transform="translate(115.0 417.2) scale(0.968 1)" text-anchor="end">200</text>
<text transform="translate(115.0 332.5) scale(0.968 1)" text-anchor="end">300</text>
<text transform="translate(115.0 247.9) scale(0.968 1)" text-anchor="end">400</text>
<text transform="translate(115.0 163.3) scale(0.968 1)" text-anchor="end">500</text>
<text transform="translate(115.0 78.7) scale(0.968 1)" text-anchor="end">600</text>
</g>
<text x="383" y="691.7" font-size="34.7">Temperature (K)</text>
<g fill="#000" stroke="none"><path d="M0.5 304.8 Q1 304.2 4 304.4 L16.3 309.9 Q17.6 311.4 16 312.1 L3 310.6 Q0.6 310.2 0.5 308 Z"/><circle cx="16.0" cy="320.4" r="2.9"/><circle cx="32.6" cy="319.7" r="3.0"/><path d="M14 321 C11.8 323 11.5 330.5 13.8 333.8 C15.8 336.6 21.5 337.6 24.8 333.5 L24 329.5 C22.8 331.2 21 331.5 19.2 331.3 C16.6 331 15.3 329.2 15.3 327 C15.3 325.2 16.2 324 17.5 323.2 Z"/><path d="M34.8 318.8 C37.8 320.5 39.2 324 38.9 328 C38.6 334 34.5 338.3 30.3 338.2 C27.3 338.1 25.2 336 24.4 333.5 L25.4 329.5 C26.7 331.2 28.8 331.8 30.9 331.6 C33.6 331.4 35.2 329.6 35.2 327 C35.2 325.3 34.5 324 33.2 323 Z"/><path d="M23.7 323.2 Q24.7 321.4 25.7 323.2 L26 332 L23.4 332 Z"/></g>
<line x1="175.8" y1="91.0" x2="236.6" y2="91.0" stroke="#000000" stroke-width="6.4" stroke-linecap="round"/>
<text x="246.3" y="101.0" font-size="32">500 Hz</text>
<line x1="175.8" y1="131.1" x2="236.6" y2="131.1" stroke="#66bb3a" stroke-width="6.4" stroke-linecap="round"/>
<text x="246.3" y="141.1" font-size="32">1 kHz</text>
<line x1="175.8" y1="171.1" x2="236.6" y2="171.1" stroke="#dd2a22" stroke-width="6.4" stroke-linecap="round"/>
<text x="246.3" y="181.1" font-size="32">5 kHz</text>
<line x1="175.8" y1="211.2" x2="236.6" y2="211.2" stroke="#70c8d4" stroke-width="6.4" stroke-linecap="round"/>
<text x="246.3" y="221.2" font-size="32">10 kHz</text>
<line x1="175.8" y1="251.2" x2="236.6" y2="251.2" stroke="#ad4f9e" stroke-width="6.4" stroke-linecap="round"/>
<text x="246.3" y="261.2" font-size="32">100 kHz</text>
<line x1="175.8" y1="291.3" x2="236.6" y2="291.3" stroke="#2b52a6" stroke-width="6.4" stroke-linecap="round"/>
<text x="246.3" y="301.3" font-size="32">1 MHz</text>
<rect x="528.2" y="56.5" width="377.5" height="339.5" fill="#f7c6db"/>
<defs><clipPath id="iclip"><rect x="528.2" y="56.5" width="377.5" height="339.5"/></clipPath></defs>
<g clip-path="url(#iclip)" fill="#fff" stroke="#e8281e" stroke-width="1.1">
<circle cx="520.0" cy="81.1" r="5.35"/>
<circle cx="522.9" cy="81.6" r="5.35"/>
<circle cx="524.8" cy="83.0" r="5.35"/>
<circle cx="527.5" cy="84.6" r="5.35"/>
<circle cx="530.0" cy="85.1" r="5.35"/>
<circle cx="532.8" cy="87.3" r="5.35"/>
<circle cx="535.0" cy="88.6" r="5.35"/>
<circle cx="537.1" cy="90.1" r="5.35"/>
<circle cx="540.0" cy="91.2" r="5.35"/>
<circle cx="542.1" cy="92.9" r="5.35"/>
<circle cx="544.3" cy="93.3" r="5.35"/>
<circle cx="547.2" cy="95.2" r="5.35"/>
<circle cx="548.9" cy="96.7" r="5.35"/>
<circle cx="551.9" cy="98.1" r="5.35"/>
<circle cx="554.0" cy="100.2" r="5.35"/>
<circle cx="557.2" cy="101.7" r="5.35"/>
<circle cx="559.1" cy="103.8" r="5.35"/>
<circle cx="562.1" cy="105.2" r="5.35"/>
<circle cx="564.5" cy="107.7" r="5.35"/>
<circle cx="566.7" cy="108.8" r="5.35"/>
<circle cx="569.4" cy="111.3" r="5.35"/>
<circle cx="572.0" cy="112.6" r="5.35"/>
<circle cx="573.8" cy="114.9" r="5.35"/>
<circle cx="575.9" cy="117.5" r="5.35"/>
<circle cx="579.2" cy="119.3" r="5.35"/>
<circle cx="581.9" cy="122.2" r="5.35"/>
<circle cx="584.1" cy="124.2" r="5.35"/>
<circle cx="586.7" cy="125.7" r="5.35"/>
<circle cx="588.9" cy="128.8" r="5.35"/>
<circle cx="590.6" cy="131.1" r="5.35"/>
<circle cx="593.5" cy="133.8" r="5.35"/>
<circle cx="595.9" cy="136.1" r="5.35"/>
<circle cx="598.7" cy="138.7" r="5.35"/>
<circle cx="601.2" cy="142.2" r="5.35"/>
<circle cx="603.6" cy="145.4" r="5.35"/>
<circle cx="606.2" cy="149.3" r="5.35"/>
<circle cx="608.2" cy="152.7" r="5.35"/>
<circle cx="611.1" cy="156.6" r="5.35"/>
<circle cx="612.6" cy="159.2" r="5.35"/>
<circle cx="615.7" cy="161.7" r="5.35"/>
<circle cx="617.6" cy="165.0" r="5.35"/>
<circle cx="620.0" cy="167.5" r="5.35"/>
<circle cx="623.3" cy="169.2" r="5.35"/>
<circle cx="625.2" cy="172.0" r="5.35"/>
<circle cx="627.9" cy="176.0" r="5.35"/>
<circle cx="631.0" cy="177.4" r="5.35"/>
<circle cx="632.5" cy="181.5" r="5.35"/>
<circle cx="635.7" cy="184.5" r="5.35"/>
<circle cx="637.3" cy="187.7" r="5.35"/>
<circle cx="640.0" cy="190.8" r="5.35"/>
<circle cx="642.2" cy="194.5" r="5.35"/>
<circle cx="644.8" cy="197.6" r="5.35"/>
<circle cx="646.8" cy="200.4" r="5.35"/>
<circle cx="648.8" cy="205.0" r="5.35"/>
<circle cx="651.0" cy="207.1" r="5.35"/>
<circle cx="653.6" cy="211.3" r="5.35"/>
<circle cx="655.8" cy="214.5" r="5.35"/>
<circle cx="656.7" cy="217.2" r="5.35"/>
<circle cx="659.0" cy="222.3" r="5.35"/>
<circle cx="659.7" cy="224.2" r="5.35"/>
<circle cx="661.5" cy="227.5" r="5.35"/>
<circle cx="662.4" cy="231.1" r="5.35"/>
<circle cx="663.7" cy="235.0" r="5.35"/>
<circle cx="664.8" cy="238.3" r="5.35"/>
<circle cx="665.8" cy="241.4" r="5.35"/>
<circle cx="666.5" cy="243.9" r="5.35"/>
<circle cx="668.7" cy="247.6" r="5.35"/>
<circle cx="670.0" cy="251.5" r="5.35"/>
<circle cx="671.6" cy="255.1" r="5.35"/>
<circle cx="672.8" cy="258.1" r="5.35"/>
<circle cx="673.5" cy="261.1" r="5.35"/>
<circle cx="674.7" cy="264.2" r="5.35"/>
<circle cx="675.8" cy="268.0" r="5.35"/>
<circle cx="677.1" cy="271.3" r="5.35"/>
<circle cx="677.4" cy="274.8" r="5.35"/>
<circle cx="679.0" cy="278.7" r="5.35"/>
<circle cx="680.1" cy="281.4" r="5.35"/>
<circle cx="680.6" cy="286.0" r="5.35"/>
<circle cx="682.1" cy="289.3" r="5.35"/>
<circle cx="683.5" cy="291.5" r="5.35"/>
<circle cx="683.8" cy="295.5" r="5.35"/>
<circle cx="684.8" cy="299.0" r="5.35"/>
<circle cx="685.6" cy="302.2" r="5.35"/>
<circle cx="685.9" cy="305.5" r="5.35"/>
<circle cx="687.1" cy="309.0" r="5.35"/>
<circle cx="688.3" cy="312.6" r="5.35"/>
<circle cx="689.8" cy="315.8" r="5.35"/>
<circle cx="690.8" cy="319.1" r="5.35"/>
<circle cx="691.6" cy="322.3" r="5.35"/>
<circle cx="692.7" cy="325.9" r="5.35"/>
<circle cx="693.9" cy="329.4" r="5.35"/>
<circle cx="694.3" cy="332.9" r="5.35"/>
<circle cx="695.4" cy="335.4" r="5.35"/>
<circle cx="696.7" cy="338.8" r="5.35"/>
<circle cx="698.3" cy="342.2" r="5.35"/>
<circle cx="699.8" cy="345.4" r="5.35"/>
<circle cx="702.9" cy="349.2" r="5.35"/>
<circle cx="704.5" cy="352.1" r="5.35"/>
<circle cx="706.8" cy="355.4" r="5.35"/>
<circle cx="709.3" cy="356.9" r="5.35"/>
<circle cx="712.5" cy="357.6" r="5.35"/>
<circle cx="714.8" cy="359.9" r="5.35"/>
<circle cx="717.3" cy="360.4" r="5.35"/>
<circle cx="720.0" cy="361.2" r="5.35"/>
<circle cx="722.2" cy="361.8" r="5.35"/>
<circle cx="724.8" cy="362.1" r="5.35"/>
<circle cx="727.3" cy="362.7" r="5.35"/>
<circle cx="729.1" cy="362.2" r="5.35"/>
<circle cx="732.4" cy="360.5" r="5.35"/>
<circle cx="734.1" cy="358.1" r="5.35"/>
<circle cx="736.6" cy="355.2" r="5.35"/>
<circle cx="739.2" cy="351.3" r="5.35"/>
<circle cx="741.6" cy="348.8" r="5.35"/>
<circle cx="743.8" cy="345.5" r="5.35"/>
<circle cx="746.0" cy="342.9" r="5.35"/>
<circle cx="749.2" cy="341.3" r="5.35"/>
<circle cx="751.3" cy="338.3" r="5.35"/>
<circle cx="753.7" cy="334.2" r="5.35"/>
<circle cx="756.3" cy="332.6" r="5.35"/>
<circle cx="758.5" cy="330.0" r="5.35"/>
<circle cx="761.4" cy="326.9" r="5.35"/>
<circle cx="763.1" cy="324.9" r="5.35"/>
<circle cx="766.0" cy="322.5" r="5.35"/>
<circle cx="768.9" cy="321.2" r="5.35"/>
<circle cx="770.8" cy="318.5" r="5.35"/>
<circle cx="773.7" cy="316.3" r="5.35"/>
<circle cx="776.2" cy="313.6" r="5.35"/>
<circle cx="778.5" cy="312.5" r="5.35"/>
<circle cx="781.0" cy="309.1" r="5.35"/>
<circle cx="783.4" cy="307.7" r="5.35"/>
<circle cx="785.7" cy="304.7" r="5.35"/>
<circle cx="788.6" cy="302.2" r="5.35"/>
<circle cx="790.7" cy="300.5" r="5.35"/>
<circle cx="792.5" cy="298.9" r="5.35"/>
<circle cx="795.5" cy="295.6" r="5.35"/>
<circle cx="798.0" cy="293.7" r="5.35"/>
<circle cx="799.5" cy="291.3" r="5.35"/>
<circle cx="802.7" cy="289.7" r="5.35"/>
<circle cx="805.1" cy="287.2" r="5.35"/>
<circle cx="807.6" cy="284.8" r="5.35"/>
<circle cx="810.3" cy="282.8" r="5.35"/>
<circle cx="812.4" cy="280.8" r="5.35"/>
<circle cx="814.4" cy="278.0" r="5.35"/>
<circle cx="817.8" cy="276.3" r="5.35"/>
<circle cx="819.6" cy="274.1" r="5.35"/>
<circle cx="822.0" cy="271.9" r="5.35"/>
<circle cx="824.4" cy="269.8" r="5.35"/>
<circle cx="826.6" cy="268.1" r="5.35"/>
<circle cx="829.4" cy="264.6" r="5.35"/>
<circle cx="832.0" cy="263.0" r="5.35"/>
<circle cx="834.6" cy="260.4" r="5.35"/>
<circle cx="837.1" cy="260.3" r="5.35"/>
<circle cx="839.0" cy="256.6" r="5.35"/>
<circle cx="841.7" cy="254.5" r="5.35"/>
<circle cx="843.7" cy="252.0" r="5.35"/>
<circle cx="846.9" cy="250.7" r="5.35"/>
<circle cx="849.8" cy="248.9" r="5.35"/>
<circle cx="851.8" cy="249.0" r="5.35"/>
<circle cx="853.9" cy="245.9" r="5.35"/>
<circle cx="856.6" cy="244.9" r="5.35"/>
<circle cx="859.4" cy="243.6" r="5.35"/>
<circle cx="861.3" cy="242.3" r="5.35"/>
<circle cx="865.0" cy="241.5" r="5.35"/>
<circle cx="865.6" cy="239.6" r="5.35"/>
<circle cx="868.7" cy="238.8" r="5.35"/>
<circle cx="871.3" cy="238.2" r="5.35"/>
<circle cx="874.1" cy="236.5" r="5.35"/>
<circle cx="876.3" cy="234.8" r="5.35"/>
<circle cx="878.8" cy="234.0" r="5.35"/>
<circle cx="881.3" cy="231.8" r="5.35"/>
<circle cx="884.0" cy="230.4" r="5.35"/>
<circle cx="886.0" cy="228.3" r="5.35"/>
<circle cx="888.3" cy="226.6" r="5.35"/>
<circle cx="890.0" cy="225.5" r="5.35"/>
<circle cx="893.6" cy="223.2" r="5.35"/>
<circle cx="896.3" cy="221.7" r="5.35"/>
<circle cx="898.5" cy="218.8" r="5.35"/>
<circle cx="900.7" cy="218.5" r="5.35"/>
<circle cx="903.8" cy="217.6" r="5.35"/>
<circle cx="906.3" cy="214.7" r="5.35"/>
<circle cx="907.4" cy="214.1" r="5.35"/>
<circle cx="910.6" cy="212.9" r="5.35"/>
<circle cx="913.0" cy="211.2" r="5.35"/>
</g>
<g stroke="#000" stroke-width="6.4" stroke-linecap="round">
<line x1="596.1" y1="113.2" x2="723.4" y2="371.7"/>
<line x1="724.6" y1="360.3" x2="870.4" y2="231.8"/>
</g>
<g stroke="#000" stroke-width="3.8" fill="none" stroke-linecap="round">
<rect x="528.2" y="56.5" width="377.5" height="339.5" stroke-linejoin="round"/>
<line x1="528.5" y1="396.0" x2="528.5" y2="402.2"/>
<line x1="627.9" y1="396.0" x2="627.9" y2="402.2"/>
<line x1="727.2" y1="396.0" x2="727.2" y2="402.2"/>
<line x1="826.5" y1="396.0" x2="826.5" y2="402.2"/>
<line x1="578.2" y1="396.0" x2="578.2" y2="399.7"/>
<line x1="677.5" y1="396.0" x2="677.5" y2="399.7"/>
<line x1="776.9" y1="396.0" x2="776.9" y2="399.7"/>
<line x1="876.2" y1="396.0" x2="876.2" y2="399.7"/>
<line x1="528.2" y1="374.5" x2="521.3000000000001" y2="374.5"/>
<line x1="528.2" y1="309.5" x2="521.3000000000001" y2="309.5"/>
<line x1="528.2" y1="244.5" x2="521.3000000000001" y2="244.5"/>
<line x1="528.2" y1="179.5" x2="521.3000000000001" y2="179.5"/>
<line x1="528.2" y1="114.5" x2="521.3000000000001" y2="114.5"/>
<line x1="528.2" y1="342.0" x2="524.2" y2="342.0"/>
<line x1="528.2" y1="277.0" x2="524.2" y2="277.0"/>
<line x1="528.2" y1="212.0" x2="524.2" y2="212.0"/>
<line x1="528.2" y1="147.0" x2="524.2" y2="147.0"/>
<line x1="528.2" y1="82.0" x2="524.2" y2="82.0"/>
</g>
<g font-size="26" fill="#000">
<text x="528.5" y="429" text-anchor="middle">340</text>
<text x="627.9" y="429" text-anchor="middle">345</text>
<text x="727.2" y="429" text-anchor="middle">350</text>
<text x="826.5" y="429" text-anchor="middle">355</text>
<text x="516.5" y="381.7" text-anchor="end">0.00</text>
<text x="516.5" y="316.7" text-anchor="end">0.01</text>
<text x="516.5" y="251.7" text-anchor="end">0.02</text>
<text x="516.5" y="186.7" text-anchor="end">0.03</text>
<text x="516.5" y="121.7" text-anchor="end">0.04</text>
</g>
<text x="615.5" y="461.6" font-size="29.8">Temperature (K)</text>
<text x="659" y="111.7" font-size="29.8">Fit with the</text>
<text x="659" y="149.3" font-size="29.8">Curie-Weiss law</text>
<text transform="translate(452.8 262.3) rotate(-90)" font-family="Liberation Serif" font-weight="normal" font-size="28" stroke="#000" stroke-width="0.45" style="font-family:'Liberation Serif',serif;font-weight:normal">1/</text>
<g transform="translate(436.4 225.9) scale(0.61) translate(-11.8 -316.8)"><g fill="#000" stroke="none"><path d="M0.5 304.8 Q1 304.2 4 304.4 L16.3 309.9 Q17.6 311.4 16 312.1 L3 310.6 Q0.6 310.2 0.5 308 Z"/><circle cx="16.0" cy="320.4" r="2.9"/><circle cx="32.6" cy="319.7" r="3.0"/><path d="M14 321 C11.8 323 11.5 330.5 13.8 333.8 C15.8 336.6 21.5 337.6 24.8 333.5 L24 329.5 C22.8 331.2 21 331.5 19.2 331.3 C16.6 331 15.3 329.2 15.3 327 C15.3 325.2 16.2 324 17.5 323.2 Z"/><path d="M34.8 318.8 C37.8 320.5 39.2 324 38.9 328 C38.6 334 34.5 338.3 30.3 338.2 C27.3 338.1 25.2 336 24.4 333.5 L25.4 329.5 C26.7 331.2 28.8 331.8 30.9 331.6 C33.6 331.4 35.2 329.6 35.2 327 C35.2 325.3 34.5 324 33.2 323 Z"/><path d="M23.7 323.2 Q24.7 321.4 25.7 323.2 L26 332 L23.4 332 Z"/></g></g>
</svg></body></html>
